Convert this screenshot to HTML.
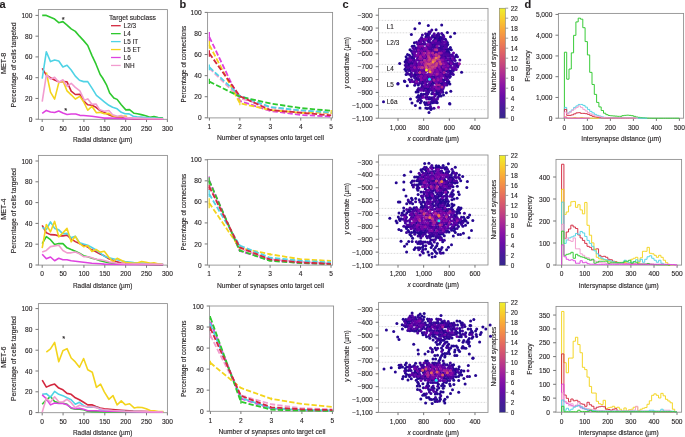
<!DOCTYPE html><html><head><meta charset="utf-8"><style>html,body{margin:0;padding:0;background:#fff;}body{width:685px;height:437px;overflow:hidden;position:relative;}</style></head><body><svg width="685" height="437" viewBox="0 0 685 437" style="position:absolute;left:0;top:0;will-change:transform;font-family:'Liberation Sans', sans-serif;fill:#231f20"><style>text{stroke:#231f20;stroke-width:0.12px;}</style>
<rect width="685" height="437" fill="#fff"/>
<text x="-0.40" y="7.75" font-size="11" text-anchor="start" font-weight="bold">a</text>
<text x="179.60" y="7.75" font-size="11" text-anchor="start" font-weight="bold">b</text>
<text x="342.60" y="7.75" font-size="11" text-anchor="start" font-weight="bold">c</text>
<text x="524.60" y="7.75" font-size="11" text-anchor="start" font-weight="bold">d</text>
<rect x="38.40" y="9.60" width="129.00" height="109.70" fill="none" stroke="#8c8c8c" stroke-width="0.85"/>
<line x1="35.50" y1="119.20" x2="38.40" y2="119.20" stroke="#777" stroke-width="1.0" />
<text x="32.40" y="121.75" font-size="6.6" text-anchor="end">0</text>
<line x1="35.50" y1="98.44" x2="38.40" y2="98.44" stroke="#777" stroke-width="1.0" />
<text x="32.40" y="100.99" font-size="6.6" text-anchor="end">20</text>
<line x1="35.50" y1="77.68" x2="38.40" y2="77.68" stroke="#777" stroke-width="1.0" />
<text x="32.40" y="80.23" font-size="6.6" text-anchor="end">40</text>
<line x1="35.50" y1="56.92" x2="38.40" y2="56.92" stroke="#777" stroke-width="1.0" />
<text x="32.40" y="59.47" font-size="6.6" text-anchor="end">60</text>
<line x1="35.50" y1="36.16" x2="38.40" y2="36.16" stroke="#777" stroke-width="1.0" />
<text x="32.40" y="38.71" font-size="6.6" text-anchor="end">80</text>
<line x1="35.50" y1="15.40" x2="38.40" y2="15.40" stroke="#777" stroke-width="1.0" />
<text x="32.40" y="17.95" font-size="6.6" text-anchor="end">100</text>
<line x1="42.20" y1="119.30" x2="42.20" y2="122.00" stroke="#777" stroke-width="1.0" />
<text x="42.20" y="130.60" font-size="6.6" text-anchor="middle">0</text>
<line x1="63.07" y1="119.30" x2="63.07" y2="122.00" stroke="#777" stroke-width="1.0" />
<text x="63.07" y="130.60" font-size="6.6" text-anchor="middle">50</text>
<line x1="83.93" y1="119.30" x2="83.93" y2="122.00" stroke="#777" stroke-width="1.0" />
<text x="83.93" y="130.60" font-size="6.6" text-anchor="middle">100</text>
<line x1="104.80" y1="119.30" x2="104.80" y2="122.00" stroke="#777" stroke-width="1.0" />
<text x="104.80" y="130.60" font-size="6.6" text-anchor="middle">150</text>
<line x1="125.66" y1="119.30" x2="125.66" y2="122.00" stroke="#777" stroke-width="1.0" />
<text x="125.66" y="130.60" font-size="6.6" text-anchor="middle">200</text>
<line x1="146.53" y1="119.30" x2="146.53" y2="122.00" stroke="#777" stroke-width="1.0" />
<text x="146.53" y="130.60" font-size="6.6" text-anchor="middle">250</text>
<line x1="167.39" y1="119.30" x2="167.39" y2="122.00" stroke="#777" stroke-width="1.0" />
<text x="167.39" y="130.60" font-size="6.6" text-anchor="middle">300</text>
<text x="102.60" y="141.70" font-size="6.4" text-anchor="middle" textLength="59.4" lengthAdjust="spacingAndGlyphs">Radial distance (µm)</text>
<text x="15.60" y="64.90" font-size="6.4" text-anchor="middle" transform="rotate(-90 15.60 64.90)" textLength="85" lengthAdjust="spacingAndGlyphs">Percentage of cells targeted</text>
<text x="5.60" y="63.40" font-size="6.4" text-anchor="middle" transform="rotate(-90 5.60 63.40)" textLength="21.3" lengthAdjust="spacingAndGlyphs">MET-8</text>
<polyline points="42.20,68.34 46.34,75.19 50.48,77.68 54.62,79.96 58.76,81.83 62.90,81.52 67.04,81.83 71.18,91.17 75.32,94.50 79.87,94.39 83.60,100.93 87.74,104.77 91.88,105.29 96.02,107.26 99.75,110.27 104.30,112.56 108.85,114.74 112.58,116.19 117.13,117.12 121.27,117.64 125.00,118.16 133.28,118.58 145.70,118.78 163.09,118.99" fill="none" stroke="#d3283f" stroke-width="1.6" stroke-linejoin="round"/>
<polyline points="42.20,15.40 46.34,15.40 50.48,17.16 54.62,19.03 58.76,22.67 62.90,21.63 67.04,25.05 71.18,28.89 75.32,31.39 79.46,36.16 83.60,40.62 87.74,45.50 91.88,55.36 96.02,64.19 100.16,74.57 102.64,77.99 106.78,85.47 109.68,92.94 113.82,97.92 117.13,99.37 121.27,104.77 125.83,109.86 129.55,109.65 134.11,113.28 137.42,113.80 141.15,114.63 145.70,115.77 149.84,117.23 153.98,116.61 158.12,117.64 163.09,118.16" fill="none" stroke="#2ec82e" stroke-width="1.6" stroke-linejoin="round"/>
<polyline points="42.20,78.72 46.34,51.73 50.48,61.59 54.62,60.03 58.76,61.07 62.90,66.99 67.04,65.22 71.18,70.00 75.32,76.12 79.46,80.28 83.60,81.62 87.74,81.62 92.29,88.58 96.43,95.43 100.16,98.44 104.30,101.76 108.85,105.29 112.58,107.26 117.13,108.82 121.27,112.35 125.00,113.70 129.14,113.91 133.28,116.19 137.01,116.71 141.15,117.12 145.70,117.54 149.84,117.85 153.98,118.06 158.12,118.27 163.09,118.47" fill="none" stroke="#4fd3e5" stroke-width="1.6" stroke-linejoin="round"/>
<polyline points="46.34,72.49 50.48,92.21 54.62,99.17 58.76,82.87 62.90,80.79 67.04,90.86 71.18,94.81 75.32,99.06 79.87,96.36 83.60,101.76 87.74,110.27 91.88,106.33 96.43,112.76 100.16,112.35 104.30,113.80 108.85,113.39 112.58,115.67 117.13,116.71 121.27,116.71 125.00,116.09 127.07,116.61" fill="none" stroke="#f3d41c" stroke-width="1.6" stroke-linejoin="round"/>
<polyline points="42.20,113.39 46.34,110.38 50.48,111.93 54.62,112.45 58.76,111.00 62.90,112.97 67.04,114.43 71.18,114.01 75.73,114.01 79.87,115.36 83.60,115.57 91.88,116.19 100.57,117.44 104.30,118.16 108.85,118.16 125.00,118.58 145.70,118.78 163.09,118.89" fill="none" stroke="#df42e0" stroke-width="1.6" stroke-linejoin="round"/>
<polyline points="42.20,101.55 46.34,75.09 50.48,78.93 54.62,77.37 58.76,82.35 62.90,79.76 67.04,86.30 71.18,83.29 75.32,87.33 79.87,90.86 84.43,100.31 87.74,98.86 91.88,104.25 96.02,104.05 99.75,109.86 104.30,111.31 108.85,110.58 112.58,114.74 117.13,116.19 121.27,115.46 125.00,117.12 129.14,117.95 137.42,118.16 149.84,118.58 163.09,118.78" fill="none" stroke="#f29ccf" stroke-width="1.6" stroke-linejoin="round"/>
<text x="63.30" y="22.10" font-size="7.5" text-anchor="middle">*</text>
<text x="65.80" y="113.20" font-size="7.5" text-anchor="middle">*</text>
<text x="109.00" y="20.30" font-size="6.4" text-anchor="start" textLength="46.9" lengthAdjust="spacingAndGlyphs">Target subclass</text>
<line x1="111.00" y1="25.70" x2="120.70" y2="25.70" stroke="#d3283f" stroke-width="1.3" />
<text x="123.60" y="28.00" font-size="6.4" text-anchor="start">L2/3</text>
<line x1="111.00" y1="33.65" x2="120.70" y2="33.65" stroke="#2ec82e" stroke-width="1.3" />
<text x="123.60" y="35.95" font-size="6.4" text-anchor="start">L4</text>
<line x1="111.00" y1="41.60" x2="120.70" y2="41.60" stroke="#4fd3e5" stroke-width="1.3" />
<text x="123.60" y="43.90" font-size="6.4" text-anchor="start">L5 IT</text>
<line x1="111.00" y1="49.55" x2="120.70" y2="49.55" stroke="#f3d41c" stroke-width="1.3" />
<text x="123.60" y="51.85" font-size="6.4" text-anchor="start">L5 ET</text>
<line x1="111.00" y1="57.50" x2="120.70" y2="57.50" stroke="#df42e0" stroke-width="1.3" />
<text x="123.60" y="59.80" font-size="6.4" text-anchor="start">L6</text>
<line x1="111.00" y1="65.45" x2="120.70" y2="65.45" stroke="#f29ccf" stroke-width="1.3" />
<text x="123.60" y="67.75" font-size="6.4" text-anchor="start">INH</text>
<rect x="207.60" y="12.40" width="125.00" height="105.50" fill="none" stroke="#8c8c8c" stroke-width="0.85"/>
<line x1="204.70" y1="117.80" x2="207.60" y2="117.80" stroke="#777" stroke-width="1.0" />
<text x="201.60" y="120.35" font-size="6.6" text-anchor="end">0</text>
<line x1="204.70" y1="96.72" x2="207.60" y2="96.72" stroke="#777" stroke-width="1.0" />
<text x="201.60" y="99.27" font-size="6.6" text-anchor="end">20</text>
<line x1="204.70" y1="75.64" x2="207.60" y2="75.64" stroke="#777" stroke-width="1.0" />
<text x="201.60" y="78.19" font-size="6.6" text-anchor="end">40</text>
<line x1="204.70" y1="54.56" x2="207.60" y2="54.56" stroke="#777" stroke-width="1.0" />
<text x="201.60" y="57.11" font-size="6.6" text-anchor="end">60</text>
<line x1="204.70" y1="33.48" x2="207.60" y2="33.48" stroke="#777" stroke-width="1.0" />
<text x="201.60" y="36.03" font-size="6.6" text-anchor="end">80</text>
<line x1="204.70" y1="12.40" x2="207.60" y2="12.40" stroke="#777" stroke-width="1.0" />
<text x="201.60" y="14.95" font-size="6.6" text-anchor="end">100</text>
<line x1="209.40" y1="117.90" x2="209.40" y2="120.60" stroke="#777" stroke-width="1.0" />
<text x="209.40" y="129.20" font-size="6.6" text-anchor="middle">1</text>
<line x1="239.85" y1="117.90" x2="239.85" y2="120.60" stroke="#777" stroke-width="1.0" />
<text x="239.85" y="129.20" font-size="6.6" text-anchor="middle">2</text>
<line x1="270.30" y1="117.90" x2="270.30" y2="120.60" stroke="#777" stroke-width="1.0" />
<text x="270.30" y="129.20" font-size="6.6" text-anchor="middle">3</text>
<line x1="300.75" y1="117.90" x2="300.75" y2="120.60" stroke="#777" stroke-width="1.0" />
<text x="300.75" y="129.20" font-size="6.6" text-anchor="middle">4</text>
<line x1="331.20" y1="117.90" x2="331.20" y2="120.60" stroke="#777" stroke-width="1.0" />
<text x="331.20" y="129.20" font-size="6.6" text-anchor="middle">5</text>
<text x="270.50" y="140.30" font-size="6.4" text-anchor="middle" textLength="107" lengthAdjust="spacingAndGlyphs">Number of synapses onto target cell</text>
<text x="186.00" y="64.10" font-size="6.4" text-anchor="middle" transform="rotate(-90 186.00 64.10)" textLength="76.6" lengthAdjust="spacingAndGlyphs">Percentage of connections</text>
<polyline points="209.40,68.26 239.85,98.09 270.30,107.47 300.75,110.63 331.20,113.58" fill="none" stroke="#f29ccf" stroke-width="1.8" stroke-linejoin="round" stroke-dasharray="5.3,2.2"/>
<polyline points="209.40,37.17 239.85,100.94 270.30,110.95 300.75,114.95 331.20,116.54" fill="none" stroke="#df42e0" stroke-width="1.8" stroke-linejoin="round" stroke-dasharray="5.3,2.2"/>
<line x1="209.40" y1="41.38" x2="209.40" y2="32.00" stroke="#df42e0" stroke-width="1.2" />
<polyline points="209.40,45.07 239.85,103.25 270.30,110.00 300.75,112.85 331.20,112.53" fill="none" stroke="#f3d41c" stroke-width="1.8" stroke-linejoin="round" stroke-dasharray="5.3,2.2"/>
<line x1="209.40" y1="48.76" x2="209.40" y2="40.86" stroke="#f3d41c" stroke-width="1.2" />
<line x1="239.85" y1="105.15" x2="239.85" y2="99.04" stroke="#f3d41c" stroke-width="1.2" />
<line x1="331.20" y1="114.11" x2="331.20" y2="109.89" stroke="#f3d41c" stroke-width="1.2" />
<polyline points="209.40,67.21 239.85,95.67 270.30,107.05 300.75,110.32 331.20,112.53" fill="none" stroke="#4fd3e5" stroke-width="1.8" stroke-linejoin="round" stroke-dasharray="5.3,2.2"/>
<line x1="209.40" y1="70.37" x2="209.40" y2="64.57" stroke="#4fd3e5" stroke-width="1.2" />
<polyline points="209.40,81.65 239.85,96.61 270.30,103.47 300.75,108.10 331.20,110.74" fill="none" stroke="#2ec82e" stroke-width="1.8" stroke-linejoin="round" stroke-dasharray="5.3,2.2"/>
<line x1="209.40" y1="84.07" x2="209.40" y2="78.80" stroke="#2ec82e" stroke-width="1.2" />
<polyline points="209.40,53.51 239.85,96.19 270.30,110.00 300.75,112.74 331.20,115.38" fill="none" stroke="#d3283f" stroke-width="1.8" stroke-linejoin="round" stroke-dasharray="5.3,2.2"/>
<line x1="209.40" y1="56.77" x2="209.40" y2="50.34" stroke="#d3283f" stroke-width="1.2" />
<rect x="378.60" y="8.40" width="109.40" height="109.80" fill="none" stroke="#8c8c8c" stroke-width="0.85"/>
<line x1="378.60" y1="20.40" x2="488.00" y2="20.40" stroke="#d2d2d2" stroke-width="0.8" stroke-dasharray="1.7,1.3"/>
<line x1="378.60" y1="32.80" x2="488.00" y2="32.80" stroke="#d2d2d2" stroke-width="0.8" stroke-dasharray="1.7,1.3"/>
<line x1="378.60" y1="64.40" x2="488.00" y2="64.40" stroke="#d2d2d2" stroke-width="0.8" stroke-dasharray="1.7,1.3"/>
<line x1="378.60" y1="72.20" x2="488.00" y2="72.20" stroke="#d2d2d2" stroke-width="0.8" stroke-dasharray="1.7,1.3"/>
<line x1="378.60" y1="96.50" x2="488.00" y2="96.50" stroke="#d2d2d2" stroke-width="0.8" stroke-dasharray="1.7,1.3"/>
<line x1="378.60" y1="109.60" x2="488.00" y2="109.60" stroke="#d2d2d2" stroke-width="0.8" stroke-dasharray="1.7,1.3"/>
<line x1="375.70" y1="15.20" x2="378.60" y2="15.20" stroke="#777" stroke-width="1.0" />
<text x="372.60" y="17.75" font-size="6.6" text-anchor="end">−300</text>
<line x1="375.70" y1="28.07" x2="378.60" y2="28.07" stroke="#777" stroke-width="1.0" />
<text x="372.60" y="30.62" font-size="6.6" text-anchor="end">−400</text>
<line x1="375.70" y1="40.95" x2="378.60" y2="40.95" stroke="#777" stroke-width="1.0" />
<text x="372.60" y="43.50" font-size="6.6" text-anchor="end">−500</text>
<line x1="375.70" y1="53.83" x2="378.60" y2="53.83" stroke="#777" stroke-width="1.0" />
<text x="372.60" y="56.38" font-size="6.6" text-anchor="end">−600</text>
<line x1="375.70" y1="66.70" x2="378.60" y2="66.70" stroke="#777" stroke-width="1.0" />
<text x="372.60" y="69.25" font-size="6.6" text-anchor="end">−700</text>
<line x1="375.70" y1="79.58" x2="378.60" y2="79.58" stroke="#777" stroke-width="1.0" />
<text x="372.60" y="82.12" font-size="6.6" text-anchor="end">−800</text>
<line x1="375.70" y1="92.45" x2="378.60" y2="92.45" stroke="#777" stroke-width="1.0" />
<text x="372.60" y="95.00" font-size="6.6" text-anchor="end">−900</text>
<line x1="375.70" y1="105.33" x2="378.60" y2="105.33" stroke="#777" stroke-width="1.0" />
<text x="372.60" y="107.88" font-size="6.6" text-anchor="end">−1,000</text>
<line x1="375.70" y1="118.20" x2="378.60" y2="118.20" stroke="#777" stroke-width="1.0" />
<text x="372.60" y="120.75" font-size="6.6" text-anchor="end">−1,100</text>
<line x1="398.00" y1="118.20" x2="398.00" y2="120.90" stroke="#777" stroke-width="1.0" />
<text x="398.00" y="129.50" font-size="6.6" text-anchor="middle">1,000</text>
<line x1="423.66" y1="118.20" x2="423.66" y2="120.90" stroke="#777" stroke-width="1.0" />
<text x="423.66" y="129.50" font-size="6.6" text-anchor="middle">800</text>
<line x1="449.32" y1="118.20" x2="449.32" y2="120.90" stroke="#777" stroke-width="1.0" />
<text x="449.32" y="129.50" font-size="6.6" text-anchor="middle">600</text>
<line x1="474.98" y1="118.20" x2="474.98" y2="120.90" stroke="#777" stroke-width="1.0" />
<text x="474.98" y="129.50" font-size="6.6" text-anchor="middle">400</text>
<text x="433.20" y="140.60" font-size="6.4" text-anchor="middle" textLength="51.5" lengthAdjust="spacingAndGlyphs"><tspan font-style="italic">x</tspan> coordinate (µm)</text>
<text x="349.20" y="62.80" font-size="6.4" text-anchor="middle" transform="rotate(-90 349.20 62.80)" textLength="51.5" lengthAdjust="spacingAndGlyphs"><tspan font-style="italic">y</tspan> coordinate (µm)</text>
<text x="386.80" y="28.50" font-size="6.4" text-anchor="start">L1</text>
<text x="386.80" y="45.30" font-size="6.4" text-anchor="start">L2/3</text>
<text x="386.80" y="70.50" font-size="6.4" text-anchor="start">L4</text>
<text x="386.80" y="87.30" font-size="6.4" text-anchor="start">L5</text>
<text x="386.80" y="104.00" font-size="6.4" text-anchor="start">L6a</text>
<circle cx="383.5" cy="101.8" r="1.5" fill="#250691"/>
<circle cx="397.9" cy="84.0" r="1.5" fill="#250691"/>
<circle cx="398.0" cy="83.6" r="1.5" fill="#250691"/>
<circle cx="399.7" cy="63.5" r="1.5" fill="#250691"/>
<circle cx="404.4" cy="81.0" r="1.5" fill="#250691"/>
<circle cx="404.9" cy="81.6" r="1.5" fill="#250691"/>
<circle cx="405.0" cy="69.2" r="1.5" fill="#250691"/>
<circle cx="405.1" cy="61.7" r="1.5" fill="#250691"/>
<circle cx="406.0" cy="71.1" r="1.5" fill="#250691"/>
<circle cx="406.1" cy="74.4" r="1.5" fill="#250691"/>
<circle cx="406.1" cy="56.8" r="1.5" fill="#250691"/>
<circle cx="406.2" cy="59.9" r="1.5" fill="#250691"/>
<circle cx="407.0" cy="58.7" r="1.5" fill="#250691"/>
<circle cx="407.1" cy="62.3" r="1.5" fill="#250691"/>
<circle cx="407.3" cy="85.7" r="1.5" fill="#250691"/>
<circle cx="407.5" cy="54.6" r="1.5" fill="#250691"/>
<circle cx="407.5" cy="68.9" r="1.5" fill="#250691"/>
<circle cx="408.5" cy="64.0" r="1.5" fill="#250691"/>
<circle cx="408.9" cy="65.8" r="1.5" fill="#250691"/>
<circle cx="409.3" cy="55.2" r="1.5" fill="#250691"/>
<circle cx="409.3" cy="69.3" r="1.5" fill="#250691"/>
<circle cx="410.0" cy="74.4" r="1.5" fill="#250691"/>
<circle cx="410.0" cy="49.7" r="1.5" fill="#250691"/>
<circle cx="410.4" cy="70.6" r="1.5" fill="#250691"/>
<circle cx="410.5" cy="64.0" r="1.5" fill="#250691"/>
<circle cx="410.5" cy="99.0" r="1.5" fill="#250691"/>
<circle cx="411.4" cy="34.4" r="1.5" fill="#250691"/>
<circle cx="411.6" cy="51.2" r="1.5" fill="#250691"/>
<circle cx="411.6" cy="58.2" r="1.5" fill="#250691"/>
<circle cx="412.0" cy="57.0" r="1.5" fill="#250691"/>
<circle cx="412.0" cy="103.0" r="1.5" fill="#250691"/>
<circle cx="412.3" cy="46.2" r="1.5" fill="#250691"/>
<circle cx="412.5" cy="63.4" r="1.5" fill="#250691"/>
<circle cx="412.6" cy="53.1" r="1.5" fill="#250691"/>
<circle cx="413.2" cy="54.6" r="1.5" fill="#250691"/>
<circle cx="413.5" cy="58.2" r="1.5" fill="#250691"/>
<circle cx="414.1" cy="46.0" r="1.5" fill="#250691"/>
<circle cx="414.4" cy="42.7" r="1.5" fill="#250691"/>
<circle cx="414.6" cy="74.4" r="1.5" fill="#250691"/>
<circle cx="414.7" cy="85.2" r="1.5" fill="#250691"/>
<circle cx="414.9" cy="28.7" r="1.5" fill="#250691"/>
<circle cx="415.1" cy="76.1" r="1.5" fill="#250691"/>
<circle cx="415.4" cy="105.5" r="1.5" fill="#250691"/>
<circle cx="415.7" cy="47.7" r="1.5" fill="#250691"/>
<circle cx="416.1" cy="91.9" r="1.5" fill="#250691"/>
<circle cx="416.6" cy="63.7" r="1.5" fill="#250691"/>
<circle cx="416.6" cy="78.1" r="1.5" fill="#250691"/>
<circle cx="416.7" cy="74.6" r="1.5" fill="#250691"/>
<circle cx="417.1" cy="97.3" r="1.5" fill="#250691"/>
<circle cx="417.3" cy="79.9" r="1.5" fill="#250691"/>
<circle cx="417.6" cy="90.1" r="1.5" fill="#250691"/>
<circle cx="417.7" cy="101.1" r="1.5" fill="#250691"/>
<circle cx="418.1" cy="91.9" r="1.5" fill="#250691"/>
<circle cx="418.2" cy="74.4" r="1.5" fill="#250691"/>
<circle cx="418.3" cy="85.1" r="1.5" fill="#250691"/>
<circle cx="418.4" cy="95.5" r="1.5" fill="#250691"/>
<circle cx="418.6" cy="70.7" r="1.5" fill="#250691"/>
<circle cx="419.2" cy="40.7" r="1.5" fill="#250691"/>
<circle cx="419.4" cy="79.7" r="1.5" fill="#250691"/>
<circle cx="419.4" cy="97.6" r="1.5" fill="#250691"/>
<circle cx="419.5" cy="23.3" r="1.5" fill="#250691"/>
<circle cx="419.6" cy="44.1" r="1.5" fill="#250691"/>
<circle cx="420.0" cy="108.0" r="1.5" fill="#250691"/>
<circle cx="420.2" cy="99.5" r="1.5" fill="#250691"/>
<circle cx="420.4" cy="102.7" r="1.5" fill="#250691"/>
<circle cx="420.6" cy="95.7" r="1.5" fill="#250691"/>
<circle cx="420.8" cy="74.3" r="1.5" fill="#250691"/>
<circle cx="421.4" cy="94.1" r="1.5" fill="#250691"/>
<circle cx="421.4" cy="101.1" r="1.5" fill="#250691"/>
<circle cx="421.5" cy="47.5" r="1.5" fill="#250691"/>
<circle cx="421.8" cy="86.9" r="1.5" fill="#250691"/>
<circle cx="421.9" cy="83.5" r="1.5" fill="#250691"/>
<circle cx="422.5" cy="81.2" r="1.5" fill="#250691"/>
<circle cx="423.5" cy="40.8" r="1.5" fill="#250691"/>
<circle cx="423.7" cy="94.3" r="1.5" fill="#250691"/>
<circle cx="423.8" cy="51.6" r="1.5" fill="#250691"/>
<circle cx="424.3" cy="88.4" r="1.5" fill="#250691"/>
<circle cx="424.5" cy="102.5" r="1.5" fill="#250691"/>
<circle cx="425.4" cy="104.6" r="1.5" fill="#250691"/>
<circle cx="425.7" cy="94.1" r="1.5" fill="#250691"/>
<circle cx="425.7" cy="97.5" r="1.5" fill="#250691"/>
<circle cx="425.8" cy="108.1" r="1.5" fill="#250691"/>
<circle cx="425.9" cy="36.9" r="1.5" fill="#250691"/>
<circle cx="426.4" cy="84.8" r="1.5" fill="#250691"/>
<circle cx="426.4" cy="88.3" r="1.5" fill="#250691"/>
<circle cx="426.7" cy="35.3" r="1.5" fill="#250691"/>
<circle cx="426.8" cy="102.8" r="1.5" fill="#250691"/>
<circle cx="427.3" cy="108.4" r="1.5" fill="#250691"/>
<circle cx="427.5" cy="97.3" r="1.5" fill="#250691"/>
<circle cx="427.8" cy="40.7" r="1.5" fill="#250691"/>
<circle cx="427.9" cy="90.1" r="1.5" fill="#250691"/>
<circle cx="428.0" cy="33.9" r="1.5" fill="#250691"/>
<circle cx="428.3" cy="25.6" r="1.5" fill="#250691"/>
<circle cx="428.4" cy="35.5" r="1.5" fill="#250691"/>
<circle cx="428.8" cy="39.3" r="1.5" fill="#250691"/>
<circle cx="428.8" cy="88.7" r="1.5" fill="#250691"/>
<circle cx="428.9" cy="49.8" r="1.5" fill="#250691"/>
<circle cx="428.9" cy="99.1" r="1.5" fill="#250691"/>
<circle cx="429.0" cy="112.4" r="1.5" fill="#250691"/>
<circle cx="429.4" cy="108.1" r="1.5" fill="#250691"/>
<circle cx="429.9" cy="104.3" r="1.5" fill="#250691"/>
<circle cx="430.6" cy="98.9" r="1.5" fill="#250691"/>
<circle cx="430.8" cy="102.5" r="1.5" fill="#250691"/>
<circle cx="430.9" cy="85.3" r="1.5" fill="#250691"/>
<circle cx="430.9" cy="109.6" r="1.5" fill="#250691"/>
<circle cx="430.9" cy="42.7" r="1.5" fill="#250691"/>
<circle cx="431.4" cy="83.4" r="1.5" fill="#250691"/>
<circle cx="431.5" cy="47.6" r="1.5" fill="#250691"/>
<circle cx="431.5" cy="108.5" r="1.5" fill="#250691"/>
<circle cx="431.6" cy="76.2" r="1.5" fill="#250691"/>
<circle cx="431.8" cy="93.8" r="1.5" fill="#250691"/>
<circle cx="431.8" cy="90.2" r="1.5" fill="#250691"/>
<circle cx="431.9" cy="44.1" r="1.5" fill="#250691"/>
<circle cx="432.0" cy="97.7" r="1.5" fill="#250691"/>
<circle cx="432.5" cy="81.7" r="1.5" fill="#250691"/>
<circle cx="432.6" cy="35.7" r="1.5" fill="#250691"/>
<circle cx="432.7" cy="102.8" r="1.5" fill="#250691"/>
<circle cx="434.0" cy="83.1" r="1.5" fill="#250691"/>
<circle cx="434.0" cy="36.8" r="1.5" fill="#250691"/>
<circle cx="434.1" cy="100.9" r="1.5" fill="#250691"/>
<circle cx="434.2" cy="76.4" r="1.5" fill="#250691"/>
<circle cx="434.8" cy="77.6" r="1.5" fill="#250691"/>
<circle cx="434.9" cy="38.9" r="1.5" fill="#250691"/>
<circle cx="435.1" cy="46.0" r="1.5" fill="#250691"/>
<circle cx="435.6" cy="79.9" r="1.5" fill="#250691"/>
<circle cx="436.0" cy="94.2" r="1.5" fill="#250691"/>
<circle cx="436.0" cy="90.3" r="1.5" fill="#250691"/>
<circle cx="436.1" cy="29.7" r="1.5" fill="#250691"/>
<circle cx="436.1" cy="37.2" r="1.5" fill="#250691"/>
<circle cx="436.2" cy="101.2" r="1.5" fill="#250691"/>
<circle cx="436.7" cy="91.9" r="1.5" fill="#250691"/>
<circle cx="437.2" cy="102.8" r="1.5" fill="#250691"/>
<circle cx="437.3" cy="35.1" r="1.5" fill="#250691"/>
<circle cx="437.9" cy="40.8" r="1.5" fill="#250691"/>
<circle cx="437.9" cy="93.8" r="1.5" fill="#250691"/>
<circle cx="438.0" cy="86.7" r="1.5" fill="#250691"/>
<circle cx="438.8" cy="92.3" r="1.5" fill="#250691"/>
<circle cx="438.8" cy="95.9" r="1.5" fill="#250691"/>
<circle cx="438.8" cy="39.0" r="1.5" fill="#250691"/>
<circle cx="439.6" cy="83.6" r="1.5" fill="#250691"/>
<circle cx="439.7" cy="72.3" r="1.5" fill="#250691"/>
<circle cx="439.7" cy="37.0" r="1.5" fill="#250691"/>
<circle cx="439.9" cy="40.8" r="1.5" fill="#250691"/>
<circle cx="440.2" cy="47.9" r="1.5" fill="#250691"/>
<circle cx="441.0" cy="95.9" r="1.5" fill="#250691"/>
<circle cx="441.3" cy="39.0" r="1.5" fill="#250691"/>
<circle cx="441.3" cy="42.5" r="1.5" fill="#250691"/>
<circle cx="441.7" cy="25.0" r="1.5" fill="#250691"/>
<circle cx="441.9" cy="83.1" r="1.5" fill="#250691"/>
<circle cx="441.9" cy="37.4" r="1.5" fill="#250691"/>
<circle cx="442.0" cy="79.6" r="1.5" fill="#250691"/>
<circle cx="442.8" cy="92.3" r="1.5" fill="#250691"/>
<circle cx="443.1" cy="35.3" r="1.5" fill="#250691"/>
<circle cx="443.4" cy="45.9" r="1.5" fill="#250691"/>
<circle cx="443.5" cy="95.0" r="1.5" fill="#250691"/>
<circle cx="444.0" cy="79.9" r="1.5" fill="#250691"/>
<circle cx="444.8" cy="49.3" r="1.5" fill="#250691"/>
<circle cx="445.0" cy="56.6" r="1.5" fill="#250691"/>
<circle cx="445.4" cy="39.2" r="1.5" fill="#250691"/>
<circle cx="445.8" cy="76.1" r="1.5" fill="#250691"/>
<circle cx="446.3" cy="51.5" r="1.5" fill="#250691"/>
<circle cx="446.4" cy="92.7" r="1.5" fill="#250691"/>
<circle cx="446.9" cy="71.0" r="1.5" fill="#250691"/>
<circle cx="447.3" cy="49.6" r="1.5" fill="#250691"/>
<circle cx="447.4" cy="32.4" r="1.5" fill="#250691"/>
<circle cx="447.4" cy="81.7" r="1.5" fill="#250691"/>
<circle cx="447.4" cy="42.4" r="1.5" fill="#250691"/>
<circle cx="447.8" cy="83.3" r="1.5" fill="#250691"/>
<circle cx="447.8" cy="44.4" r="1.5" fill="#250691"/>
<circle cx="448.4" cy="51.4" r="1.5" fill="#250691"/>
<circle cx="448.9" cy="81.7" r="1.5" fill="#250691"/>
<circle cx="448.9" cy="63.8" r="1.5" fill="#250691"/>
<circle cx="449.0" cy="49.3" r="1.5" fill="#250691"/>
<circle cx="449.1" cy="52.9" r="1.5" fill="#250691"/>
<circle cx="449.2" cy="70.8" r="1.5" fill="#250691"/>
<circle cx="449.6" cy="103.6" r="1.5" fill="#250691"/>
<circle cx="449.9" cy="84.0" r="1.5" fill="#250691"/>
<circle cx="449.9" cy="104.1" r="1.5" fill="#250691"/>
<circle cx="450.3" cy="58.5" r="1.5" fill="#250691"/>
<circle cx="450.3" cy="76.4" r="1.5" fill="#250691"/>
<circle cx="450.4" cy="73.0" r="1.5" fill="#250691"/>
<circle cx="450.4" cy="47.6" r="1.5" fill="#250691"/>
<circle cx="450.5" cy="36.7" r="1.5" fill="#250691"/>
<circle cx="450.8" cy="91.3" r="1.5" fill="#250691"/>
<circle cx="451.0" cy="74.1" r="1.5" fill="#250691"/>
<circle cx="451.3" cy="70.8" r="1.5" fill="#250691"/>
<circle cx="451.3" cy="49.8" r="1.5" fill="#250691"/>
<circle cx="453.4" cy="70.6" r="1.5" fill="#250691"/>
<circle cx="454.1" cy="58.2" r="1.5" fill="#250691"/>
<circle cx="454.6" cy="33.2" r="1.5" fill="#250691"/>
<circle cx="455.7" cy="56.6" r="1.5" fill="#250691"/>
<circle cx="456.4" cy="55.1" r="1.5" fill="#250691"/>
<circle cx="456.4" cy="65.4" r="1.5" fill="#250691"/>
<circle cx="461.6" cy="72.3" r="1.5" fill="#250691"/>
<circle cx="405.4" cy="65.2" r="1.5" fill="#3c049b"/>
<circle cx="406.1" cy="63.6" r="1.5" fill="#3c049b"/>
<circle cx="406.1" cy="67.0" r="1.5" fill="#3c049b"/>
<circle cx="406.9" cy="65.8" r="1.5" fill="#3c049b"/>
<circle cx="407.2" cy="72.9" r="1.5" fill="#3c049b"/>
<circle cx="408.1" cy="74.1" r="1.5" fill="#3c049b"/>
<circle cx="408.2" cy="60.4" r="1.5" fill="#3c049b"/>
<circle cx="408.6" cy="70.5" r="1.5" fill="#3c049b"/>
<circle cx="409.1" cy="79.4" r="1.5" fill="#3c049b"/>
<circle cx="410.2" cy="56.5" r="1.5" fill="#3c049b"/>
<circle cx="410.3" cy="81.7" r="1.5" fill="#3c049b"/>
<circle cx="410.6" cy="67.3" r="1.5" fill="#3c049b"/>
<circle cx="411.2" cy="62.2" r="1.5" fill="#3c049b"/>
<circle cx="411.2" cy="76.5" r="1.5" fill="#3c049b"/>
<circle cx="411.4" cy="72.9" r="1.5" fill="#3c049b"/>
<circle cx="411.6" cy="79.8" r="1.5" fill="#3c049b"/>
<circle cx="413.5" cy="75.9" r="1.5" fill="#3c049b"/>
<circle cx="414.0" cy="81.7" r="1.5" fill="#3c049b"/>
<circle cx="414.3" cy="60.3" r="1.5" fill="#3c049b"/>
<circle cx="414.6" cy="77.7" r="1.5" fill="#3c049b"/>
<circle cx="415.6" cy="72.8" r="1.5" fill="#3c049b"/>
<circle cx="415.7" cy="80.0" r="1.5" fill="#3c049b"/>
<circle cx="416.5" cy="42.2" r="1.5" fill="#3c049b"/>
<circle cx="416.6" cy="49.6" r="1.5" fill="#3c049b"/>
<circle cx="417.4" cy="51.2" r="1.5" fill="#3c049b"/>
<circle cx="417.6" cy="43.9" r="1.5" fill="#3c049b"/>
<circle cx="418.3" cy="56.8" r="1.5" fill="#3c049b"/>
<circle cx="418.4" cy="78.2" r="1.5" fill="#3c049b"/>
<circle cx="418.5" cy="88.6" r="1.5" fill="#3c049b"/>
<circle cx="418.7" cy="99.6" r="1.5" fill="#3c049b"/>
<circle cx="419.7" cy="83.2" r="1.5" fill="#3c049b"/>
<circle cx="419.7" cy="90.0" r="1.5" fill="#3c049b"/>
<circle cx="420.5" cy="53.3" r="1.5" fill="#3c049b"/>
<circle cx="421.6" cy="37.4" r="1.5" fill="#3c049b"/>
<circle cx="421.7" cy="44.0" r="1.5" fill="#3c049b"/>
<circle cx="421.8" cy="97.5" r="1.5" fill="#3c049b"/>
<circle cx="422.2" cy="74.5" r="1.5" fill="#3c049b"/>
<circle cx="422.3" cy="85.4" r="1.5" fill="#3c049b"/>
<circle cx="422.4" cy="35.1" r="1.5" fill="#3c049b"/>
<circle cx="422.4" cy="60.2" r="1.5" fill="#3c049b"/>
<circle cx="422.5" cy="78.2" r="1.5" fill="#3c049b"/>
<circle cx="422.5" cy="95.5" r="1.5" fill="#3c049b"/>
<circle cx="422.8" cy="49.6" r="1.5" fill="#3c049b"/>
<circle cx="422.8" cy="70.6" r="1.5" fill="#3c049b"/>
<circle cx="423.3" cy="83.0" r="1.5" fill="#3c049b"/>
<circle cx="423.4" cy="87.1" r="1.5" fill="#3c049b"/>
<circle cx="423.6" cy="44.2" r="1.5" fill="#3c049b"/>
<circle cx="423.6" cy="90.4" r="1.5" fill="#3c049b"/>
<circle cx="424.6" cy="71.2" r="1.5" fill="#3c049b"/>
<circle cx="425.4" cy="44.0" r="1.5" fill="#3c049b"/>
<circle cx="425.6" cy="33.7" r="1.5" fill="#3c049b"/>
<circle cx="425.8" cy="58.2" r="1.5" fill="#3c049b"/>
<circle cx="425.8" cy="51.0" r="1.5" fill="#3c049b"/>
<circle cx="426.5" cy="56.6" r="1.5" fill="#3c049b"/>
<circle cx="426.5" cy="81.8" r="1.5" fill="#3c049b"/>
<circle cx="426.9" cy="92.2" r="1.5" fill="#3c049b"/>
<circle cx="427.5" cy="37.5" r="1.5" fill="#3c049b"/>
<circle cx="427.6" cy="104.7" r="1.5" fill="#3c049b"/>
<circle cx="427.9" cy="76.2" r="1.5" fill="#3c049b"/>
<circle cx="427.9" cy="93.7" r="1.5" fill="#3c049b"/>
<circle cx="428.4" cy="77.9" r="1.5" fill="#3c049b"/>
<circle cx="428.6" cy="92.1" r="1.5" fill="#3c049b"/>
<circle cx="428.9" cy="42.2" r="1.5" fill="#3c049b"/>
<circle cx="429.0" cy="32.1" r="1.5" fill="#3c049b"/>
<circle cx="429.4" cy="86.5" r="1.5" fill="#3c049b"/>
<circle cx="429.5" cy="40.6" r="1.5" fill="#3c049b"/>
<circle cx="429.5" cy="90.2" r="1.5" fill="#3c049b"/>
<circle cx="429.5" cy="33.4" r="1.5" fill="#3c049b"/>
<circle cx="429.6" cy="97.4" r="1.5" fill="#3c049b"/>
<circle cx="430.4" cy="31.8" r="1.5" fill="#3c049b"/>
<circle cx="430.5" cy="106.5" r="1.5" fill="#3c049b"/>
<circle cx="430.9" cy="49.7" r="1.5" fill="#3c049b"/>
<circle cx="431.8" cy="51.5" r="1.5" fill="#3c049b"/>
<circle cx="431.8" cy="30.1" r="1.5" fill="#3c049b"/>
<circle cx="432.0" cy="37.2" r="1.5" fill="#3c049b"/>
<circle cx="432.1" cy="101.1" r="1.5" fill="#3c049b"/>
<circle cx="432.1" cy="79.5" r="1.5" fill="#3c049b"/>
<circle cx="432.5" cy="85.1" r="1.5" fill="#3c049b"/>
<circle cx="432.6" cy="45.9" r="1.5" fill="#3c049b"/>
<circle cx="432.7" cy="99.6" r="1.5" fill="#3c049b"/>
<circle cx="432.8" cy="92.4" r="1.5" fill="#3c049b"/>
<circle cx="433.5" cy="40.8" r="1.5" fill="#3c049b"/>
<circle cx="433.9" cy="47.5" r="1.5" fill="#3c049b"/>
<circle cx="434.0" cy="108.2" r="1.5" fill="#3c049b"/>
<circle cx="434.0" cy="44.0" r="1.5" fill="#3c049b"/>
<circle cx="435.0" cy="102.6" r="1.5" fill="#3c049b"/>
<circle cx="435.0" cy="88.8" r="1.5" fill="#3c049b"/>
<circle cx="435.7" cy="44.4" r="1.5" fill="#3c049b"/>
<circle cx="435.8" cy="51.5" r="1.5" fill="#3c049b"/>
<circle cx="436.0" cy="47.7" r="1.5" fill="#3c049b"/>
<circle cx="437.0" cy="39.2" r="1.5" fill="#3c049b"/>
<circle cx="437.6" cy="37.0" r="1.5" fill="#3c049b"/>
<circle cx="437.7" cy="76.0" r="1.5" fill="#3c049b"/>
<circle cx="437.8" cy="83.6" r="1.5" fill="#3c049b"/>
<circle cx="437.9" cy="97.4" r="1.5" fill="#3c049b"/>
<circle cx="438.1" cy="48.0" r="1.5" fill="#3c049b"/>
<circle cx="438.3" cy="33.5" r="1.5" fill="#3c049b"/>
<circle cx="438.8" cy="35.0" r="1.5" fill="#3c049b"/>
<circle cx="439.7" cy="43.9" r="1.5" fill="#3c049b"/>
<circle cx="440.0" cy="93.9" r="1.5" fill="#3c049b"/>
<circle cx="440.0" cy="90.4" r="1.5" fill="#3c049b"/>
<circle cx="440.2" cy="86.7" r="1.5" fill="#3c049b"/>
<circle cx="440.7" cy="67.2" r="1.5" fill="#3c049b"/>
<circle cx="440.7" cy="49.7" r="1.5" fill="#3c049b"/>
<circle cx="440.8" cy="46.0" r="1.5" fill="#3c049b"/>
<circle cx="441.1" cy="88.8" r="1.5" fill="#3c049b"/>
<circle cx="441.3" cy="85.1" r="1.5" fill="#3c049b"/>
<circle cx="441.7" cy="33.5" r="1.5" fill="#3c049b"/>
<circle cx="441.9" cy="48.0" r="1.5" fill="#3c049b"/>
<circle cx="442.0" cy="54.8" r="1.5" fill="#3c049b"/>
<circle cx="442.4" cy="90.0" r="1.5" fill="#3c049b"/>
<circle cx="442.8" cy="70.5" r="1.5" fill="#3c049b"/>
<circle cx="443.0" cy="49.6" r="1.5" fill="#3c049b"/>
<circle cx="443.0" cy="84.8" r="1.5" fill="#3c049b"/>
<circle cx="443.2" cy="38.7" r="1.5" fill="#3c049b"/>
<circle cx="443.2" cy="81.5" r="1.5" fill="#3c049b"/>
<circle cx="444.8" cy="53.1" r="1.5" fill="#3c049b"/>
<circle cx="445.3" cy="74.2" r="1.5" fill="#3c049b"/>
<circle cx="445.8" cy="58.2" r="1.5" fill="#3c049b"/>
<circle cx="446.1" cy="40.8" r="1.5" fill="#3c049b"/>
<circle cx="446.1" cy="44.2" r="1.5" fill="#3c049b"/>
<circle cx="446.4" cy="83.1" r="1.5" fill="#3c049b"/>
<circle cx="446.4" cy="79.8" r="1.5" fill="#3c049b"/>
<circle cx="446.8" cy="45.8" r="1.5" fill="#3c049b"/>
<circle cx="446.9" cy="78.1" r="1.5" fill="#3c049b"/>
<circle cx="446.9" cy="85.0" r="1.5" fill="#3c049b"/>
<circle cx="447.3" cy="53.1" r="1.5" fill="#3c049b"/>
<circle cx="447.5" cy="60.3" r="1.5" fill="#3c049b"/>
<circle cx="448.0" cy="76.1" r="1.5" fill="#3c049b"/>
<circle cx="449.1" cy="56.3" r="1.5" fill="#3c049b"/>
<circle cx="449.3" cy="74.6" r="1.5" fill="#3c049b"/>
<circle cx="449.5" cy="77.6" r="1.5" fill="#3c049b"/>
<circle cx="450.0" cy="55.0" r="1.5" fill="#3c049b"/>
<circle cx="450.5" cy="65.4" r="1.5" fill="#3c049b"/>
<circle cx="451.3" cy="60.2" r="1.5" fill="#3c049b"/>
<circle cx="452.2" cy="54.8" r="1.5" fill="#3c049b"/>
<circle cx="452.3" cy="72.9" r="1.5" fill="#3c049b"/>
<circle cx="452.3" cy="62.2" r="1.5" fill="#3c049b"/>
<circle cx="453.1" cy="63.9" r="1.5" fill="#3c049b"/>
<circle cx="453.3" cy="74.5" r="1.5" fill="#3c049b"/>
<circle cx="455.2" cy="60.5" r="1.5" fill="#3c049b"/>
<circle cx="455.3" cy="63.8" r="1.5" fill="#3c049b"/>
<circle cx="457.3" cy="63.6" r="1.5" fill="#3c049b"/>
<circle cx="457.5" cy="56.7" r="1.5" fill="#3c049b"/>
<circle cx="457.6" cy="67.0" r="1.5" fill="#3c049b"/>
<circle cx="458.1" cy="65.5" r="1.5" fill="#3c049b"/>
<circle cx="459.8" cy="60.1" r="1.5" fill="#3c049b"/>
<circle cx="408.0" cy="67.6" r="1.5" fill="#5003a1"/>
<circle cx="409.0" cy="58.4" r="1.5" fill="#5003a1"/>
<circle cx="409.2" cy="61.7" r="1.5" fill="#5003a1"/>
<circle cx="412.2" cy="67.1" r="1.5" fill="#5003a1"/>
<circle cx="412.2" cy="74.7" r="1.5" fill="#5003a1"/>
<circle cx="412.6" cy="59.9" r="1.5" fill="#5003a1"/>
<circle cx="413.0" cy="51.7" r="1.5" fill="#5003a1"/>
<circle cx="413.0" cy="48.1" r="1.5" fill="#5003a1"/>
<circle cx="413.6" cy="61.7" r="1.5" fill="#5003a1"/>
<circle cx="413.7" cy="68.8" r="1.5" fill="#5003a1"/>
<circle cx="414.1" cy="49.5" r="1.5" fill="#5003a1"/>
<circle cx="414.3" cy="70.9" r="1.5" fill="#5003a1"/>
<circle cx="414.4" cy="56.5" r="1.5" fill="#5003a1"/>
<circle cx="415.2" cy="51.7" r="1.5" fill="#5003a1"/>
<circle cx="415.5" cy="65.5" r="1.5" fill="#5003a1"/>
<circle cx="415.5" cy="83.4" r="1.5" fill="#5003a1"/>
<circle cx="416.2" cy="71.0" r="1.5" fill="#5003a1"/>
<circle cx="416.7" cy="67.0" r="1.5" fill="#5003a1"/>
<circle cx="417.2" cy="65.5" r="1.5" fill="#5003a1"/>
<circle cx="417.4" cy="83.1" r="1.5" fill="#5003a1"/>
<circle cx="417.5" cy="58.5" r="1.5" fill="#5003a1"/>
<circle cx="417.7" cy="47.9" r="1.5" fill="#5003a1"/>
<circle cx="417.8" cy="76.4" r="1.5" fill="#5003a1"/>
<circle cx="418.6" cy="60.2" r="1.5" fill="#5003a1"/>
<circle cx="419.2" cy="51.2" r="1.5" fill="#5003a1"/>
<circle cx="419.5" cy="69.4" r="1.5" fill="#5003a1"/>
<circle cx="420.2" cy="88.6" r="1.5" fill="#5003a1"/>
<circle cx="420.3" cy="81.6" r="1.5" fill="#5003a1"/>
<circle cx="420.4" cy="60.2" r="1.5" fill="#5003a1"/>
<circle cx="420.4" cy="49.5" r="1.5" fill="#5003a1"/>
<circle cx="420.6" cy="38.9" r="1.5" fill="#5003a1"/>
<circle cx="422.5" cy="56.5" r="1.5" fill="#5003a1"/>
<circle cx="422.6" cy="88.6" r="1.5" fill="#5003a1"/>
<circle cx="422.6" cy="39.1" r="1.5" fill="#5003a1"/>
<circle cx="423.6" cy="76.2" r="1.5" fill="#5003a1"/>
<circle cx="423.6" cy="47.7" r="1.5" fill="#5003a1"/>
<circle cx="424.3" cy="42.7" r="1.5" fill="#5003a1"/>
<circle cx="424.9" cy="81.3" r="1.5" fill="#5003a1"/>
<circle cx="425.4" cy="86.8" r="1.5" fill="#5003a1"/>
<circle cx="425.4" cy="79.5" r="1.5" fill="#5003a1"/>
<circle cx="426.0" cy="90.5" r="1.5" fill="#5003a1"/>
<circle cx="426.7" cy="95.4" r="1.5" fill="#5003a1"/>
<circle cx="427.0" cy="46.1" r="1.5" fill="#5003a1"/>
<circle cx="427.7" cy="47.8" r="1.5" fill="#5003a1"/>
<circle cx="428.0" cy="80.1" r="1.5" fill="#5003a1"/>
<circle cx="428.7" cy="81.2" r="1.5" fill="#5003a1"/>
<circle cx="428.8" cy="84.8" r="1.5" fill="#5003a1"/>
<circle cx="429.4" cy="37.5" r="1.5" fill="#5003a1"/>
<circle cx="429.6" cy="83.5" r="1.5" fill="#5003a1"/>
<circle cx="430.1" cy="48.1" r="1.5" fill="#5003a1"/>
<circle cx="430.7" cy="88.7" r="1.5" fill="#5003a1"/>
<circle cx="430.8" cy="46.2" r="1.5" fill="#5003a1"/>
<circle cx="431.0" cy="71.0" r="1.5" fill="#5003a1"/>
<circle cx="431.8" cy="86.7" r="1.5" fill="#5003a1"/>
<circle cx="432.7" cy="77.8" r="1.5" fill="#5003a1"/>
<circle cx="432.7" cy="56.6" r="1.5" fill="#5003a1"/>
<circle cx="433.0" cy="49.5" r="1.5" fill="#5003a1"/>
<circle cx="433.8" cy="97.6" r="1.5" fill="#5003a1"/>
<circle cx="433.8" cy="51.7" r="1.5" fill="#5003a1"/>
<circle cx="434.2" cy="33.8" r="1.5" fill="#5003a1"/>
<circle cx="434.7" cy="99.3" r="1.5" fill="#5003a1"/>
<circle cx="434.8" cy="35.6" r="1.5" fill="#5003a1"/>
<circle cx="434.9" cy="52.9" r="1.5" fill="#5003a1"/>
<circle cx="435.0" cy="95.8" r="1.5" fill="#5003a1"/>
<circle cx="435.1" cy="42.5" r="1.5" fill="#5003a1"/>
<circle cx="436.7" cy="42.7" r="1.5" fill="#5003a1"/>
<circle cx="437.0" cy="52.8" r="1.5" fill="#5003a1"/>
<circle cx="437.2" cy="99.2" r="1.5" fill="#5003a1"/>
<circle cx="438.1" cy="68.9" r="1.5" fill="#5003a1"/>
<circle cx="438.1" cy="44.2" r="1.5" fill="#5003a1"/>
<circle cx="438.2" cy="90.3" r="1.5" fill="#5003a1"/>
<circle cx="438.3" cy="51.5" r="1.5" fill="#5003a1"/>
<circle cx="438.9" cy="49.4" r="1.5" fill="#5003a1"/>
<circle cx="439.0" cy="42.5" r="1.5" fill="#5003a1"/>
<circle cx="439.1" cy="81.8" r="1.5" fill="#5003a1"/>
<circle cx="439.2" cy="70.9" r="1.5" fill="#5003a1"/>
<circle cx="440.0" cy="51.2" r="1.5" fill="#5003a1"/>
<circle cx="440.0" cy="55.1" r="1.5" fill="#5003a1"/>
<circle cx="440.2" cy="65.5" r="1.5" fill="#5003a1"/>
<circle cx="440.3" cy="58.3" r="1.5" fill="#5003a1"/>
<circle cx="440.9" cy="56.7" r="1.5" fill="#5003a1"/>
<circle cx="441.4" cy="92.1" r="1.5" fill="#5003a1"/>
<circle cx="441.8" cy="44.0" r="1.5" fill="#5003a1"/>
<circle cx="441.8" cy="51.5" r="1.5" fill="#5003a1"/>
<circle cx="441.9" cy="65.2" r="1.5" fill="#5003a1"/>
<circle cx="441.9" cy="69.1" r="1.5" fill="#5003a1"/>
<circle cx="442.1" cy="58.2" r="1.5" fill="#5003a1"/>
<circle cx="442.2" cy="41.0" r="1.5" fill="#5003a1"/>
<circle cx="442.8" cy="74.5" r="1.5" fill="#5003a1"/>
<circle cx="442.8" cy="56.8" r="1.5" fill="#5003a1"/>
<circle cx="443.1" cy="88.5" r="1.5" fill="#5003a1"/>
<circle cx="443.1" cy="53.3" r="1.5" fill="#5003a1"/>
<circle cx="443.2" cy="42.1" r="1.5" fill="#5003a1"/>
<circle cx="443.7" cy="76.1" r="1.5" fill="#5003a1"/>
<circle cx="443.8" cy="44.6" r="1.5" fill="#5003a1"/>
<circle cx="443.8" cy="36.8" r="1.5" fill="#5003a1"/>
<circle cx="443.9" cy="86.5" r="1.5" fill="#5003a1"/>
<circle cx="444.1" cy="68.9" r="1.5" fill="#5003a1"/>
<circle cx="444.1" cy="83.0" r="1.5" fill="#5003a1"/>
<circle cx="444.1" cy="48.0" r="1.5" fill="#5003a1"/>
<circle cx="444.4" cy="54.9" r="1.5" fill="#5003a1"/>
<circle cx="444.8" cy="70.7" r="1.5" fill="#5003a1"/>
<circle cx="445.2" cy="46.0" r="1.5" fill="#5003a1"/>
<circle cx="446.0" cy="54.6" r="1.5" fill="#5003a1"/>
<circle cx="446.4" cy="47.5" r="1.5" fill="#5003a1"/>
<circle cx="447.0" cy="74.4" r="1.5" fill="#5003a1"/>
<circle cx="447.3" cy="56.3" r="1.5" fill="#5003a1"/>
<circle cx="447.4" cy="63.4" r="1.5" fill="#5003a1"/>
<circle cx="447.9" cy="79.9" r="1.5" fill="#5003a1"/>
<circle cx="448.2" cy="72.3" r="1.5" fill="#5003a1"/>
<circle cx="448.2" cy="54.6" r="1.5" fill="#5003a1"/>
<circle cx="449.4" cy="60.1" r="1.5" fill="#5003a1"/>
<circle cx="449.4" cy="67.3" r="1.5" fill="#5003a1"/>
<circle cx="451.1" cy="56.3" r="1.5" fill="#5003a1"/>
<circle cx="451.5" cy="67.6" r="1.5" fill="#5003a1"/>
<circle cx="452.5" cy="69.3" r="1.5" fill="#5003a1"/>
<circle cx="453.4" cy="56.4" r="1.5" fill="#5003a1"/>
<circle cx="453.6" cy="60.1" r="1.5" fill="#5003a1"/>
<circle cx="454.3" cy="69.1" r="1.5" fill="#5003a1"/>
<circle cx="454.6" cy="65.5" r="1.5" fill="#5003a1"/>
<circle cx="455.2" cy="67.5" r="1.5" fill="#5003a1"/>
<circle cx="411.5" cy="69.1" r="1.5" fill="#6301a6"/>
<circle cx="412.4" cy="70.6" r="1.5" fill="#6301a6"/>
<circle cx="412.4" cy="81.6" r="1.5" fill="#6301a6"/>
<circle cx="413.0" cy="65.7" r="1.5" fill="#6301a6"/>
<circle cx="414.2" cy="53.0" r="1.5" fill="#6301a6"/>
<circle cx="414.7" cy="63.9" r="1.5" fill="#6301a6"/>
<circle cx="415.0" cy="54.5" r="1.5" fill="#6301a6"/>
<circle cx="415.4" cy="69.1" r="1.5" fill="#6301a6"/>
<circle cx="415.7" cy="62.3" r="1.5" fill="#6301a6"/>
<circle cx="416.5" cy="56.3" r="1.5" fill="#6301a6"/>
<circle cx="416.7" cy="60.1" r="1.5" fill="#6301a6"/>
<circle cx="417.1" cy="73.0" r="1.5" fill="#6301a6"/>
<circle cx="417.3" cy="69.3" r="1.5" fill="#6301a6"/>
<circle cx="418.7" cy="42.8" r="1.5" fill="#6301a6"/>
<circle cx="419.2" cy="55.2" r="1.5" fill="#6301a6"/>
<circle cx="419.5" cy="65.4" r="1.5" fill="#6301a6"/>
<circle cx="419.5" cy="76.1" r="1.5" fill="#6301a6"/>
<circle cx="419.6" cy="47.7" r="1.5" fill="#6301a6"/>
<circle cx="420.2" cy="63.5" r="1.5" fill="#6301a6"/>
<circle cx="420.7" cy="71.0" r="1.5" fill="#6301a6"/>
<circle cx="420.8" cy="42.3" r="1.5" fill="#6301a6"/>
<circle cx="421.3" cy="90.3" r="1.5" fill="#6301a6"/>
<circle cx="421.3" cy="40.6" r="1.5" fill="#6301a6"/>
<circle cx="421.6" cy="72.5" r="1.5" fill="#6301a6"/>
<circle cx="421.7" cy="65.7" r="1.5" fill="#6301a6"/>
<circle cx="423.2" cy="79.4" r="1.5" fill="#6301a6"/>
<circle cx="423.6" cy="58.2" r="1.5" fill="#6301a6"/>
<circle cx="424.7" cy="74.4" r="1.5" fill="#6301a6"/>
<circle cx="424.8" cy="85.4" r="1.5" fill="#6301a6"/>
<circle cx="425.3" cy="72.3" r="1.5" fill="#6301a6"/>
<circle cx="425.3" cy="40.3" r="1.5" fill="#6301a6"/>
<circle cx="425.4" cy="83.0" r="1.5" fill="#6301a6"/>
<circle cx="425.7" cy="55.1" r="1.5" fill="#6301a6"/>
<circle cx="426.5" cy="78.1" r="1.5" fill="#6301a6"/>
<circle cx="426.7" cy="99.0" r="1.5" fill="#6301a6"/>
<circle cx="427.0" cy="74.7" r="1.5" fill="#6301a6"/>
<circle cx="427.7" cy="86.8" r="1.5" fill="#6301a6"/>
<circle cx="429.1" cy="46.1" r="1.5" fill="#6301a6"/>
<circle cx="429.6" cy="76.3" r="1.5" fill="#6301a6"/>
<circle cx="429.9" cy="72.4" r="1.5" fill="#6301a6"/>
<circle cx="430.0" cy="51.2" r="1.5" fill="#6301a6"/>
<circle cx="430.1" cy="44.5" r="1.5" fill="#6301a6"/>
<circle cx="430.7" cy="39.1" r="1.5" fill="#6301a6"/>
<circle cx="430.8" cy="81.8" r="1.5" fill="#6301a6"/>
<circle cx="430.9" cy="77.8" r="1.5" fill="#6301a6"/>
<circle cx="431.8" cy="54.7" r="1.5" fill="#6301a6"/>
<circle cx="432.6" cy="42.5" r="1.5" fill="#6301a6"/>
<circle cx="432.8" cy="88.8" r="1.5" fill="#6301a6"/>
<circle cx="434.0" cy="93.9" r="1.5" fill="#6301a6"/>
<circle cx="434.2" cy="90.4" r="1.5" fill="#6301a6"/>
<circle cx="434.9" cy="71.2" r="1.5" fill="#6301a6"/>
<circle cx="435.7" cy="62.3" r="1.5" fill="#6301a6"/>
<circle cx="436.1" cy="76.4" r="1.5" fill="#6301a6"/>
<circle cx="436.2" cy="83.6" r="1.5" fill="#6301a6"/>
<circle cx="436.6" cy="78.2" r="1.5" fill="#6301a6"/>
<circle cx="436.9" cy="67.0" r="1.5" fill="#6301a6"/>
<circle cx="439.2" cy="78.2" r="1.5" fill="#6301a6"/>
<circle cx="439.2" cy="74.6" r="1.5" fill="#6301a6"/>
<circle cx="439.8" cy="76.3" r="1.5" fill="#6301a6"/>
<circle cx="441.8" cy="72.8" r="1.5" fill="#6301a6"/>
<circle cx="442.3" cy="61.7" r="1.5" fill="#6301a6"/>
<circle cx="443.9" cy="58.1" r="1.5" fill="#6301a6"/>
<circle cx="444.0" cy="61.8" r="1.5" fill="#6301a6"/>
<circle cx="444.3" cy="51.0" r="1.5" fill="#6301a6"/>
<circle cx="444.8" cy="60.3" r="1.5" fill="#6301a6"/>
<circle cx="445.0" cy="67.6" r="1.5" fill="#6301a6"/>
<circle cx="445.1" cy="84.7" r="1.5" fill="#6301a6"/>
<circle cx="445.1" cy="42.2" r="1.5" fill="#6301a6"/>
<circle cx="445.1" cy="77.9" r="1.5" fill="#6301a6"/>
<circle cx="446.1" cy="62.3" r="1.5" fill="#6301a6"/>
<circle cx="446.4" cy="65.3" r="1.5" fill="#6301a6"/>
<circle cx="447.1" cy="67.3" r="1.5" fill="#6301a6"/>
<circle cx="447.8" cy="68.9" r="1.5" fill="#6301a6"/>
<circle cx="448.1" cy="58.7" r="1.5" fill="#6301a6"/>
<circle cx="450.1" cy="62.1" r="1.5" fill="#6301a6"/>
<circle cx="453.5" cy="67.6" r="1.5" fill="#6301a6"/>
<circle cx="453.5" cy="52.9" r="1.5" fill="#6301a6"/>
<circle cx="456.2" cy="69.4" r="1.5" fill="#6301a6"/>
<circle cx="410.6" cy="59.9" r="1.5" fill="#7404a7"/>
<circle cx="411.0" cy="65.7" r="1.5" fill="#7404a7"/>
<circle cx="418.5" cy="46.0" r="1.5" fill="#7404a7"/>
<circle cx="418.6" cy="63.7" r="1.5" fill="#7404a7"/>
<circle cx="419.6" cy="62.3" r="1.5" fill="#7404a7"/>
<circle cx="421.2" cy="55.0" r="1.5" fill="#7404a7"/>
<circle cx="421.5" cy="51.1" r="1.5" fill="#7404a7"/>
<circle cx="421.7" cy="69.2" r="1.5" fill="#7404a7"/>
<circle cx="422.9" cy="63.8" r="1.5" fill="#7404a7"/>
<circle cx="423.4" cy="97.2" r="1.5" fill="#7404a7"/>
<circle cx="423.5" cy="69.2" r="1.5" fill="#7404a7"/>
<circle cx="423.5" cy="65.9" r="1.5" fill="#7404a7"/>
<circle cx="423.7" cy="61.7" r="1.5" fill="#7404a7"/>
<circle cx="424.3" cy="49.6" r="1.5" fill="#7404a7"/>
<circle cx="424.4" cy="77.8" r="1.5" fill="#7404a7"/>
<circle cx="424.7" cy="39.2" r="1.5" fill="#7404a7"/>
<circle cx="425.4" cy="68.8" r="1.5" fill="#7404a7"/>
<circle cx="425.7" cy="75.9" r="1.5" fill="#7404a7"/>
<circle cx="426.6" cy="39.0" r="1.5" fill="#7404a7"/>
<circle cx="426.7" cy="49.8" r="1.5" fill="#7404a7"/>
<circle cx="428.7" cy="74.2" r="1.5" fill="#7404a7"/>
<circle cx="429.7" cy="79.9" r="1.5" fill="#7404a7"/>
<circle cx="430.7" cy="56.5" r="1.5" fill="#7404a7"/>
<circle cx="432.5" cy="74.2" r="1.5" fill="#7404a7"/>
<circle cx="433.5" cy="72.6" r="1.5" fill="#7404a7"/>
<circle cx="434.0" cy="86.7" r="1.5" fill="#7404a7"/>
<circle cx="434.9" cy="81.2" r="1.5" fill="#7404a7"/>
<circle cx="435.2" cy="74.5" r="1.5" fill="#7404a7"/>
<circle cx="435.5" cy="58.5" r="1.5" fill="#7404a7"/>
<circle cx="435.6" cy="72.3" r="1.5" fill="#7404a7"/>
<circle cx="435.7" cy="40.7" r="1.5" fill="#7404a7"/>
<circle cx="436.2" cy="69.2" r="1.5" fill="#7404a7"/>
<circle cx="437.0" cy="81.3" r="1.5" fill="#7404a7"/>
<circle cx="437.6" cy="62.3" r="1.5" fill="#7404a7"/>
<circle cx="438.8" cy="63.8" r="1.5" fill="#7404a7"/>
<circle cx="440.1" cy="79.8" r="1.5" fill="#7404a7"/>
<circle cx="440.7" cy="74.6" r="1.5" fill="#7404a7"/>
<circle cx="440.8" cy="70.5" r="1.5" fill="#7404a7"/>
<circle cx="441.1" cy="81.2" r="1.5" fill="#7404a7"/>
<circle cx="442.0" cy="76.3" r="1.5" fill="#7404a7"/>
<circle cx="444.0" cy="65.8" r="1.5" fill="#7404a7"/>
<circle cx="445.4" cy="63.5" r="1.5" fill="#7404a7"/>
<circle cx="451.3" cy="63.5" r="1.5" fill="#7404a7"/>
<circle cx="452.5" cy="58.6" r="1.5" fill="#7404a7"/>
<circle cx="416.7" cy="81.4" r="1.5" fill="#8509a5"/>
<circle cx="417.3" cy="55.2" r="1.5" fill="#8509a5"/>
<circle cx="418.3" cy="53.0" r="1.5" fill="#8509a5"/>
<circle cx="418.4" cy="49.9" r="1.5" fill="#8509a5"/>
<circle cx="420.4" cy="46.3" r="1.5" fill="#8509a5"/>
<circle cx="420.9" cy="77.7" r="1.5" fill="#8509a5"/>
<circle cx="421.3" cy="75.9" r="1.5" fill="#8509a5"/>
<circle cx="421.3" cy="79.7" r="1.5" fill="#8509a5"/>
<circle cx="422.4" cy="46.0" r="1.5" fill="#8509a5"/>
<circle cx="422.6" cy="52.8" r="1.5" fill="#8509a5"/>
<circle cx="423.5" cy="72.8" r="1.5" fill="#8509a5"/>
<circle cx="424.7" cy="56.6" r="1.5" fill="#8509a5"/>
<circle cx="425.9" cy="48.0" r="1.5" fill="#8509a5"/>
<circle cx="427.0" cy="52.8" r="1.5" fill="#8509a5"/>
<circle cx="427.0" cy="60.0" r="1.5" fill="#8509a5"/>
<circle cx="427.8" cy="44.5" r="1.5" fill="#8509a5"/>
<circle cx="428.0" cy="65.3" r="1.5" fill="#8509a5"/>
<circle cx="428.8" cy="102.5" r="1.5" fill="#8509a5"/>
<circle cx="429.5" cy="55.1" r="1.5" fill="#8509a5"/>
<circle cx="429.9" cy="61.8" r="1.5" fill="#8509a5"/>
<circle cx="430.4" cy="52.9" r="1.5" fill="#8509a5"/>
<circle cx="430.9" cy="74.6" r="1.5" fill="#8509a5"/>
<circle cx="431.8" cy="58.7" r="1.5" fill="#8509a5"/>
<circle cx="434.0" cy="68.8" r="1.5" fill="#8509a5"/>
<circle cx="434.6" cy="56.5" r="1.5" fill="#8509a5"/>
<circle cx="436.0" cy="86.7" r="1.5" fill="#8509a5"/>
<circle cx="436.6" cy="88.3" r="1.5" fill="#8509a5"/>
<circle cx="436.7" cy="60.4" r="1.5" fill="#8509a5"/>
<circle cx="437.0" cy="46.2" r="1.5" fill="#8509a5"/>
<circle cx="437.1" cy="70.6" r="1.5" fill="#8509a5"/>
<circle cx="437.7" cy="65.3" r="1.5" fill="#8509a5"/>
<circle cx="438.0" cy="72.3" r="1.5" fill="#8509a5"/>
<circle cx="439.0" cy="88.6" r="1.5" fill="#8509a5"/>
<circle cx="439.9" cy="69.0" r="1.5" fill="#8509a5"/>
<circle cx="441.2" cy="78.2" r="1.5" fill="#8509a5"/>
<circle cx="442.9" cy="60.1" r="1.5" fill="#8509a5"/>
<circle cx="443.4" cy="67.0" r="1.5" fill="#8509a5"/>
<circle cx="447.9" cy="65.7" r="1.5" fill="#8509a5"/>
<circle cx="414.6" cy="67.5" r="1.5" fill="#9512a0"/>
<circle cx="418.6" cy="67.0" r="1.5" fill="#9512a0"/>
<circle cx="419.6" cy="58.6" r="1.5" fill="#9512a0"/>
<circle cx="421.4" cy="58.6" r="1.5" fill="#9512a0"/>
<circle cx="423.3" cy="54.7" r="1.5" fill="#9512a0"/>
<circle cx="424.7" cy="67.4" r="1.5" fill="#9512a0"/>
<circle cx="426.7" cy="70.8" r="1.5" fill="#9512a0"/>
<circle cx="427.5" cy="69.2" r="1.5" fill="#9512a0"/>
<circle cx="427.7" cy="58.6" r="1.5" fill="#9512a0"/>
<circle cx="427.9" cy="61.8" r="1.5" fill="#9512a0"/>
<circle cx="428.0" cy="51.0" r="1.5" fill="#9512a0"/>
<circle cx="428.4" cy="67.0" r="1.5" fill="#9512a0"/>
<circle cx="429.0" cy="71.0" r="1.5" fill="#9512a0"/>
<circle cx="432.0" cy="61.7" r="1.5" fill="#9512a0"/>
<circle cx="433.6" cy="54.9" r="1.5" fill="#9512a0"/>
<circle cx="436.6" cy="56.3" r="1.5" fill="#9512a0"/>
<circle cx="437.7" cy="54.9" r="1.5" fill="#9512a0"/>
<circle cx="438.0" cy="79.4" r="1.5" fill="#9512a0"/>
<circle cx="438.5" cy="107.3" r="1.5" fill="#9512a0"/>
<circle cx="439.1" cy="67.0" r="1.5" fill="#9512a0"/>
<circle cx="441.3" cy="53.0" r="1.5" fill="#9512a0"/>
<circle cx="441.4" cy="60.0" r="1.5" fill="#9512a0"/>
<circle cx="443.1" cy="63.6" r="1.5" fill="#9512a0"/>
<circle cx="446.1" cy="69.1" r="1.5" fill="#9512a0"/>
<circle cx="459.4" cy="63.8" r="1.5" fill="#9512a0"/>
<circle cx="420.4" cy="56.4" r="1.5" fill="#a51f97"/>
<circle cx="420.7" cy="67.0" r="1.5" fill="#a51f97"/>
<circle cx="421.5" cy="62.1" r="1.5" fill="#a51f97"/>
<circle cx="424.3" cy="52.9" r="1.5" fill="#a51f97"/>
<circle cx="424.6" cy="63.7" r="1.5" fill="#a51f97"/>
<circle cx="425.6" cy="61.6" r="1.5" fill="#a51f97"/>
<circle cx="427.8" cy="54.6" r="1.5" fill="#a51f97"/>
<circle cx="430.8" cy="60.2" r="1.5" fill="#a51f97"/>
<circle cx="431.7" cy="65.2" r="1.5" fill="#a51f97"/>
<circle cx="431.7" cy="72.8" r="1.5" fill="#a51f97"/>
<circle cx="432.5" cy="64.1" r="1.5" fill="#a51f97"/>
<circle cx="432.8" cy="70.5" r="1.5" fill="#a51f97"/>
<circle cx="434.0" cy="58.2" r="1.5" fill="#a51f97"/>
<circle cx="434.0" cy="80.0" r="1.5" fill="#a51f97"/>
<circle cx="434.1" cy="62.1" r="1.5" fill="#a51f97"/>
<circle cx="435.0" cy="63.8" r="1.5" fill="#a51f97"/>
<circle cx="435.1" cy="49.7" r="1.5" fill="#a51f97"/>
<circle cx="436.8" cy="84.7" r="1.5" fill="#a51f97"/>
<circle cx="437.0" cy="74.3" r="1.5" fill="#a51f97"/>
<circle cx="438.8" cy="60.5" r="1.5" fill="#a51f97"/>
<circle cx="439.3" cy="84.9" r="1.5" fill="#a51f97"/>
<circle cx="439.3" cy="53.3" r="1.5" fill="#a51f97"/>
<circle cx="444.2" cy="72.6" r="1.5" fill="#a51f97"/>
<circle cx="424.5" cy="60.4" r="1.5" fill="#b32d8e"/>
<circle cx="428.9" cy="53.0" r="1.5" fill="#b32d8e"/>
<circle cx="430.7" cy="67.4" r="1.5" fill="#b32d8e"/>
<circle cx="431.9" cy="68.9" r="1.5" fill="#b32d8e"/>
<circle cx="432.6" cy="53.1" r="1.5" fill="#b32d8e"/>
<circle cx="433.6" cy="65.2" r="1.5" fill="#b32d8e"/>
<circle cx="434.8" cy="67.6" r="1.5" fill="#b32d8e"/>
<circle cx="441.9" cy="86.9" r="1.5" fill="#b32d8e"/>
<circle cx="419.8" cy="72.4" r="1.5" fill="#c03a83"/>
<circle cx="422.3" cy="67.5" r="1.5" fill="#c03a83"/>
<circle cx="425.5" cy="65.6" r="1.5" fill="#c03a83"/>
<circle cx="426.5" cy="63.5" r="1.5" fill="#c03a83"/>
<circle cx="428.6" cy="56.6" r="1.5" fill="#c03a83"/>
<circle cx="428.9" cy="60.3" r="1.5" fill="#c03a83"/>
<circle cx="429.9" cy="65.8" r="1.5" fill="#c03a83"/>
<circle cx="436.1" cy="54.6" r="1.5" fill="#c03a83"/>
<circle cx="436.6" cy="49.7" r="1.5" fill="#c03a83"/>
<circle cx="438.1" cy="58.5" r="1.5" fill="#c03a83"/>
<circle cx="429.5" cy="69.2" r="1.5" fill="#cc4778"/>
<circle cx="429.8" cy="58.7" r="1.5" fill="#cc4778"/>
<circle cx="430.7" cy="63.6" r="1.5" fill="#cc4778"/>
<circle cx="432.5" cy="67.3" r="1.5" fill="#cc4778"/>
<circle cx="436.1" cy="65.5" r="1.5" fill="#cc4778"/>
<circle cx="436.9" cy="63.6" r="1.5" fill="#cc4778"/>
<circle cx="439.9" cy="61.9" r="1.5" fill="#cc4778"/>
<circle cx="440.7" cy="64.1" r="1.5" fill="#cc4778"/>
<circle cx="426.3" cy="67.6" r="1.5" fill="#d6546e"/>
<circle cx="428.5" cy="63.9" r="1.5" fill="#d6546e"/>
<circle cx="433.2" cy="60.2" r="1.5" fill="#d6546e"/>
<circle cx="439.0" cy="56.4" r="1.5" fill="#d6546e"/>
<circle cx="434.9" cy="60.5" r="1.5" fill="#df6164"/>
<circle cx="436.0" cy="58.0" r="1.5" fill="#ef7e4f"/>
<circle cx="433.0" cy="62.0" r="1.5" fill="#f58d45"/>
<circle cx="430.0" cy="71.7" r="1.5" fill="#f99d3c"/>
<circle cx="426.5" cy="69.9" r="1.5" fill="#f5e523"/>
<circle cx="429.5" cy="79.3" r="1.5" fill="#1ee6f5"/>
<defs><linearGradient id="cbg0" x1="0" y1="1" x2="0" y2="0"><stop offset="0.0" stop-color="#35288c"/><stop offset="0.1" stop-color="#4a1a9c"/><stop offset="0.2" stop-color="#6a0ca8"/><stop offset="0.3" stop-color="#8c14a6"/><stop offset="0.4" stop-color="#ae2c94"/><stop offset="0.5" stop-color="#c9497a"/><stop offset="0.6" stop-color="#e06364"/><stop offset="0.7" stop-color="#f0834e"/><stop offset="0.8" stop-color="#f9a53a"/><stop offset="0.9" stop-color="#f9cc2c"/><stop offset="1.0" stop-color="#eef02c"/></linearGradient></defs>
<rect x="499.4" y="8.20" width="6.0" height="110.00" fill="url(#cbg0)" stroke="#6a6a6a" stroke-width="0.5"/>
<line x1="505.40" y1="118.20" x2="508.20" y2="118.20" stroke="#8c8c8c" stroke-width="0.8" />
<text x="510.80" y="120.50" font-size="6.4" text-anchor="start">0</text>
<line x1="505.40" y1="108.20" x2="508.20" y2="108.20" stroke="#8c8c8c" stroke-width="0.8" />
<text x="510.80" y="110.50" font-size="6.4" text-anchor="start">2</text>
<line x1="505.40" y1="98.20" x2="508.20" y2="98.20" stroke="#8c8c8c" stroke-width="0.8" />
<text x="510.80" y="100.50" font-size="6.4" text-anchor="start">4</text>
<line x1="505.40" y1="88.20" x2="508.20" y2="88.20" stroke="#8c8c8c" stroke-width="0.8" />
<text x="510.80" y="90.50" font-size="6.4" text-anchor="start">6</text>
<line x1="505.40" y1="78.20" x2="508.20" y2="78.20" stroke="#8c8c8c" stroke-width="0.8" />
<text x="510.80" y="80.50" font-size="6.4" text-anchor="start">8</text>
<line x1="505.40" y1="68.20" x2="508.20" y2="68.20" stroke="#8c8c8c" stroke-width="0.8" />
<text x="510.80" y="70.50" font-size="6.4" text-anchor="start">10</text>
<line x1="505.40" y1="58.20" x2="508.20" y2="58.20" stroke="#8c8c8c" stroke-width="0.8" />
<text x="510.80" y="60.50" font-size="6.4" text-anchor="start">12</text>
<line x1="505.40" y1="48.20" x2="508.20" y2="48.20" stroke="#8c8c8c" stroke-width="0.8" />
<text x="510.80" y="50.50" font-size="6.4" text-anchor="start">14</text>
<line x1="505.40" y1="38.20" x2="508.20" y2="38.20" stroke="#8c8c8c" stroke-width="0.8" />
<text x="510.80" y="40.50" font-size="6.4" text-anchor="start">16</text>
<line x1="505.40" y1="28.20" x2="508.20" y2="28.20" stroke="#8c8c8c" stroke-width="0.8" />
<text x="510.80" y="30.50" font-size="6.4" text-anchor="start">18</text>
<line x1="505.40" y1="18.20" x2="508.20" y2="18.20" stroke="#8c8c8c" stroke-width="0.8" />
<text x="510.80" y="20.50" font-size="6.4" text-anchor="start">20</text>
<line x1="505.40" y1="8.20" x2="508.20" y2="8.20" stroke="#8c8c8c" stroke-width="0.8" />
<text x="510.80" y="10.50" font-size="6.4" text-anchor="start">22</text>
<text x="496.30" y="62.40" font-size="6.4" text-anchor="middle" transform="rotate(-90 496.30 62.40)" textLength="59.8" lengthAdjust="spacingAndGlyphs">Number of synapses</text>
<rect x="558.40" y="13.40" width="125.20" height="104.80" fill="none" stroke="#8c8c8c" stroke-width="0.85"/>
<line x1="555.50" y1="118.20" x2="558.40" y2="118.20" stroke="#777" stroke-width="1.0" />
<text x="552.40" y="120.75" font-size="6.6" text-anchor="end">0</text>
<line x1="555.50" y1="97.45" x2="558.40" y2="97.45" stroke="#777" stroke-width="1.0" />
<text x="552.40" y="100.00" font-size="6.6" text-anchor="end">1,000</text>
<line x1="555.50" y1="76.70" x2="558.40" y2="76.70" stroke="#777" stroke-width="1.0" />
<text x="552.40" y="79.25" font-size="6.6" text-anchor="end">2,000</text>
<line x1="555.50" y1="55.95" x2="558.40" y2="55.95" stroke="#777" stroke-width="1.0" />
<text x="552.40" y="58.50" font-size="6.6" text-anchor="end">3,000</text>
<line x1="555.50" y1="35.20" x2="558.40" y2="35.20" stroke="#777" stroke-width="1.0" />
<text x="552.40" y="37.75" font-size="6.6" text-anchor="end">4,000</text>
<line x1="555.50" y1="14.45" x2="558.40" y2="14.45" stroke="#777" stroke-width="1.0" />
<text x="552.40" y="17.00" font-size="6.6" text-anchor="end">5,000</text>
<line x1="564.40" y1="118.20" x2="564.40" y2="120.90" stroke="#777" stroke-width="1.0" />
<text x="564.40" y="129.50" font-size="6.6" text-anchor="middle">0</text>
<line x1="587.40" y1="118.20" x2="587.40" y2="120.90" stroke="#777" stroke-width="1.0" />
<text x="587.40" y="129.50" font-size="6.6" text-anchor="middle">100</text>
<line x1="610.40" y1="118.20" x2="610.40" y2="120.90" stroke="#777" stroke-width="1.0" />
<text x="610.40" y="129.50" font-size="6.6" text-anchor="middle">200</text>
<line x1="633.40" y1="118.20" x2="633.40" y2="120.90" stroke="#777" stroke-width="1.0" />
<text x="633.40" y="129.50" font-size="6.6" text-anchor="middle">300</text>
<line x1="656.40" y1="118.20" x2="656.40" y2="120.90" stroke="#777" stroke-width="1.0" />
<text x="656.40" y="129.50" font-size="6.6" text-anchor="middle">400</text>
<line x1="679.40" y1="118.20" x2="679.40" y2="120.90" stroke="#777" stroke-width="1.0" />
<text x="679.40" y="129.50" font-size="6.6" text-anchor="middle">500</text>
<text x="621.30" y="140.60" font-size="6.4" text-anchor="middle" textLength="80.0" lengthAdjust="spacingAndGlyphs">Intersynapse distance (µm)</text>
<text x="530.40" y="66.10" font-size="6.4" text-anchor="middle" transform="rotate(-90 530.40 66.10)" textLength="31.3" lengthAdjust="spacingAndGlyphs">Frequency</text>
<path d="M564.40,118.20 L564.40,52.22 L566.70,52.22 L566.70,79.19 L569.00,79.19 L569.00,69.02 L571.30,69.02 L571.30,52.84 L573.60,52.84 L573.60,35.35 L575.90,35.35 L575.90,21.92 L578.20,21.92 L578.20,18.16 L580.50,18.16 L580.50,19.16 L582.80,19.16 L582.80,27.69 L585.10,27.69 L585.10,41.59 L587.40,41.59 L587.40,54.95 L589.70,54.95 L589.70,72.36 L592.00,72.36 L592.00,84.48 L594.30,84.48 L594.30,94.40 L596.60,94.40 L596.60,102.43 L598.90,102.43 L598.90,106.95 L601.20,106.95 L601.20,110.52 L603.50,110.52 L603.50,113.22 L605.80,113.22 L605.80,114.67 L608.10,114.67 L608.10,115.48 L610.40,115.48 L610.40,115.75 L612.70,115.75 L612.70,115.96 L615.00,115.96 L615.00,116.12 L617.30,116.12 L617.30,116.35 L619.60,116.35 L619.60,116.35 L621.90,116.35 L621.90,115.67 L624.20,115.67 L624.20,115.36 L626.50,115.36 L626.50,115.17 L628.80,115.17 L628.80,115.36 L631.10,115.36 L631.10,115.67 L633.40,115.67 L633.40,116.35 L635.70,116.35 L635.70,117.04 L638.00,117.04 L638.00,117.35 L640.30,117.35 L640.30,117.64 L642.60,117.64 L642.60,117.85 L644.90,117.85 L644.90,118.03 L647.20,118.03 L647.20,118.12 L649.50,118.12 L649.50,118.16 L651.80,118.16 L651.80,118.20 L654.10,118.20 L654.10,118.20 L656.40,118.20 L656.40,118.20 L658.70,118.20 L658.70,118.20 L661.00,118.20 L661.00,118.20 L663.30,118.20 L663.30,118.20 L665.60,118.20 L665.60,118.20 L667.90,118.20 L667.90,118.20 L670.20,118.20 L670.20,118.20 L672.50,118.20 L672.50,118.20 L674.80,118.20 L674.80,118.20 L677.10,118.20 L677.10,118.20 L679.40,118.20 L679.40,118.20" fill="none" stroke="#2ec82e" stroke-width="0.95" stroke-linejoin="miter"/>
<path d="M564.40,118.20 L564.40,107.41 L566.70,107.41 L566.70,113.37 L569.00,113.37 L569.00,111.89 L571.30,111.89 L571.30,109.90 L573.60,109.90 L573.60,107.41 L575.90,107.41 L575.90,105.92 L578.20,105.92 L578.20,104.44 L580.50,104.44 L580.50,104.44 L582.80,104.44 L582.80,105.42 L585.10,105.42 L585.10,107.12 L587.40,107.12 L587.40,109.40 L589.70,109.40 L589.70,111.39 L592.00,111.39 L592.00,112.87 L594.30,112.87 L594.30,114.36 L596.60,114.36 L596.60,115.36 L598.90,115.36 L598.90,116.06 L601.20,116.06 L601.20,116.85 L603.50,116.85 L603.50,117.35 L605.80,117.35 L605.80,117.58 L608.10,117.58 L608.10,117.78 L610.40,117.78 L610.40,117.89 L612.70,117.89 L612.70,117.99 L615.00,117.99 L615.00,118.03 L617.30,118.03 L617.30,118.08 L619.60,118.08 L619.60,118.10 L621.90,118.10 L621.90,118.12 L624.20,118.12 L624.20,118.14 L626.50,118.14 L626.50,118.14 L628.80,118.14 L628.80,118.16 L631.10,118.16 L631.10,118.16 L633.40,118.16 L633.40,118.16 L635.70,118.16 L635.70,118.18 L638.00,118.18 L638.00,118.18 L640.30,118.18 L640.30,118.18 L642.60,118.18 L642.60,118.18 L644.90,118.18 L644.90,118.20 L647.20,118.20 L647.20,118.20" fill="none" stroke="#4fd3e5" stroke-width="0.95" stroke-linejoin="miter"/>
<path d="M564.40,118.20 L564.40,109.40 L566.70,109.40 L566.70,115.36 L569.00,115.36 L569.00,115.36 L571.30,115.36 L571.30,114.86 L573.60,114.86 L573.60,113.86 L575.90,113.86 L575.90,112.87 L578.20,112.87 L578.20,112.68 L580.50,112.68 L580.50,113.37 L582.80,113.37 L582.80,113.37 L585.10,113.37 L585.10,113.68 L587.40,113.68 L587.40,114.36 L589.70,114.36 L589.70,115.36 L592.00,115.36 L592.00,116.35 L594.30,116.35 L594.30,117.04 L596.60,117.04 L596.60,117.47 L598.90,117.47 L598.90,117.64 L601.20,117.64 L601.20,117.78 L603.50,117.78 L603.50,117.89 L605.80,117.89 L605.80,117.99 L608.10,117.99 L608.10,118.03 L610.40,118.03 L610.40,118.08 L612.70,118.08 L612.70,118.10 L615.00,118.10 L615.00,118.12 L617.30,118.12 L617.30,118.14 L619.60,118.14 L619.60,118.14 L621.90,118.14 L621.90,118.16 L624.20,118.16 L624.20,118.16 L626.50,118.16 L626.50,118.18 L628.80,118.18 L628.80,118.18 L631.10,118.18 L631.10,118.18 L633.40,118.18 L633.40,118.20 L635.70,118.20 L635.70,118.20" fill="none" stroke="#d3283f" stroke-width="0.95" stroke-linejoin="miter"/>
<path d="M564.40,118.20 L564.40,111.98 L566.70,111.98 L566.70,113.86 L569.00,113.86 L569.00,112.37 L571.30,112.37 L571.30,110.40 L573.60,110.40 L573.60,108.90 L575.90,108.90 L575.90,107.41 L578.20,107.41 L578.20,105.92 L580.50,105.92 L580.50,107.41 L582.80,107.41 L582.80,109.40 L585.10,109.40 L585.10,110.90 L587.40,110.90 L587.40,112.68 L589.70,112.68 L589.70,113.86 L592.00,113.86 L592.00,114.86 L594.30,114.86 L594.30,115.86 L596.60,115.86 L596.60,116.35 L598.90,116.35 L598.90,116.85 L601.20,116.85 L601.20,117.27 L603.50,117.27 L603.50,117.58 L605.80,117.58 L605.80,117.78 L608.10,117.78 L608.10,117.89 L610.40,117.89 L610.40,117.99 L612.70,117.99 L612.70,118.03 L615.00,118.03 L615.00,118.08 L617.30,118.08 L617.30,118.10 L619.60,118.10 L619.60,118.12 L621.90,118.12 L621.90,118.14 L624.20,118.14 L624.20,118.16 L626.50,118.16 L626.50,118.16 L628.80,118.16 L628.80,118.18 L631.10,118.18 L631.10,118.18 L633.40,118.18 L633.40,118.18 L635.70,118.18 L635.70,118.20 L638.00,118.20 L638.00,118.20" fill="none" stroke="#f29ccf" stroke-width="0.95" stroke-linejoin="miter"/>
<path d="M564.40,118.20 L564.40,116.95 L566.70,116.95 L566.70,118.12 L569.00,118.12 L569.00,118.12 L571.30,118.12 L571.30,118.08 L573.60,118.08 L573.60,117.47 L575.90,117.47 L575.90,117.99 L578.20,117.99 L578.20,118.03 L580.50,118.03 L580.50,117.47 L582.80,117.47 L582.80,117.99 L585.10,117.99 L585.10,118.08 L587.40,118.08 L587.40,118.12 L589.70,118.12 L589.70,118.14 L592.00,118.14 L592.00,118.16 L594.30,118.16 L594.30,118.18 L596.60,118.18 L596.60,118.20 L598.90,118.20 L598.90,118.20" fill="none" stroke="#f3d41c" stroke-width="0.95" stroke-linejoin="miter"/>
<path d="M564.40,118.20 L564.40,117.16 L566.70,117.16 L566.70,118.10 L569.00,118.10 L569.00,118.12 L571.30,118.12 L571.30,118.14 L573.60,118.14 L573.60,118.14 L575.90,118.14 L575.90,118.16 L578.20,118.16 L578.20,118.16 L580.50,118.16 L580.50,118.18 L582.80,118.18 L582.80,118.18 L585.10,118.18 L585.10,118.18 L587.40,118.18 L587.40,118.20 L589.70,118.20 L589.70,118.20" fill="none" stroke="#df42e0" stroke-width="0.95" stroke-linejoin="miter"/>
<rect x="38.40" y="155.40" width="129.00" height="109.70" fill="none" stroke="#8c8c8c" stroke-width="0.85"/>
<line x1="35.50" y1="265.00" x2="38.40" y2="265.00" stroke="#777" stroke-width="1.0" />
<text x="32.40" y="267.55" font-size="6.6" text-anchor="end">0</text>
<line x1="35.50" y1="244.20" x2="38.40" y2="244.20" stroke="#777" stroke-width="1.0" />
<text x="32.40" y="246.75" font-size="6.6" text-anchor="end">20</text>
<line x1="35.50" y1="223.40" x2="38.40" y2="223.40" stroke="#777" stroke-width="1.0" />
<text x="32.40" y="225.95" font-size="6.6" text-anchor="end">40</text>
<line x1="35.50" y1="202.60" x2="38.40" y2="202.60" stroke="#777" stroke-width="1.0" />
<text x="32.40" y="205.15" font-size="6.6" text-anchor="end">60</text>
<line x1="35.50" y1="181.80" x2="38.40" y2="181.80" stroke="#777" stroke-width="1.0" />
<text x="32.40" y="184.35" font-size="6.6" text-anchor="end">80</text>
<line x1="35.50" y1="161.00" x2="38.40" y2="161.00" stroke="#777" stroke-width="1.0" />
<text x="32.40" y="163.55" font-size="6.6" text-anchor="end">100</text>
<line x1="42.20" y1="265.10" x2="42.20" y2="267.80" stroke="#777" stroke-width="1.0" />
<text x="42.20" y="276.40" font-size="6.6" text-anchor="middle">0</text>
<line x1="63.07" y1="265.10" x2="63.07" y2="267.80" stroke="#777" stroke-width="1.0" />
<text x="63.07" y="276.40" font-size="6.6" text-anchor="middle">50</text>
<line x1="83.93" y1="265.10" x2="83.93" y2="267.80" stroke="#777" stroke-width="1.0" />
<text x="83.93" y="276.40" font-size="6.6" text-anchor="middle">100</text>
<line x1="104.80" y1="265.10" x2="104.80" y2="267.80" stroke="#777" stroke-width="1.0" />
<text x="104.80" y="276.40" font-size="6.6" text-anchor="middle">150</text>
<line x1="125.66" y1="265.10" x2="125.66" y2="267.80" stroke="#777" stroke-width="1.0" />
<text x="125.66" y="276.40" font-size="6.6" text-anchor="middle">200</text>
<line x1="146.53" y1="265.10" x2="146.53" y2="267.80" stroke="#777" stroke-width="1.0" />
<text x="146.53" y="276.40" font-size="6.6" text-anchor="middle">250</text>
<line x1="167.39" y1="265.10" x2="167.39" y2="267.80" stroke="#777" stroke-width="1.0" />
<text x="167.39" y="276.40" font-size="6.6" text-anchor="middle">300</text>
<text x="102.60" y="287.50" font-size="6.4" text-anchor="middle" textLength="59.4" lengthAdjust="spacingAndGlyphs">Radial distance (µm)</text>
<text x="15.60" y="210.70" font-size="6.4" text-anchor="middle" transform="rotate(-90 15.60 210.70)" textLength="85" lengthAdjust="spacingAndGlyphs">Percentage of cells targeted</text>
<text x="5.60" y="209.20" font-size="6.4" text-anchor="middle" transform="rotate(-90 5.60 209.20)" textLength="21.3" lengthAdjust="spacingAndGlyphs">MET-4</text>
<polyline points="42.20,225.38 46.34,232.86 50.48,234.63 54.62,234.84 58.76,235.88 62.90,235.88 67.04,235.15 71.18,238.90 75.32,241.60 79.46,243.58 83.60,245.34 87.74,247.11 91.88,249.82 96.02,251.79 100.16,254.08 104.30,255.85 108.85,258.76 112.99,260.22 117.13,261.88 121.27,262.92 125.00,263.44 133.28,263.96 145.70,264.27 163.09,264.58" fill="none" stroke="#d3283f" stroke-width="1.6" stroke-linejoin="round"/>
<polyline points="42.20,243.58 46.34,236.61 50.48,239.73 54.62,244.41 58.76,243.58 62.90,243.58 67.04,247.84 71.18,249.61 75.32,251.27 79.46,253.25 83.60,255.74 87.74,256.68 91.88,258.24 96.02,259.28 100.16,260.84 104.30,261.78 108.85,262.71 116.72,263.44 125.00,263.96 145.70,264.38 163.09,264.58" fill="none" stroke="#2ec82e" stroke-width="1.6" stroke-linejoin="round"/>
<polyline points="42.20,227.35 46.34,229.64 50.48,221.94 54.62,228.39 58.76,229.85 62.90,233.80 67.04,233.38 71.18,237.86 75.32,236.30 79.46,242.74 83.60,244.10 87.74,245.24 91.88,247.53 96.02,250.02 100.16,252.94 104.30,256.26 108.85,257.82 112.99,258.76 117.13,259.80 121.27,260.74 125.00,261.57 129.55,261.98 133.69,262.50 139.49,262.92 146.11,263.23 153.98,263.75 163.09,264.27" fill="none" stroke="#4fd3e5" stroke-width="1.6" stroke-linejoin="round"/>
<polyline points="42.20,248.05 46.34,224.44 50.48,231.82 54.62,221.42 58.76,236.82 62.90,232.86 67.04,228.39 71.18,241.81 75.32,236.30 79.46,243.26 83.60,246.70 87.74,245.66 91.88,251.48 96.02,249.50 100.16,252.10 104.30,251.27 108.44,256.68 112.99,261.88 117.13,258.24 121.27,260.22 125.00,262.30 129.55,262.71 133.69,263.23 137.83,262.71 141.56,261.57 146.11,262.30 150.25,263.23 153.98,262.71 158.53,263.96 162.26,264.17" fill="none" stroke="#f3d41c" stroke-width="1.6" stroke-linejoin="round"/>
<polyline points="42.20,254.29 46.34,258.76 50.48,256.99 54.62,260.74 58.76,258.24 62.90,259.80 67.04,259.80 71.18,260.74 75.32,261.26 79.46,261.78 83.60,262.30 91.88,263.23 100.16,263.75 104.30,264.17 125.00,264.48 163.09,264.69" fill="none" stroke="#df42e0" stroke-width="1.6" stroke-linejoin="round"/>
<polyline points="42.20,252.00 46.34,250.44 50.48,246.59 54.62,245.86 58.76,245.24 62.90,250.54 67.04,252.83 71.18,252.83 75.32,252.00 79.46,253.77 83.60,256.68 87.74,256.68 91.88,257.72 96.02,259.28 100.16,259.59 104.30,260.53 108.85,261.78 112.99,262.50 117.13,263.23 125.00,263.75 145.70,264.06 163.50,264.27" fill="none" stroke="#f29ccf" stroke-width="1.6" stroke-linejoin="round"/>
<rect x="207.60" y="159.40" width="125.00" height="105.70" fill="none" stroke="#8c8c8c" stroke-width="0.85"/>
<line x1="204.70" y1="265.00" x2="207.60" y2="265.00" stroke="#777" stroke-width="1.0" />
<text x="201.60" y="267.55" font-size="6.6" text-anchor="end">0</text>
<line x1="204.70" y1="243.96" x2="207.60" y2="243.96" stroke="#777" stroke-width="1.0" />
<text x="201.60" y="246.51" font-size="6.6" text-anchor="end">20</text>
<line x1="204.70" y1="222.92" x2="207.60" y2="222.92" stroke="#777" stroke-width="1.0" />
<text x="201.60" y="225.47" font-size="6.6" text-anchor="end">40</text>
<line x1="204.70" y1="201.88" x2="207.60" y2="201.88" stroke="#777" stroke-width="1.0" />
<text x="201.60" y="204.43" font-size="6.6" text-anchor="end">60</text>
<line x1="204.70" y1="180.84" x2="207.60" y2="180.84" stroke="#777" stroke-width="1.0" />
<text x="201.60" y="183.39" font-size="6.6" text-anchor="end">80</text>
<line x1="204.70" y1="159.80" x2="207.60" y2="159.80" stroke="#777" stroke-width="1.0" />
<text x="201.60" y="162.35" font-size="6.6" text-anchor="end">100</text>
<line x1="209.20" y1="265.10" x2="209.20" y2="267.80" stroke="#777" stroke-width="1.0" />
<text x="209.20" y="276.40" font-size="6.6" text-anchor="middle">1</text>
<line x1="239.65" y1="265.10" x2="239.65" y2="267.80" stroke="#777" stroke-width="1.0" />
<text x="239.65" y="276.40" font-size="6.6" text-anchor="middle">2</text>
<line x1="270.10" y1="265.10" x2="270.10" y2="267.80" stroke="#777" stroke-width="1.0" />
<text x="270.10" y="276.40" font-size="6.6" text-anchor="middle">3</text>
<line x1="300.55" y1="265.10" x2="300.55" y2="267.80" stroke="#777" stroke-width="1.0" />
<text x="300.55" y="276.40" font-size="6.6" text-anchor="middle">4</text>
<line x1="331.00" y1="265.10" x2="331.00" y2="267.80" stroke="#777" stroke-width="1.0" />
<text x="331.00" y="276.40" font-size="6.6" text-anchor="middle">5</text>
<text x="270.50" y="287.50" font-size="6.4" text-anchor="middle" textLength="107" lengthAdjust="spacingAndGlyphs">Number of synapses onto target cell</text>
<text x="186.00" y="212.10" font-size="6.4" text-anchor="middle" transform="rotate(-90 186.00 212.10)" textLength="76.6" lengthAdjust="spacingAndGlyphs">Percentage of connections</text>
<polyline points="209.20,185.05 239.65,248.69 270.10,259.21 300.55,261.84 331.00,263.42" fill="none" stroke="#f29ccf" stroke-width="1.8" stroke-linejoin="round" stroke-dasharray="5.3,2.2"/>
<polyline points="209.20,180.31 239.65,250.90 270.10,260.27 300.55,262.90 331.00,264.16" fill="none" stroke="#df42e0" stroke-width="1.8" stroke-linejoin="round" stroke-dasharray="5.3,2.2"/>
<line x1="209.20" y1="182.94" x2="209.20" y2="176.32" stroke="#df42e0" stroke-width="1.2" />
<polyline points="209.20,202.93 239.65,247.85 270.10,254.27 300.55,259.21 331.00,260.90" fill="none" stroke="#f3d41c" stroke-width="1.8" stroke-linejoin="round" stroke-dasharray="5.3,2.2"/>
<line x1="209.20" y1="208.19" x2="209.20" y2="198.30" stroke="#f3d41c" stroke-width="1.2" />
<line x1="270.10" y1="255.53" x2="270.10" y2="252.90" stroke="#f3d41c" stroke-width="1.2" />
<polyline points="209.20,193.99 239.65,245.43 270.10,257.74 300.55,260.79 331.00,262.37" fill="none" stroke="#4fd3e5" stroke-width="1.8" stroke-linejoin="round" stroke-dasharray="5.3,2.2"/>
<line x1="209.20" y1="197.25" x2="209.20" y2="189.26" stroke="#4fd3e5" stroke-width="1.2" />
<line x1="239.65" y1="247.12" x2="239.65" y2="243.96" stroke="#4fd3e5" stroke-width="1.2" />
<polyline points="209.20,180.84 239.65,250.38 270.10,260.79 300.55,263.00 331.00,264.05" fill="none" stroke="#2ec82e" stroke-width="1.8" stroke-linejoin="round" stroke-dasharray="5.3,2.2"/>
<line x1="209.20" y1="184.63" x2="209.20" y2="177.26" stroke="#2ec82e" stroke-width="1.2" />
<line x1="239.65" y1="251.85" x2="239.65" y2="249.22" stroke="#2ec82e" stroke-width="1.2" />
<polyline points="209.20,186.63 239.65,247.43 270.10,259.42 300.55,262.37 331.00,263.84" fill="none" stroke="#d3283f" stroke-width="1.8" stroke-linejoin="round" stroke-dasharray="5.3,2.2"/>
<line x1="209.20" y1="189.89" x2="209.20" y2="184.63" stroke="#d3283f" stroke-width="1.2" />
<rect x="378.60" y="155.00" width="109.40" height="110.00" fill="none" stroke="#8c8c8c" stroke-width="0.85"/>
<line x1="378.60" y1="165.00" x2="488.00" y2="165.00" stroke="#d2d2d2" stroke-width="0.8" stroke-dasharray="1.7,1.3"/>
<line x1="378.60" y1="175.40" x2="488.00" y2="175.40" stroke="#d2d2d2" stroke-width="0.8" stroke-dasharray="1.7,1.3"/>
<line x1="378.60" y1="208.40" x2="488.00" y2="208.40" stroke="#d2d2d2" stroke-width="0.8" stroke-dasharray="1.7,1.3"/>
<line x1="378.60" y1="215.30" x2="488.00" y2="215.30" stroke="#d2d2d2" stroke-width="0.8" stroke-dasharray="1.7,1.3"/>
<line x1="378.60" y1="238.20" x2="488.00" y2="238.20" stroke="#d2d2d2" stroke-width="0.8" stroke-dasharray="1.7,1.3"/>
<line x1="378.60" y1="253.40" x2="488.00" y2="253.40" stroke="#d2d2d2" stroke-width="0.8" stroke-dasharray="1.7,1.3"/>
<line x1="375.70" y1="162.00" x2="378.60" y2="162.00" stroke="#777" stroke-width="1.0" />
<text x="372.60" y="164.55" font-size="6.6" text-anchor="end">−300</text>
<line x1="375.70" y1="174.88" x2="378.60" y2="174.88" stroke="#777" stroke-width="1.0" />
<text x="372.60" y="177.43" font-size="6.6" text-anchor="end">−400</text>
<line x1="375.70" y1="187.75" x2="378.60" y2="187.75" stroke="#777" stroke-width="1.0" />
<text x="372.60" y="190.30" font-size="6.6" text-anchor="end">−500</text>
<line x1="375.70" y1="200.62" x2="378.60" y2="200.62" stroke="#777" stroke-width="1.0" />
<text x="372.60" y="203.18" font-size="6.6" text-anchor="end">−600</text>
<line x1="375.70" y1="213.50" x2="378.60" y2="213.50" stroke="#777" stroke-width="1.0" />
<text x="372.60" y="216.05" font-size="6.6" text-anchor="end">−700</text>
<line x1="375.70" y1="226.38" x2="378.60" y2="226.38" stroke="#777" stroke-width="1.0" />
<text x="372.60" y="228.93" font-size="6.6" text-anchor="end">−800</text>
<line x1="375.70" y1="239.25" x2="378.60" y2="239.25" stroke="#777" stroke-width="1.0" />
<text x="372.60" y="241.80" font-size="6.6" text-anchor="end">−900</text>
<line x1="375.70" y1="252.12" x2="378.60" y2="252.12" stroke="#777" stroke-width="1.0" />
<text x="372.60" y="254.68" font-size="6.6" text-anchor="end">−1,000</text>
<line x1="375.70" y1="265.00" x2="378.60" y2="265.00" stroke="#777" stroke-width="1.0" />
<text x="372.60" y="267.55" font-size="6.6" text-anchor="end">−1,100</text>
<line x1="398.00" y1="265.00" x2="398.00" y2="267.70" stroke="#777" stroke-width="1.0" />
<text x="398.00" y="276.30" font-size="6.6" text-anchor="middle">1,200</text>
<line x1="423.66" y1="265.00" x2="423.66" y2="267.70" stroke="#777" stroke-width="1.0" />
<text x="423.66" y="276.30" font-size="6.6" text-anchor="middle">1,000</text>
<line x1="449.32" y1="265.00" x2="449.32" y2="267.70" stroke="#777" stroke-width="1.0" />
<text x="449.32" y="276.30" font-size="6.6" text-anchor="middle">800</text>
<line x1="474.98" y1="265.00" x2="474.98" y2="267.70" stroke="#777" stroke-width="1.0" />
<text x="474.98" y="276.30" font-size="6.6" text-anchor="middle">600</text>
<text x="433.20" y="287.40" font-size="6.4" text-anchor="middle" textLength="51.5" lengthAdjust="spacingAndGlyphs"><tspan font-style="italic">x</tspan> coordinate (µm)</text>
<text x="349.20" y="208.80" font-size="6.4" text-anchor="middle" transform="rotate(-90 349.20 208.80)" textLength="51.5" lengthAdjust="spacingAndGlyphs"><tspan font-style="italic">y</tspan> coordinate (µm)</text>
<circle cx="389.8" cy="218.2" r="1.5" fill="#250691"/>
<circle cx="396.1" cy="220.9" r="1.5" fill="#250691"/>
<circle cx="396.2" cy="182.8" r="1.5" fill="#250691"/>
<circle cx="397.0" cy="222.8" r="1.5" fill="#250691"/>
<circle cx="398.3" cy="217.1" r="1.5" fill="#250691"/>
<circle cx="398.4" cy="201.9" r="1.5" fill="#250691"/>
<circle cx="398.9" cy="229.4" r="1.5" fill="#250691"/>
<circle cx="399.0" cy="213.0" r="1.5" fill="#250691"/>
<circle cx="399.4" cy="219.0" r="1.5" fill="#250691"/>
<circle cx="399.9" cy="202.0" r="1.5" fill="#250691"/>
<circle cx="400.0" cy="220.6" r="1.5" fill="#250691"/>
<circle cx="401.0" cy="241.3" r="1.5" fill="#250691"/>
<circle cx="401.1" cy="218.8" r="1.5" fill="#250691"/>
<circle cx="401.2" cy="230.6" r="1.5" fill="#250691"/>
<circle cx="402.3" cy="213.1" r="1.5" fill="#250691"/>
<circle cx="403.7" cy="207.9" r="1.5" fill="#250691"/>
<circle cx="403.8" cy="182.0" r="1.5" fill="#250691"/>
<circle cx="403.8" cy="189.8" r="1.5" fill="#250691"/>
<circle cx="403.8" cy="215.1" r="1.5" fill="#250691"/>
<circle cx="403.9" cy="211.1" r="1.5" fill="#250691"/>
<circle cx="404.3" cy="175.2" r="1.5" fill="#250691"/>
<circle cx="404.5" cy="246.3" r="1.5" fill="#250691"/>
<circle cx="405.8" cy="226.9" r="1.5" fill="#250691"/>
<circle cx="406.0" cy="196.1" r="1.5" fill="#250691"/>
<circle cx="406.5" cy="228.5" r="1.5" fill="#250691"/>
<circle cx="406.6" cy="251.9" r="1.5" fill="#250691"/>
<circle cx="406.7" cy="203.8" r="1.5" fill="#250691"/>
<circle cx="406.8" cy="213.1" r="1.5" fill="#250691"/>
<circle cx="406.8" cy="243.9" r="1.5" fill="#250691"/>
<circle cx="407.9" cy="226.8" r="1.5" fill="#250691"/>
<circle cx="408.1" cy="211.5" r="1.5" fill="#250691"/>
<circle cx="408.2" cy="230.5" r="1.5" fill="#250691"/>
<circle cx="408.6" cy="201.6" r="1.5" fill="#250691"/>
<circle cx="408.7" cy="241.6" r="1.5" fill="#250691"/>
<circle cx="409.0" cy="232.0" r="1.5" fill="#250691"/>
<circle cx="409.3" cy="209.6" r="1.5" fill="#250691"/>
<circle cx="409.8" cy="211.4" r="1.5" fill="#250691"/>
<circle cx="410.0" cy="234.6" r="1.5" fill="#250691"/>
<circle cx="410.0" cy="203.0" r="1.5" fill="#250691"/>
<circle cx="410.8" cy="171.7" r="1.5" fill="#250691"/>
<circle cx="411.0" cy="209.1" r="1.5" fill="#250691"/>
<circle cx="411.2" cy="182.5" r="1.5" fill="#250691"/>
<circle cx="411.3" cy="235.9" r="1.5" fill="#250691"/>
<circle cx="411.5" cy="198.2" r="1.5" fill="#250691"/>
<circle cx="411.5" cy="232.5" r="1.5" fill="#250691"/>
<circle cx="412.1" cy="241.6" r="1.5" fill="#250691"/>
<circle cx="412.3" cy="199.7" r="1.5" fill="#250691"/>
<circle cx="412.4" cy="185.0" r="1.5" fill="#250691"/>
<circle cx="412.4" cy="181.1" r="1.5" fill="#250691"/>
<circle cx="412.6" cy="203.7" r="1.5" fill="#250691"/>
<circle cx="412.6" cy="238.3" r="1.5" fill="#250691"/>
<circle cx="413.2" cy="209.6" r="1.5" fill="#250691"/>
<circle cx="413.6" cy="224.9" r="1.5" fill="#250691"/>
<circle cx="413.7" cy="232.2" r="1.5" fill="#250691"/>
<circle cx="414.1" cy="207.8" r="1.5" fill="#250691"/>
<circle cx="414.2" cy="249.6" r="1.5" fill="#250691"/>
<circle cx="414.3" cy="230.6" r="1.5" fill="#250691"/>
<circle cx="414.6" cy="215.4" r="1.5" fill="#250691"/>
<circle cx="414.6" cy="177.1" r="1.5" fill="#250691"/>
<circle cx="415.3" cy="232.3" r="1.5" fill="#250691"/>
<circle cx="415.4" cy="247.7" r="1.5" fill="#250691"/>
<circle cx="415.7" cy="198.4" r="1.5" fill="#250691"/>
<circle cx="416.4" cy="222.7" r="1.5" fill="#250691"/>
<circle cx="416.7" cy="184.9" r="1.5" fill="#250691"/>
<circle cx="416.8" cy="180.8" r="1.5" fill="#250691"/>
<circle cx="416.8" cy="177.0" r="1.5" fill="#250691"/>
<circle cx="417.1" cy="188.5" r="1.5" fill="#250691"/>
<circle cx="417.5" cy="232.5" r="1.5" fill="#250691"/>
<circle cx="417.7" cy="186.8" r="1.5" fill="#250691"/>
<circle cx="417.9" cy="190.3" r="1.5" fill="#250691"/>
<circle cx="417.9" cy="243.6" r="1.5" fill="#250691"/>
<circle cx="418.0" cy="247.8" r="1.5" fill="#250691"/>
<circle cx="418.1" cy="194.4" r="1.5" fill="#250691"/>
<circle cx="418.6" cy="184.6" r="1.5" fill="#250691"/>
<circle cx="418.6" cy="177.2" r="1.5" fill="#250691"/>
<circle cx="418.9" cy="181.2" r="1.5" fill="#250691"/>
<circle cx="419.0" cy="233.9" r="1.5" fill="#250691"/>
<circle cx="419.2" cy="199.8" r="1.5" fill="#250691"/>
<circle cx="419.2" cy="241.8" r="1.5" fill="#250691"/>
<circle cx="419.7" cy="247.8" r="1.5" fill="#250691"/>
<circle cx="419.7" cy="232.1" r="1.5" fill="#250691"/>
<circle cx="419.9" cy="213.0" r="1.5" fill="#250691"/>
<circle cx="420.0" cy="175.1" r="1.5" fill="#250691"/>
<circle cx="420.0" cy="248.4" r="1.5" fill="#250691"/>
<circle cx="420.1" cy="236.1" r="1.5" fill="#250691"/>
<circle cx="420.2" cy="182.8" r="1.5" fill="#250691"/>
<circle cx="420.8" cy="241.6" r="1.5" fill="#250691"/>
<circle cx="420.9" cy="234.1" r="1.5" fill="#250691"/>
<circle cx="421.0" cy="169.8" r="1.5" fill="#250691"/>
<circle cx="421.0" cy="180.6" r="1.5" fill="#250691"/>
<circle cx="421.0" cy="192.0" r="1.5" fill="#250691"/>
<circle cx="421.1" cy="184.3" r="1.5" fill="#250691"/>
<circle cx="421.3" cy="207.3" r="1.5" fill="#250691"/>
<circle cx="421.3" cy="230.6" r="1.5" fill="#250691"/>
<circle cx="421.3" cy="203.9" r="1.5" fill="#250691"/>
<circle cx="421.9" cy="171.6" r="1.5" fill="#250691"/>
<circle cx="422.0" cy="205.9" r="1.5" fill="#250691"/>
<circle cx="422.2" cy="232.4" r="1.5" fill="#250691"/>
<circle cx="422.3" cy="209.7" r="1.5" fill="#250691"/>
<circle cx="422.4" cy="197.6" r="1.5" fill="#250691"/>
<circle cx="422.4" cy="243.6" r="1.5" fill="#250691"/>
<circle cx="422.5" cy="201.9" r="1.5" fill="#250691"/>
<circle cx="422.5" cy="247.3" r="1.5" fill="#250691"/>
<circle cx="423.0" cy="249.4" r="1.5" fill="#250691"/>
<circle cx="423.1" cy="169.1" r="1.5" fill="#250691"/>
<circle cx="423.3" cy="252.9" r="1.5" fill="#250691"/>
<circle cx="423.3" cy="180.6" r="1.5" fill="#250691"/>
<circle cx="423.4" cy="176.8" r="1.5" fill="#250691"/>
<circle cx="423.4" cy="245.7" r="1.5" fill="#250691"/>
<circle cx="423.5" cy="207.7" r="1.5" fill="#250691"/>
<circle cx="424.1" cy="194.0" r="1.5" fill="#250691"/>
<circle cx="424.2" cy="232.4" r="1.5" fill="#250691"/>
<circle cx="424.2" cy="202.1" r="1.5" fill="#250691"/>
<circle cx="424.6" cy="205.9" r="1.5" fill="#250691"/>
<circle cx="424.7" cy="228.2" r="1.5" fill="#250691"/>
<circle cx="424.7" cy="163.6" r="1.5" fill="#250691"/>
<circle cx="425.1" cy="242.1" r="1.5" fill="#250691"/>
<circle cx="425.2" cy="188.8" r="1.5" fill="#250691"/>
<circle cx="425.3" cy="169.4" r="1.5" fill="#250691"/>
<circle cx="425.4" cy="230.6" r="1.5" fill="#250691"/>
<circle cx="425.6" cy="249.1" r="1.5" fill="#250691"/>
<circle cx="426.3" cy="167.6" r="1.5" fill="#250691"/>
<circle cx="426.4" cy="171.1" r="1.5" fill="#250691"/>
<circle cx="426.5" cy="236.2" r="1.5" fill="#250691"/>
<circle cx="426.8" cy="198.1" r="1.5" fill="#250691"/>
<circle cx="427.4" cy="173.2" r="1.5" fill="#250691"/>
<circle cx="428.0" cy="252.0" r="1.5" fill="#250691"/>
<circle cx="428.7" cy="197.7" r="1.5" fill="#250691"/>
<circle cx="428.7" cy="182.6" r="1.5" fill="#250691"/>
<circle cx="428.9" cy="186.9" r="1.5" fill="#250691"/>
<circle cx="428.9" cy="163.3" r="1.5" fill="#250691"/>
<circle cx="429.0" cy="255.0" r="1.5" fill="#250691"/>
<circle cx="429.1" cy="194.1" r="1.5" fill="#250691"/>
<circle cx="429.7" cy="195.8" r="1.5" fill="#250691"/>
<circle cx="429.8" cy="242.0" r="1.5" fill="#250691"/>
<circle cx="429.9" cy="172.9" r="1.5" fill="#250691"/>
<circle cx="430.0" cy="188.8" r="1.5" fill="#250691"/>
<circle cx="430.2" cy="222.9" r="1.5" fill="#250691"/>
<circle cx="430.7" cy="209.6" r="1.5" fill="#250691"/>
<circle cx="430.8" cy="197.8" r="1.5" fill="#250691"/>
<circle cx="430.8" cy="236.3" r="1.5" fill="#250691"/>
<circle cx="430.9" cy="240.0" r="1.5" fill="#250691"/>
<circle cx="431.0" cy="243.4" r="1.5" fill="#250691"/>
<circle cx="431.2" cy="247.5" r="1.5" fill="#250691"/>
<circle cx="432.0" cy="180.9" r="1.5" fill="#250691"/>
<circle cx="432.0" cy="253.6" r="1.5" fill="#250691"/>
<circle cx="432.2" cy="257.1" r="1.5" fill="#250691"/>
<circle cx="432.3" cy="245.6" r="1.5" fill="#250691"/>
<circle cx="432.4" cy="203.7" r="1.5" fill="#250691"/>
<circle cx="432.9" cy="167.8" r="1.5" fill="#250691"/>
<circle cx="433.0" cy="171.6" r="1.5" fill="#250691"/>
<circle cx="433.2" cy="236.0" r="1.5" fill="#250691"/>
<circle cx="433.3" cy="190.4" r="1.5" fill="#250691"/>
<circle cx="433.5" cy="205.7" r="1.5" fill="#250691"/>
<circle cx="434.0" cy="180.7" r="1.5" fill="#250691"/>
<circle cx="434.0" cy="249.6" r="1.5" fill="#250691"/>
<circle cx="434.1" cy="230.2" r="1.5" fill="#250691"/>
<circle cx="434.4" cy="184.5" r="1.5" fill="#250691"/>
<circle cx="434.6" cy="195.9" r="1.5" fill="#250691"/>
<circle cx="434.7" cy="173.4" r="1.5" fill="#250691"/>
<circle cx="435.1" cy="256.5" r="1.5" fill="#250691"/>
<circle cx="435.2" cy="251.5" r="1.5" fill="#250691"/>
<circle cx="435.4" cy="201.6" r="1.5" fill="#250691"/>
<circle cx="435.5" cy="247.6" r="1.5" fill="#250691"/>
<circle cx="435.5" cy="197.8" r="1.5" fill="#250691"/>
<circle cx="435.7" cy="167.8" r="1.5" fill="#250691"/>
<circle cx="436.3" cy="165.7" r="1.5" fill="#250691"/>
<circle cx="436.5" cy="237.6" r="1.5" fill="#250691"/>
<circle cx="436.7" cy="253.2" r="1.5" fill="#250691"/>
<circle cx="436.8" cy="245.7" r="1.5" fill="#250691"/>
<circle cx="437.4" cy="243.4" r="1.5" fill="#250691"/>
<circle cx="437.4" cy="232.1" r="1.5" fill="#250691"/>
<circle cx="437.4" cy="182.8" r="1.5" fill="#250691"/>
<circle cx="437.4" cy="216.7" r="1.5" fill="#250691"/>
<circle cx="437.5" cy="194.3" r="1.5" fill="#250691"/>
<circle cx="437.6" cy="197.8" r="1.5" fill="#250691"/>
<circle cx="437.7" cy="205.4" r="1.5" fill="#250691"/>
<circle cx="437.9" cy="167.4" r="1.5" fill="#250691"/>
<circle cx="438.6" cy="226.4" r="1.5" fill="#250691"/>
<circle cx="438.6" cy="203.7" r="1.5" fill="#250691"/>
<circle cx="438.7" cy="166.0" r="1.5" fill="#250691"/>
<circle cx="438.7" cy="207.4" r="1.5" fill="#250691"/>
<circle cx="438.7" cy="237.8" r="1.5" fill="#250691"/>
<circle cx="438.8" cy="196.3" r="1.5" fill="#250691"/>
<circle cx="438.8" cy="234.3" r="1.5" fill="#250691"/>
<circle cx="438.9" cy="249.2" r="1.5" fill="#250691"/>
<circle cx="439.0" cy="223.0" r="1.5" fill="#250691"/>
<circle cx="439.1" cy="199.9" r="1.5" fill="#250691"/>
<circle cx="440.0" cy="252.0" r="1.5" fill="#250691"/>
<circle cx="440.0" cy="201.9" r="1.5" fill="#250691"/>
<circle cx="440.0" cy="167.5" r="1.5" fill="#250691"/>
<circle cx="440.1" cy="186.8" r="1.5" fill="#250691"/>
<circle cx="440.7" cy="203.7" r="1.5" fill="#250691"/>
<circle cx="440.7" cy="199.6" r="1.5" fill="#250691"/>
<circle cx="440.7" cy="188.6" r="1.5" fill="#250691"/>
<circle cx="440.9" cy="180.8" r="1.5" fill="#250691"/>
<circle cx="440.9" cy="230.3" r="1.5" fill="#250691"/>
<circle cx="440.9" cy="196.0" r="1.5" fill="#250691"/>
<circle cx="441.0" cy="234.1" r="1.5" fill="#250691"/>
<circle cx="441.0" cy="249.5" r="1.5" fill="#250691"/>
<circle cx="441.2" cy="192.3" r="1.5" fill="#250691"/>
<circle cx="441.6" cy="194.3" r="1.5" fill="#250691"/>
<circle cx="441.7" cy="202.1" r="1.5" fill="#250691"/>
<circle cx="442.0" cy="247.4" r="1.5" fill="#250691"/>
<circle cx="442.2" cy="239.7" r="1.5" fill="#250691"/>
<circle cx="442.7" cy="241.7" r="1.5" fill="#250691"/>
<circle cx="442.8" cy="173.0" r="1.5" fill="#250691"/>
<circle cx="442.8" cy="233.9" r="1.5" fill="#250691"/>
<circle cx="442.9" cy="199.7" r="1.5" fill="#250691"/>
<circle cx="443.1" cy="165.5" r="1.5" fill="#250691"/>
<circle cx="443.2" cy="207.8" r="1.5" fill="#250691"/>
<circle cx="443.2" cy="253.0" r="1.5" fill="#250691"/>
<circle cx="443.9" cy="228.4" r="1.5" fill="#250691"/>
<circle cx="444.0" cy="190.2" r="1.5" fill="#250691"/>
<circle cx="444.3" cy="202.1" r="1.5" fill="#250691"/>
<circle cx="444.3" cy="235.7" r="1.5" fill="#250691"/>
<circle cx="444.4" cy="179.2" r="1.5" fill="#250691"/>
<circle cx="444.4" cy="167.7" r="1.5" fill="#250691"/>
<circle cx="445.0" cy="180.9" r="1.5" fill="#250691"/>
<circle cx="445.1" cy="203.4" r="1.5" fill="#250691"/>
<circle cx="445.2" cy="211.6" r="1.5" fill="#250691"/>
<circle cx="445.3" cy="184.4" r="1.5" fill="#250691"/>
<circle cx="445.4" cy="169.3" r="1.5" fill="#250691"/>
<circle cx="445.5" cy="199.6" r="1.5" fill="#250691"/>
<circle cx="446.1" cy="201.5" r="1.5" fill="#250691"/>
<circle cx="446.3" cy="167.4" r="1.5" fill="#250691"/>
<circle cx="446.5" cy="232.0" r="1.5" fill="#250691"/>
<circle cx="446.5" cy="194.1" r="1.5" fill="#250691"/>
<circle cx="446.6" cy="224.3" r="1.5" fill="#250691"/>
<circle cx="446.6" cy="249.8" r="1.5" fill="#250691"/>
<circle cx="446.7" cy="209.4" r="1.5" fill="#250691"/>
<circle cx="446.8" cy="205.8" r="1.5" fill="#250691"/>
<circle cx="447.4" cy="230.7" r="1.5" fill="#250691"/>
<circle cx="447.4" cy="173.2" r="1.5" fill="#250691"/>
<circle cx="447.6" cy="192.2" r="1.5" fill="#250691"/>
<circle cx="447.8" cy="204.0" r="1.5" fill="#250691"/>
<circle cx="448.3" cy="201.6" r="1.5" fill="#250691"/>
<circle cx="448.4" cy="247.3" r="1.5" fill="#250691"/>
<circle cx="448.4" cy="163.8" r="1.5" fill="#250691"/>
<circle cx="448.4" cy="182.7" r="1.5" fill="#250691"/>
<circle cx="448.5" cy="186.4" r="1.5" fill="#250691"/>
<circle cx="448.7" cy="171.5" r="1.5" fill="#250691"/>
<circle cx="449.0" cy="205.4" r="1.5" fill="#250691"/>
<circle cx="449.0" cy="232.1" r="1.5" fill="#250691"/>
<circle cx="449.6" cy="177.2" r="1.5" fill="#250691"/>
<circle cx="450.9" cy="194.5" r="1.5" fill="#250691"/>
<circle cx="451.0" cy="186.2" r="1.5" fill="#250691"/>
<circle cx="451.1" cy="182.4" r="1.5" fill="#250691"/>
<circle cx="451.1" cy="175.3" r="1.5" fill="#250691"/>
<circle cx="451.5" cy="244.8" r="1.5" fill="#250691"/>
<circle cx="451.6" cy="207.4" r="1.5" fill="#250691"/>
<circle cx="451.7" cy="230.2" r="1.5" fill="#250691"/>
<circle cx="451.9" cy="192.6" r="1.5" fill="#250691"/>
<circle cx="451.9" cy="177.4" r="1.5" fill="#250691"/>
<circle cx="451.9" cy="204.1" r="1.5" fill="#250691"/>
<circle cx="451.9" cy="199.7" r="1.5" fill="#250691"/>
<circle cx="452.1" cy="180.5" r="1.5" fill="#250691"/>
<circle cx="452.2" cy="196.4" r="1.5" fill="#250691"/>
<circle cx="452.3" cy="173.2" r="1.5" fill="#250691"/>
<circle cx="452.6" cy="209.7" r="1.5" fill="#250691"/>
<circle cx="452.7" cy="205.8" r="1.5" fill="#250691"/>
<circle cx="452.9" cy="182.6" r="1.5" fill="#250691"/>
<circle cx="453.0" cy="171.5" r="1.5" fill="#250691"/>
<circle cx="453.0" cy="186.8" r="1.5" fill="#250691"/>
<circle cx="453.1" cy="228.2" r="1.5" fill="#250691"/>
<circle cx="453.3" cy="235.9" r="1.5" fill="#250691"/>
<circle cx="453.3" cy="179.3" r="1.5" fill="#250691"/>
<circle cx="453.4" cy="194.5" r="1.5" fill="#250691"/>
<circle cx="453.9" cy="227.0" r="1.5" fill="#250691"/>
<circle cx="454.0" cy="199.1" r="1.5" fill="#250691"/>
<circle cx="454.0" cy="205.0" r="1.5" fill="#250691"/>
<circle cx="454.3" cy="230.7" r="1.5" fill="#250691"/>
<circle cx="454.4" cy="214.9" r="1.5" fill="#250691"/>
<circle cx="454.9" cy="228.7" r="1.5" fill="#250691"/>
<circle cx="455.0" cy="183.0" r="1.5" fill="#250691"/>
<circle cx="455.3" cy="167.2" r="1.5" fill="#250691"/>
<circle cx="455.3" cy="232.4" r="1.5" fill="#250691"/>
<circle cx="455.4" cy="216.8" r="1.5" fill="#250691"/>
<circle cx="455.4" cy="220.6" r="1.5" fill="#250691"/>
<circle cx="456.5" cy="211.7" r="1.5" fill="#250691"/>
<circle cx="457.1" cy="182.6" r="1.5" fill="#250691"/>
<circle cx="457.1" cy="198.2" r="1.5" fill="#250691"/>
<circle cx="457.3" cy="186.2" r="1.5" fill="#250691"/>
<circle cx="457.3" cy="213.2" r="1.5" fill="#250691"/>
<circle cx="457.6" cy="209.6" r="1.5" fill="#250691"/>
<circle cx="458.2" cy="234.4" r="1.5" fill="#250691"/>
<circle cx="458.2" cy="222.4" r="1.5" fill="#250691"/>
<circle cx="458.3" cy="191.9" r="1.5" fill="#250691"/>
<circle cx="458.5" cy="211.3" r="1.5" fill="#250691"/>
<circle cx="458.5" cy="226.4" r="1.5" fill="#250691"/>
<circle cx="458.7" cy="207.4" r="1.5" fill="#250691"/>
<circle cx="459.2" cy="194.5" r="1.5" fill="#250691"/>
<circle cx="459.3" cy="174.9" r="1.5" fill="#250691"/>
<circle cx="459.5" cy="178.6" r="1.5" fill="#250691"/>
<circle cx="459.6" cy="209.7" r="1.5" fill="#250691"/>
<circle cx="459.7" cy="213.0" r="1.5" fill="#250691"/>
<circle cx="460.5" cy="234.5" r="1.5" fill="#250691"/>
<circle cx="460.6" cy="222.9" r="1.5" fill="#250691"/>
<circle cx="460.6" cy="208.4" r="1.5" fill="#250691"/>
<circle cx="460.7" cy="180.7" r="1.5" fill="#250691"/>
<circle cx="461.0" cy="208.1" r="1.5" fill="#250691"/>
<circle cx="461.5" cy="217.3" r="1.5" fill="#250691"/>
<circle cx="462.1" cy="221.0" r="1.5" fill="#250691"/>
<circle cx="462.7" cy="176.4" r="1.5" fill="#250691"/>
<circle cx="462.9" cy="226.3" r="1.5" fill="#250691"/>
<circle cx="463.4" cy="233.2" r="1.5" fill="#250691"/>
<circle cx="463.7" cy="217.3" r="1.5" fill="#250691"/>
<circle cx="464.3" cy="220.7" r="1.5" fill="#250691"/>
<circle cx="464.7" cy="219.2" r="1.5" fill="#250691"/>
<circle cx="465.5" cy="225.2" r="1.5" fill="#250691"/>
<circle cx="466.0" cy="221.0" r="1.5" fill="#250691"/>
<circle cx="466.8" cy="187.4" r="1.5" fill="#250691"/>
<circle cx="467.4" cy="181.6" r="1.5" fill="#250691"/>
<circle cx="467.6" cy="217.5" r="1.5" fill="#250691"/>
<circle cx="467.7" cy="222.7" r="1.5" fill="#250691"/>
<circle cx="468.3" cy="217.3" r="1.5" fill="#250691"/>
<circle cx="469.0" cy="237.8" r="1.5" fill="#250691"/>
<circle cx="469.6" cy="215.1" r="1.5" fill="#250691"/>
<circle cx="471.5" cy="230.5" r="1.5" fill="#250691"/>
<circle cx="472.8" cy="220.6" r="1.5" fill="#250691"/>
<circle cx="401.6" cy="215.3" r="1.5" fill="#3c049b"/>
<circle cx="403.1" cy="219.2" r="1.5" fill="#3c049b"/>
<circle cx="403.8" cy="226.2" r="1.5" fill="#3c049b"/>
<circle cx="405.4" cy="223.1" r="1.5" fill="#3c049b"/>
<circle cx="405.5" cy="214.8" r="1.5" fill="#3c049b"/>
<circle cx="405.7" cy="218.8" r="1.5" fill="#3c049b"/>
<circle cx="406.5" cy="232.4" r="1.5" fill="#3c049b"/>
<circle cx="406.5" cy="217.2" r="1.5" fill="#3c049b"/>
<circle cx="408.2" cy="200.1" r="1.5" fill="#3c049b"/>
<circle cx="409.4" cy="220.6" r="1.5" fill="#3c049b"/>
<circle cx="410.1" cy="222.5" r="1.5" fill="#3c049b"/>
<circle cx="410.3" cy="226.9" r="1.5" fill="#3c049b"/>
<circle cx="410.9" cy="202.0" r="1.5" fill="#3c049b"/>
<circle cx="411.5" cy="217.3" r="1.5" fill="#3c049b"/>
<circle cx="412.3" cy="226.4" r="1.5" fill="#3c049b"/>
<circle cx="413.2" cy="217.4" r="1.5" fill="#3c049b"/>
<circle cx="413.4" cy="186.9" r="1.5" fill="#3c049b"/>
<circle cx="413.4" cy="213.6" r="1.5" fill="#3c049b"/>
<circle cx="414.2" cy="181.1" r="1.5" fill="#3c049b"/>
<circle cx="414.4" cy="184.7" r="1.5" fill="#3c049b"/>
<circle cx="414.8" cy="234.3" r="1.5" fill="#3c049b"/>
<circle cx="415.4" cy="228.4" r="1.5" fill="#3c049b"/>
<circle cx="415.6" cy="201.8" r="1.5" fill="#3c049b"/>
<circle cx="415.9" cy="209.7" r="1.5" fill="#3c049b"/>
<circle cx="416.3" cy="241.7" r="1.5" fill="#3c049b"/>
<circle cx="416.4" cy="207.4" r="1.5" fill="#3c049b"/>
<circle cx="416.9" cy="211.1" r="1.5" fill="#3c049b"/>
<circle cx="417.4" cy="213.6" r="1.5" fill="#3c049b"/>
<circle cx="417.8" cy="220.6" r="1.5" fill="#3c049b"/>
<circle cx="418.1" cy="179.2" r="1.5" fill="#3c049b"/>
<circle cx="418.1" cy="235.9" r="1.5" fill="#3c049b"/>
<circle cx="418.7" cy="249.7" r="1.5" fill="#3c049b"/>
<circle cx="418.9" cy="226.9" r="1.5" fill="#3c049b"/>
<circle cx="419.0" cy="188.1" r="1.5" fill="#3c049b"/>
<circle cx="419.9" cy="202.0" r="1.5" fill="#3c049b"/>
<circle cx="420.1" cy="255.1" r="1.5" fill="#3c049b"/>
<circle cx="420.3" cy="243.7" r="1.5" fill="#3c049b"/>
<circle cx="420.8" cy="237.9" r="1.5" fill="#3c049b"/>
<circle cx="421.4" cy="196.0" r="1.5" fill="#3c049b"/>
<circle cx="421.5" cy="177.1" r="1.5" fill="#3c049b"/>
<circle cx="421.9" cy="182.6" r="1.5" fill="#3c049b"/>
<circle cx="422.1" cy="251.4" r="1.5" fill="#3c049b"/>
<circle cx="422.1" cy="220.6" r="1.5" fill="#3c049b"/>
<circle cx="422.5" cy="224.5" r="1.5" fill="#3c049b"/>
<circle cx="423.0" cy="172.9" r="1.5" fill="#3c049b"/>
<circle cx="423.1" cy="242.0" r="1.5" fill="#3c049b"/>
<circle cx="423.3" cy="234.4" r="1.5" fill="#3c049b"/>
<circle cx="423.5" cy="192.0" r="1.5" fill="#3c049b"/>
<circle cx="424.3" cy="175.4" r="1.5" fill="#3c049b"/>
<circle cx="424.6" cy="167.3" r="1.5" fill="#3c049b"/>
<circle cx="425.2" cy="233.9" r="1.5" fill="#3c049b"/>
<circle cx="425.3" cy="203.7" r="1.5" fill="#3c049b"/>
<circle cx="425.6" cy="207.3" r="1.5" fill="#3c049b"/>
<circle cx="425.8" cy="214.9" r="1.5" fill="#3c049b"/>
<circle cx="425.8" cy="245.7" r="1.5" fill="#3c049b"/>
<circle cx="425.8" cy="196.1" r="1.5" fill="#3c049b"/>
<circle cx="426.3" cy="232.1" r="1.5" fill="#3c049b"/>
<circle cx="426.4" cy="175.0" r="1.5" fill="#3c049b"/>
<circle cx="426.7" cy="209.6" r="1.5" fill="#3c049b"/>
<circle cx="427.3" cy="237.8" r="1.5" fill="#3c049b"/>
<circle cx="427.5" cy="242.2" r="1.5" fill="#3c049b"/>
<circle cx="427.8" cy="207.4" r="1.5" fill="#3c049b"/>
<circle cx="427.8" cy="192.6" r="1.5" fill="#3c049b"/>
<circle cx="428.0" cy="230.6" r="1.5" fill="#3c049b"/>
<circle cx="428.6" cy="220.6" r="1.5" fill="#3c049b"/>
<circle cx="428.8" cy="236.3" r="1.5" fill="#3c049b"/>
<circle cx="429.0" cy="202.1" r="1.5" fill="#3c049b"/>
<circle cx="429.0" cy="243.6" r="1.5" fill="#3c049b"/>
<circle cx="429.6" cy="184.5" r="1.5" fill="#3c049b"/>
<circle cx="429.7" cy="192.2" r="1.5" fill="#3c049b"/>
<circle cx="429.9" cy="226.2" r="1.5" fill="#3c049b"/>
<circle cx="430.0" cy="237.8" r="1.5" fill="#3c049b"/>
<circle cx="430.1" cy="234.4" r="1.5" fill="#3c049b"/>
<circle cx="430.3" cy="199.6" r="1.5" fill="#3c049b"/>
<circle cx="430.6" cy="213.5" r="1.5" fill="#3c049b"/>
<circle cx="430.9" cy="171.7" r="1.5" fill="#3c049b"/>
<circle cx="431.0" cy="190.1" r="1.5" fill="#3c049b"/>
<circle cx="431.4" cy="232.2" r="1.5" fill="#3c049b"/>
<circle cx="431.8" cy="226.9" r="1.5" fill="#3c049b"/>
<circle cx="431.8" cy="165.6" r="1.5" fill="#3c049b"/>
<circle cx="432.1" cy="234.1" r="1.5" fill="#3c049b"/>
<circle cx="432.1" cy="192.1" r="1.5" fill="#3c049b"/>
<circle cx="433.0" cy="232.2" r="1.5" fill="#3c049b"/>
<circle cx="433.0" cy="239.9" r="1.5" fill="#3c049b"/>
<circle cx="433.0" cy="193.9" r="1.5" fill="#3c049b"/>
<circle cx="433.1" cy="201.9" r="1.5" fill="#3c049b"/>
<circle cx="434.2" cy="234.4" r="1.5" fill="#3c049b"/>
<circle cx="434.3" cy="241.9" r="1.5" fill="#3c049b"/>
<circle cx="435.1" cy="217.1" r="1.5" fill="#3c049b"/>
<circle cx="435.2" cy="205.4" r="1.5" fill="#3c049b"/>
<circle cx="435.3" cy="239.6" r="1.5" fill="#3c049b"/>
<circle cx="435.3" cy="178.6" r="1.5" fill="#3c049b"/>
<circle cx="435.4" cy="209.1" r="1.5" fill="#3c049b"/>
<circle cx="435.5" cy="190.2" r="1.5" fill="#3c049b"/>
<circle cx="435.5" cy="228.3" r="1.5" fill="#3c049b"/>
<circle cx="435.5" cy="171.1" r="1.5" fill="#3c049b"/>
<circle cx="435.5" cy="186.5" r="1.5" fill="#3c049b"/>
<circle cx="435.7" cy="236.4" r="1.5" fill="#3c049b"/>
<circle cx="436.2" cy="203.5" r="1.5" fill="#3c049b"/>
<circle cx="436.2" cy="192.2" r="1.5" fill="#3c049b"/>
<circle cx="436.3" cy="226.8" r="1.5" fill="#3c049b"/>
<circle cx="436.4" cy="200.0" r="1.5" fill="#3c049b"/>
<circle cx="436.5" cy="196.5" r="1.5" fill="#3c049b"/>
<circle cx="436.5" cy="222.6" r="1.5" fill="#3c049b"/>
<circle cx="436.8" cy="211.6" r="1.5" fill="#3c049b"/>
<circle cx="437.4" cy="236.1" r="1.5" fill="#3c049b"/>
<circle cx="437.8" cy="224.3" r="1.5" fill="#3c049b"/>
<circle cx="438.6" cy="184.6" r="1.5" fill="#3c049b"/>
<circle cx="438.8" cy="211.2" r="1.5" fill="#3c049b"/>
<circle cx="439.0" cy="192.2" r="1.5" fill="#3c049b"/>
<circle cx="439.6" cy="236.3" r="1.5" fill="#3c049b"/>
<circle cx="440.0" cy="171.6" r="1.5" fill="#3c049b"/>
<circle cx="440.0" cy="194.3" r="1.5" fill="#3c049b"/>
<circle cx="440.6" cy="177.1" r="1.5" fill="#3c049b"/>
<circle cx="440.7" cy="207.2" r="1.5" fill="#3c049b"/>
<circle cx="440.8" cy="253.3" r="1.5" fill="#3c049b"/>
<circle cx="441.2" cy="237.8" r="1.5" fill="#3c049b"/>
<circle cx="441.6" cy="171.0" r="1.5" fill="#3c049b"/>
<circle cx="441.9" cy="167.8" r="1.5" fill="#3c049b"/>
<circle cx="442.2" cy="209.6" r="1.5" fill="#3c049b"/>
<circle cx="443.2" cy="196.4" r="1.5" fill="#3c049b"/>
<circle cx="443.2" cy="226.5" r="1.5" fill="#3c049b"/>
<circle cx="443.3" cy="192.5" r="1.5" fill="#3c049b"/>
<circle cx="443.3" cy="203.3" r="1.5" fill="#3c049b"/>
<circle cx="443.4" cy="181.2" r="1.5" fill="#3c049b"/>
<circle cx="443.9" cy="209.2" r="1.5" fill="#3c049b"/>
<circle cx="444.1" cy="225.0" r="1.5" fill="#3c049b"/>
<circle cx="444.1" cy="205.6" r="1.5" fill="#3c049b"/>
<circle cx="444.3" cy="240.2" r="1.5" fill="#3c049b"/>
<circle cx="445.1" cy="230.6" r="1.5" fill="#3c049b"/>
<circle cx="445.2" cy="196.0" r="1.5" fill="#3c049b"/>
<circle cx="445.3" cy="188.8" r="1.5" fill="#3c049b"/>
<circle cx="445.6" cy="173.2" r="1.5" fill="#3c049b"/>
<circle cx="446.1" cy="190.3" r="1.5" fill="#3c049b"/>
<circle cx="446.5" cy="197.9" r="1.5" fill="#3c049b"/>
<circle cx="446.7" cy="171.7" r="1.5" fill="#3c049b"/>
<circle cx="447.1" cy="199.5" r="1.5" fill="#3c049b"/>
<circle cx="447.3" cy="184.5" r="1.5" fill="#3c049b"/>
<circle cx="447.3" cy="196.3" r="1.5" fill="#3c049b"/>
<circle cx="447.4" cy="169.3" r="1.5" fill="#3c049b"/>
<circle cx="447.6" cy="211.0" r="1.5" fill="#3c049b"/>
<circle cx="448.3" cy="228.3" r="1.5" fill="#3c049b"/>
<circle cx="448.4" cy="217.0" r="1.5" fill="#3c049b"/>
<circle cx="448.6" cy="178.8" r="1.5" fill="#3c049b"/>
<circle cx="448.9" cy="209.2" r="1.5" fill="#3c049b"/>
<circle cx="450.7" cy="228.6" r="1.5" fill="#3c049b"/>
<circle cx="450.7" cy="209.6" r="1.5" fill="#3c049b"/>
<circle cx="451.0" cy="224.3" r="1.5" fill="#3c049b"/>
<circle cx="451.5" cy="215.0" r="1.5" fill="#3c049b"/>
<circle cx="451.9" cy="211.3" r="1.5" fill="#3c049b"/>
<circle cx="452.0" cy="169.2" r="1.5" fill="#3c049b"/>
<circle cx="453.0" cy="190.5" r="1.5" fill="#3c049b"/>
<circle cx="454.2" cy="218.9" r="1.5" fill="#3c049b"/>
<circle cx="454.5" cy="177.1" r="1.5" fill="#3c049b"/>
<circle cx="455.1" cy="225.0" r="1.5" fill="#3c049b"/>
<circle cx="455.5" cy="175.0" r="1.5" fill="#3c049b"/>
<circle cx="456.2" cy="215.0" r="1.5" fill="#3c049b"/>
<circle cx="456.2" cy="177.4" r="1.5" fill="#3c049b"/>
<circle cx="456.5" cy="173.3" r="1.5" fill="#3c049b"/>
<circle cx="457.1" cy="217.4" r="1.5" fill="#3c049b"/>
<circle cx="457.1" cy="228.4" r="1.5" fill="#3c049b"/>
<circle cx="457.4" cy="225.1" r="1.5" fill="#3c049b"/>
<circle cx="459.6" cy="221.0" r="1.5" fill="#3c049b"/>
<circle cx="461.6" cy="224.6" r="1.5" fill="#3c049b"/>
<circle cx="463.0" cy="222.4" r="1.5" fill="#3c049b"/>
<circle cx="464.4" cy="213.3" r="1.5" fill="#3c049b"/>
<circle cx="404.9" cy="221.0" r="1.5" fill="#5003a1"/>
<circle cx="406.7" cy="209.6" r="1.5" fill="#5003a1"/>
<circle cx="407.0" cy="224.9" r="1.5" fill="#5003a1"/>
<circle cx="407.1" cy="220.9" r="1.5" fill="#5003a1"/>
<circle cx="409.0" cy="224.9" r="1.5" fill="#5003a1"/>
<circle cx="410.0" cy="207.9" r="1.5" fill="#5003a1"/>
<circle cx="410.1" cy="214.8" r="1.5" fill="#5003a1"/>
<circle cx="411.3" cy="224.7" r="1.5" fill="#5003a1"/>
<circle cx="412.4" cy="211.6" r="1.5" fill="#5003a1"/>
<circle cx="413.5" cy="228.2" r="1.5" fill="#5003a1"/>
<circle cx="414.4" cy="211.0" r="1.5" fill="#5003a1"/>
<circle cx="414.7" cy="226.2" r="1.5" fill="#5003a1"/>
<circle cx="415.5" cy="225.0" r="1.5" fill="#5003a1"/>
<circle cx="416.7" cy="230.2" r="1.5" fill="#5003a1"/>
<circle cx="418.6" cy="222.7" r="1.5" fill="#5003a1"/>
<circle cx="419.1" cy="173.3" r="1.5" fill="#5003a1"/>
<circle cx="420.1" cy="228.7" r="1.5" fill="#5003a1"/>
<circle cx="420.3" cy="209.6" r="1.5" fill="#5003a1"/>
<circle cx="422.5" cy="236.1" r="1.5" fill="#5003a1"/>
<circle cx="423.0" cy="199.6" r="1.5" fill="#5003a1"/>
<circle cx="423.0" cy="230.2" r="1.5" fill="#5003a1"/>
<circle cx="423.1" cy="196.1" r="1.5" fill="#5003a1"/>
<circle cx="423.7" cy="184.3" r="1.5" fill="#5003a1"/>
<circle cx="424.1" cy="186.4" r="1.5" fill="#5003a1"/>
<circle cx="424.3" cy="225.0" r="1.5" fill="#5003a1"/>
<circle cx="424.7" cy="178.8" r="1.5" fill="#5003a1"/>
<circle cx="425.3" cy="173.2" r="1.5" fill="#5003a1"/>
<circle cx="425.5" cy="184.9" r="1.5" fill="#5003a1"/>
<circle cx="425.6" cy="211.1" r="1.5" fill="#5003a1"/>
<circle cx="425.7" cy="192.2" r="1.5" fill="#5003a1"/>
<circle cx="426.2" cy="228.4" r="1.5" fill="#5003a1"/>
<circle cx="426.4" cy="224.6" r="1.5" fill="#5003a1"/>
<circle cx="426.5" cy="205.9" r="1.5" fill="#5003a1"/>
<circle cx="426.8" cy="190.3" r="1.5" fill="#5003a1"/>
<circle cx="426.8" cy="202.0" r="1.5" fill="#5003a1"/>
<circle cx="426.9" cy="178.6" r="1.5" fill="#5003a1"/>
<circle cx="427.4" cy="181.2" r="1.5" fill="#5003a1"/>
<circle cx="427.6" cy="199.7" r="1.5" fill="#5003a1"/>
<circle cx="427.7" cy="195.8" r="1.5" fill="#5003a1"/>
<circle cx="428.4" cy="174.9" r="1.5" fill="#5003a1"/>
<circle cx="428.7" cy="224.9" r="1.5" fill="#5003a1"/>
<circle cx="428.8" cy="232.4" r="1.5" fill="#5003a1"/>
<circle cx="428.8" cy="179.3" r="1.5" fill="#5003a1"/>
<circle cx="428.9" cy="213.5" r="1.5" fill="#5003a1"/>
<circle cx="429.6" cy="177.1" r="1.5" fill="#5003a1"/>
<circle cx="429.7" cy="203.4" r="1.5" fill="#5003a1"/>
<circle cx="429.8" cy="219.1" r="1.5" fill="#5003a1"/>
<circle cx="430.2" cy="180.7" r="1.5" fill="#5003a1"/>
<circle cx="430.6" cy="167.5" r="1.5" fill="#5003a1"/>
<circle cx="430.7" cy="228.3" r="1.5" fill="#5003a1"/>
<circle cx="430.9" cy="224.4" r="1.5" fill="#5003a1"/>
<circle cx="431.0" cy="194.3" r="1.5" fill="#5003a1"/>
<circle cx="431.0" cy="205.6" r="1.5" fill="#5003a1"/>
<circle cx="431.4" cy="175.4" r="1.5" fill="#5003a1"/>
<circle cx="432.0" cy="222.6" r="1.5" fill="#5003a1"/>
<circle cx="432.4" cy="207.5" r="1.5" fill="#5003a1"/>
<circle cx="432.4" cy="184.9" r="1.5" fill="#5003a1"/>
<circle cx="432.8" cy="175.5" r="1.5" fill="#5003a1"/>
<circle cx="432.9" cy="209.4" r="1.5" fill="#5003a1"/>
<circle cx="433.3" cy="197.9" r="1.5" fill="#5003a1"/>
<circle cx="434.0" cy="199.9" r="1.5" fill="#5003a1"/>
<circle cx="434.1" cy="176.8" r="1.5" fill="#5003a1"/>
<circle cx="434.4" cy="188.5" r="1.5" fill="#5003a1"/>
<circle cx="435.2" cy="232.5" r="1.5" fill="#5003a1"/>
<circle cx="435.4" cy="221.1" r="1.5" fill="#5003a1"/>
<circle cx="436.6" cy="233.9" r="1.5" fill="#5003a1"/>
<circle cx="436.7" cy="207.8" r="1.5" fill="#5003a1"/>
<circle cx="437.7" cy="228.7" r="1.5" fill="#5003a1"/>
<circle cx="437.8" cy="201.8" r="1.5" fill="#5003a1"/>
<circle cx="438.7" cy="219.3" r="1.5" fill="#5003a1"/>
<circle cx="438.9" cy="188.4" r="1.5" fill="#5003a1"/>
<circle cx="439.0" cy="230.3" r="1.5" fill="#5003a1"/>
<circle cx="439.5" cy="224.9" r="1.5" fill="#5003a1"/>
<circle cx="439.9" cy="232.4" r="1.5" fill="#5003a1"/>
<circle cx="440.1" cy="205.5" r="1.5" fill="#5003a1"/>
<circle cx="440.2" cy="179.0" r="1.5" fill="#5003a1"/>
<circle cx="440.9" cy="173.3" r="1.5" fill="#5003a1"/>
<circle cx="441.2" cy="222.6" r="1.5" fill="#5003a1"/>
<circle cx="441.7" cy="186.6" r="1.5" fill="#5003a1"/>
<circle cx="441.8" cy="190.1" r="1.5" fill="#5003a1"/>
<circle cx="441.9" cy="232.6" r="1.5" fill="#5003a1"/>
<circle cx="442.8" cy="214.9" r="1.5" fill="#5003a1"/>
<circle cx="443.0" cy="211.7" r="1.5" fill="#5003a1"/>
<circle cx="443.3" cy="185.0" r="1.5" fill="#5003a1"/>
<circle cx="443.3" cy="188.2" r="1.5" fill="#5003a1"/>
<circle cx="444.4" cy="232.1" r="1.5" fill="#5003a1"/>
<circle cx="445.1" cy="219.3" r="1.5" fill="#5003a1"/>
<circle cx="445.6" cy="222.6" r="1.5" fill="#5003a1"/>
<circle cx="445.7" cy="176.7" r="1.5" fill="#5003a1"/>
<circle cx="446.2" cy="182.9" r="1.5" fill="#5003a1"/>
<circle cx="447.2" cy="181.2" r="1.5" fill="#5003a1"/>
<circle cx="447.5" cy="176.9" r="1.5" fill="#5003a1"/>
<circle cx="447.6" cy="222.5" r="1.5" fill="#5003a1"/>
<circle cx="447.8" cy="188.3" r="1.5" fill="#5003a1"/>
<circle cx="448.3" cy="221.2" r="1.5" fill="#5003a1"/>
<circle cx="448.7" cy="175.3" r="1.5" fill="#5003a1"/>
<circle cx="449.7" cy="188.3" r="1.5" fill="#5003a1"/>
<circle cx="449.7" cy="185.0" r="1.5" fill="#5003a1"/>
<circle cx="449.9" cy="181.0" r="1.5" fill="#5003a1"/>
<circle cx="450.1" cy="196.3" r="1.5" fill="#5003a1"/>
<circle cx="450.6" cy="179.3" r="1.5" fill="#5003a1"/>
<circle cx="451.1" cy="221.0" r="1.5" fill="#5003a1"/>
<circle cx="451.8" cy="184.9" r="1.5" fill="#5003a1"/>
<circle cx="452.1" cy="226.9" r="1.5" fill="#5003a1"/>
<circle cx="452.8" cy="217.0" r="1.5" fill="#5003a1"/>
<circle cx="454.1" cy="211.6" r="1.5" fill="#5003a1"/>
<circle cx="454.1" cy="222.7" r="1.5" fill="#5003a1"/>
<circle cx="454.4" cy="180.7" r="1.5" fill="#5003a1"/>
<circle cx="454.4" cy="172.9" r="1.5" fill="#5003a1"/>
<circle cx="456.4" cy="180.8" r="1.5" fill="#5003a1"/>
<circle cx="458.4" cy="177.3" r="1.5" fill="#5003a1"/>
<circle cx="410.4" cy="219.2" r="1.5" fill="#6301a6"/>
<circle cx="411.1" cy="213.4" r="1.5" fill="#6301a6"/>
<circle cx="411.1" cy="228.8" r="1.5" fill="#6301a6"/>
<circle cx="412.0" cy="218.7" r="1.5" fill="#6301a6"/>
<circle cx="412.2" cy="215.1" r="1.5" fill="#6301a6"/>
<circle cx="414.3" cy="222.5" r="1.5" fill="#6301a6"/>
<circle cx="416.6" cy="218.7" r="1.5" fill="#6301a6"/>
<circle cx="417.4" cy="209.2" r="1.5" fill="#6301a6"/>
<circle cx="417.5" cy="228.5" r="1.5" fill="#6301a6"/>
<circle cx="419.0" cy="230.1" r="1.5" fill="#6301a6"/>
<circle cx="419.8" cy="224.5" r="1.5" fill="#6301a6"/>
<circle cx="420.1" cy="178.6" r="1.5" fill="#6301a6"/>
<circle cx="421.5" cy="218.8" r="1.5" fill="#6301a6"/>
<circle cx="421.5" cy="222.6" r="1.5" fill="#6301a6"/>
<circle cx="421.9" cy="213.1" r="1.5" fill="#6301a6"/>
<circle cx="422.0" cy="217.4" r="1.5" fill="#6301a6"/>
<circle cx="423.2" cy="215.1" r="1.5" fill="#6301a6"/>
<circle cx="425.3" cy="177.1" r="1.5" fill="#6301a6"/>
<circle cx="425.7" cy="218.7" r="1.5" fill="#6301a6"/>
<circle cx="426.6" cy="220.6" r="1.5" fill="#6301a6"/>
<circle cx="426.9" cy="194.1" r="1.5" fill="#6301a6"/>
<circle cx="427.5" cy="219.0" r="1.5" fill="#6301a6"/>
<circle cx="427.5" cy="226.4" r="1.5" fill="#6301a6"/>
<circle cx="427.7" cy="215.3" r="1.5" fill="#6301a6"/>
<circle cx="427.8" cy="203.7" r="1.5" fill="#6301a6"/>
<circle cx="428.0" cy="211.4" r="1.5" fill="#6301a6"/>
<circle cx="428.0" cy="177.0" r="1.5" fill="#6301a6"/>
<circle cx="428.0" cy="169.3" r="1.5" fill="#6301a6"/>
<circle cx="428.6" cy="171.2" r="1.5" fill="#6301a6"/>
<circle cx="429.1" cy="228.3" r="1.5" fill="#6301a6"/>
<circle cx="430.6" cy="201.8" r="1.5" fill="#6301a6"/>
<circle cx="431.3" cy="178.7" r="1.5" fill="#6301a6"/>
<circle cx="431.4" cy="183.1" r="1.5" fill="#6301a6"/>
<circle cx="431.8" cy="214.9" r="1.5" fill="#6301a6"/>
<circle cx="431.9" cy="169.1" r="1.5" fill="#6301a6"/>
<circle cx="432.1" cy="177.3" r="1.5" fill="#6301a6"/>
<circle cx="433.1" cy="228.7" r="1.5" fill="#6301a6"/>
<circle cx="433.2" cy="182.9" r="1.5" fill="#6301a6"/>
<circle cx="434.1" cy="226.9" r="1.5" fill="#6301a6"/>
<circle cx="435.6" cy="224.4" r="1.5" fill="#6301a6"/>
<circle cx="436.5" cy="169.6" r="1.5" fill="#6301a6"/>
<circle cx="436.6" cy="173.4" r="1.5" fill="#6301a6"/>
<circle cx="436.7" cy="184.4" r="1.5" fill="#6301a6"/>
<circle cx="437.5" cy="178.9" r="1.5" fill="#6301a6"/>
<circle cx="437.8" cy="175.0" r="1.5" fill="#6301a6"/>
<circle cx="439.7" cy="175.4" r="1.5" fill="#6301a6"/>
<circle cx="439.8" cy="213.5" r="1.5" fill="#6301a6"/>
<circle cx="439.9" cy="209.2" r="1.5" fill="#6301a6"/>
<circle cx="440.2" cy="190.6" r="1.5" fill="#6301a6"/>
<circle cx="440.2" cy="239.8" r="1.5" fill="#6301a6"/>
<circle cx="440.6" cy="226.3" r="1.5" fill="#6301a6"/>
<circle cx="441.7" cy="221.1" r="1.5" fill="#6301a6"/>
<circle cx="442.2" cy="183.0" r="1.5" fill="#6301a6"/>
<circle cx="442.2" cy="205.5" r="1.5" fill="#6301a6"/>
<circle cx="442.3" cy="198.0" r="1.5" fill="#6301a6"/>
<circle cx="443.3" cy="219.3" r="1.5" fill="#6301a6"/>
<circle cx="443.4" cy="222.8" r="1.5" fill="#6301a6"/>
<circle cx="444.2" cy="217.4" r="1.5" fill="#6301a6"/>
<circle cx="444.9" cy="227.0" r="1.5" fill="#6301a6"/>
<circle cx="445.5" cy="215.5" r="1.5" fill="#6301a6"/>
<circle cx="446.0" cy="228.6" r="1.5" fill="#6301a6"/>
<circle cx="446.4" cy="213.0" r="1.5" fill="#6301a6"/>
<circle cx="446.6" cy="186.6" r="1.5" fill="#6301a6"/>
<circle cx="446.7" cy="174.8" r="1.5" fill="#6301a6"/>
<circle cx="449.8" cy="219.1" r="1.5" fill="#6301a6"/>
<circle cx="450.5" cy="212.9" r="1.5" fill="#6301a6"/>
<circle cx="450.7" cy="216.9" r="1.5" fill="#6301a6"/>
<circle cx="452.9" cy="220.8" r="1.5" fill="#6301a6"/>
<circle cx="453.1" cy="213.3" r="1.5" fill="#6301a6"/>
<circle cx="453.3" cy="224.7" r="1.5" fill="#6301a6"/>
<circle cx="456.1" cy="222.7" r="1.5" fill="#6301a6"/>
<circle cx="456.4" cy="218.7" r="1.5" fill="#6301a6"/>
<circle cx="458.2" cy="219.2" r="1.5" fill="#6301a6"/>
<circle cx="460.5" cy="219.2" r="1.5" fill="#6301a6"/>
<circle cx="404.7" cy="217.0" r="1.5" fill="#7404a7"/>
<circle cx="414.7" cy="218.9" r="1.5" fill="#7404a7"/>
<circle cx="415.5" cy="217.0" r="1.5" fill="#7404a7"/>
<circle cx="415.9" cy="220.5" r="1.5" fill="#7404a7"/>
<circle cx="416.8" cy="226.8" r="1.5" fill="#7404a7"/>
<circle cx="417.0" cy="215.5" r="1.5" fill="#7404a7"/>
<circle cx="418.8" cy="211.3" r="1.5" fill="#7404a7"/>
<circle cx="419.0" cy="215.5" r="1.5" fill="#7404a7"/>
<circle cx="421.2" cy="215.5" r="1.5" fill="#7404a7"/>
<circle cx="421.3" cy="226.6" r="1.5" fill="#7404a7"/>
<circle cx="422.0" cy="179.1" r="1.5" fill="#7404a7"/>
<circle cx="422.2" cy="228.6" r="1.5" fill="#7404a7"/>
<circle cx="422.3" cy="175.1" r="1.5" fill="#7404a7"/>
<circle cx="423.1" cy="222.7" r="1.5" fill="#7404a7"/>
<circle cx="423.2" cy="226.6" r="1.5" fill="#7404a7"/>
<circle cx="423.3" cy="211.1" r="1.5" fill="#7404a7"/>
<circle cx="424.7" cy="209.3" r="1.5" fill="#7404a7"/>
<circle cx="425.3" cy="180.9" r="1.5" fill="#7404a7"/>
<circle cx="425.5" cy="222.9" r="1.5" fill="#7404a7"/>
<circle cx="426.2" cy="182.4" r="1.5" fill="#7404a7"/>
<circle cx="426.3" cy="186.8" r="1.5" fill="#7404a7"/>
<circle cx="427.8" cy="184.9" r="1.5" fill="#7404a7"/>
<circle cx="428.6" cy="190.1" r="1.5" fill="#7404a7"/>
<circle cx="429.6" cy="207.2" r="1.5" fill="#7404a7"/>
<circle cx="431.1" cy="220.5" r="1.5" fill="#7404a7"/>
<circle cx="432.0" cy="172.9" r="1.5" fill="#7404a7"/>
<circle cx="432.1" cy="195.7" r="1.5" fill="#7404a7"/>
<circle cx="433.0" cy="186.9" r="1.5" fill="#7404a7"/>
<circle cx="434.6" cy="211.4" r="1.5" fill="#7404a7"/>
<circle cx="434.6" cy="218.9" r="1.5" fill="#7404a7"/>
<circle cx="434.7" cy="215.4" r="1.5" fill="#7404a7"/>
<circle cx="435.5" cy="182.4" r="1.5" fill="#7404a7"/>
<circle cx="435.6" cy="174.9" r="1.5" fill="#7404a7"/>
<circle cx="436.4" cy="177.3" r="1.5" fill="#7404a7"/>
<circle cx="436.5" cy="218.6" r="1.5" fill="#7404a7"/>
<circle cx="437.4" cy="213.2" r="1.5" fill="#7404a7"/>
<circle cx="437.9" cy="209.6" r="1.5" fill="#7404a7"/>
<circle cx="437.9" cy="171.7" r="1.5" fill="#7404a7"/>
<circle cx="438.7" cy="169.4" r="1.5" fill="#7404a7"/>
<circle cx="438.8" cy="173.6" r="1.5" fill="#7404a7"/>
<circle cx="438.9" cy="180.7" r="1.5" fill="#7404a7"/>
<circle cx="440.2" cy="228.5" r="1.5" fill="#7404a7"/>
<circle cx="441.2" cy="211.3" r="1.5" fill="#7404a7"/>
<circle cx="442.2" cy="213.6" r="1.5" fill="#7404a7"/>
<circle cx="442.3" cy="178.7" r="1.5" fill="#7404a7"/>
<circle cx="442.4" cy="228.5" r="1.5" fill="#7404a7"/>
<circle cx="443.3" cy="177.4" r="1.5" fill="#7404a7"/>
<circle cx="444.0" cy="182.7" r="1.5" fill="#7404a7"/>
<circle cx="444.3" cy="174.9" r="1.5" fill="#7404a7"/>
<circle cx="444.4" cy="186.3" r="1.5" fill="#7404a7"/>
<circle cx="445.0" cy="207.9" r="1.5" fill="#7404a7"/>
<circle cx="447.2" cy="215.2" r="1.5" fill="#7404a7"/>
<circle cx="447.6" cy="219.1" r="1.5" fill="#7404a7"/>
<circle cx="447.6" cy="226.5" r="1.5" fill="#7404a7"/>
<circle cx="448.5" cy="224.9" r="1.5" fill="#7404a7"/>
<circle cx="412.2" cy="223.1" r="1.5" fill="#8509a5"/>
<circle cx="413.6" cy="220.5" r="1.5" fill="#8509a5"/>
<circle cx="416.0" cy="213.4" r="1.5" fill="#8509a5"/>
<circle cx="418.0" cy="224.9" r="1.5" fill="#8509a5"/>
<circle cx="420.0" cy="217.0" r="1.5" fill="#8509a5"/>
<circle cx="422.5" cy="186.8" r="1.5" fill="#8509a5"/>
<circle cx="424.1" cy="220.6" r="1.5" fill="#8509a5"/>
<circle cx="424.4" cy="217.4" r="1.5" fill="#8509a5"/>
<circle cx="428.1" cy="223.0" r="1.5" fill="#8509a5"/>
<circle cx="429.8" cy="230.5" r="1.5" fill="#8509a5"/>
<circle cx="431.2" cy="217.4" r="1.5" fill="#8509a5"/>
<circle cx="431.8" cy="188.3" r="1.5" fill="#8509a5"/>
<circle cx="432.1" cy="230.8" r="1.5" fill="#8509a5"/>
<circle cx="432.8" cy="178.7" r="1.5" fill="#8509a5"/>
<circle cx="433.3" cy="217.3" r="1.5" fill="#8509a5"/>
<circle cx="433.5" cy="212.9" r="1.5" fill="#8509a5"/>
<circle cx="436.3" cy="215.1" r="1.5" fill="#8509a5"/>
<circle cx="436.9" cy="230.7" r="1.5" fill="#8509a5"/>
<circle cx="437.4" cy="190.5" r="1.5" fill="#8509a5"/>
<circle cx="438.6" cy="176.7" r="1.5" fill="#8509a5"/>
<circle cx="439.7" cy="217.4" r="1.5" fill="#8509a5"/>
<circle cx="440.6" cy="184.7" r="1.5" fill="#8509a5"/>
<circle cx="441.1" cy="215.1" r="1.5" fill="#8509a5"/>
<circle cx="441.8" cy="217.0" r="1.5" fill="#8509a5"/>
<circle cx="441.8" cy="174.9" r="1.5" fill="#8509a5"/>
<circle cx="443.2" cy="230.2" r="1.5" fill="#8509a5"/>
<circle cx="444.1" cy="212.9" r="1.5" fill="#8509a5"/>
<circle cx="444.2" cy="220.6" r="1.5" fill="#8509a5"/>
<circle cx="445.5" cy="192.3" r="1.5" fill="#8509a5"/>
<circle cx="446.3" cy="220.7" r="1.5" fill="#8509a5"/>
<circle cx="417.8" cy="216.9" r="1.5" fill="#9512a0"/>
<circle cx="418.6" cy="219.2" r="1.5" fill="#9512a0"/>
<circle cx="424.1" cy="182.4" r="1.5" fill="#9512a0"/>
<circle cx="425.1" cy="226.9" r="1.5" fill="#9512a0"/>
<circle cx="427.0" cy="213.5" r="1.5" fill="#9512a0"/>
<circle cx="428.5" cy="217.3" r="1.5" fill="#9512a0"/>
<circle cx="430.1" cy="211.1" r="1.5" fill="#9512a0"/>
<circle cx="433.1" cy="224.6" r="1.5" fill="#9512a0"/>
<circle cx="439.8" cy="221.2" r="1.5" fill="#9512a0"/>
<circle cx="440.7" cy="218.9" r="1.5" fill="#9512a0"/>
<circle cx="441.7" cy="224.7" r="1.5" fill="#9512a0"/>
<circle cx="448.6" cy="213.3" r="1.5" fill="#9512a0"/>
<circle cx="449.6" cy="222.6" r="1.5" fill="#9512a0"/>
<circle cx="457.1" cy="220.8" r="1.5" fill="#9512a0"/>
<circle cx="421.2" cy="211.0" r="1.5" fill="#a51f97"/>
<circle cx="424.2" cy="212.9" r="1.5" fill="#a51f97"/>
<circle cx="429.9" cy="214.9" r="1.5" fill="#a51f97"/>
<circle cx="431.0" cy="186.6" r="1.5" fill="#a51f97"/>
<circle cx="433.0" cy="221.2" r="1.5" fill="#a51f97"/>
<circle cx="434.6" cy="222.4" r="1.5" fill="#a51f97"/>
<circle cx="436.6" cy="188.1" r="1.5" fill="#a51f97"/>
<circle cx="437.5" cy="220.7" r="1.5" fill="#a51f97"/>
<circle cx="439.6" cy="182.7" r="1.5" fill="#a51f97"/>
<circle cx="450.0" cy="211.6" r="1.5" fill="#a51f97"/>
<circle cx="419.7" cy="220.5" r="1.5" fill="#b32d8e"/>
<circle cx="426.2" cy="217.4" r="1.5" fill="#b32d8e"/>
<circle cx="435.7" cy="213.6" r="1.5" fill="#b32d8e"/>
<circle cx="437.2" cy="186.6" r="1.5" fill="#b32d8e"/>
<circle cx="446.4" cy="216.7" r="1.5" fill="#b32d8e"/>
<circle cx="432.3" cy="218.8" r="1.5" fill="#c03a83"/>
<circle cx="436.3" cy="181.0" r="1.5" fill="#c03a83"/>
<circle cx="440.0" cy="225.0" r="1.5" fill="#c03a83"/>
<circle cx="424.0" cy="214.0" r="1.5" fill="#cc4778"/>
<circle cx="438.5" cy="215.1" r="1.5" fill="#d6546e"/>
<circle cx="429.8" cy="217.5" r="1.5" fill="#e7705a"/>
<circle cx="438.9" cy="216.1" r="1.5" fill="#ef7e4f"/>
<circle cx="441.7" cy="181.6" r="1.5" fill="#ef7e4f"/>
<circle cx="438.9" cy="220.7" r="1.5" fill="#1ee6f5"/>
<defs><linearGradient id="cbg1" x1="0" y1="1" x2="0" y2="0"><stop offset="0.0" stop-color="#35288c"/><stop offset="0.1" stop-color="#4a1a9c"/><stop offset="0.2" stop-color="#6a0ca8"/><stop offset="0.3" stop-color="#8c14a6"/><stop offset="0.4" stop-color="#ae2c94"/><stop offset="0.5" stop-color="#c9497a"/><stop offset="0.6" stop-color="#e06364"/><stop offset="0.7" stop-color="#f0834e"/><stop offset="0.8" stop-color="#f9a53a"/><stop offset="0.9" stop-color="#f9cc2c"/><stop offset="1.0" stop-color="#eef02c"/></linearGradient></defs>
<rect x="499.4" y="155.40" width="6.0" height="110.00" fill="url(#cbg1)" stroke="#6a6a6a" stroke-width="0.5"/>
<line x1="505.40" y1="265.40" x2="508.20" y2="265.40" stroke="#8c8c8c" stroke-width="0.8" />
<text x="510.80" y="267.70" font-size="6.4" text-anchor="start">0</text>
<line x1="505.40" y1="255.40" x2="508.20" y2="255.40" stroke="#8c8c8c" stroke-width="0.8" />
<text x="510.80" y="257.70" font-size="6.4" text-anchor="start">2</text>
<line x1="505.40" y1="245.40" x2="508.20" y2="245.40" stroke="#8c8c8c" stroke-width="0.8" />
<text x="510.80" y="247.70" font-size="6.4" text-anchor="start">4</text>
<line x1="505.40" y1="235.40" x2="508.20" y2="235.40" stroke="#8c8c8c" stroke-width="0.8" />
<text x="510.80" y="237.70" font-size="6.4" text-anchor="start">6</text>
<line x1="505.40" y1="225.40" x2="508.20" y2="225.40" stroke="#8c8c8c" stroke-width="0.8" />
<text x="510.80" y="227.70" font-size="6.4" text-anchor="start">8</text>
<line x1="505.40" y1="215.40" x2="508.20" y2="215.40" stroke="#8c8c8c" stroke-width="0.8" />
<text x="510.80" y="217.70" font-size="6.4" text-anchor="start">10</text>
<line x1="505.40" y1="205.40" x2="508.20" y2="205.40" stroke="#8c8c8c" stroke-width="0.8" />
<text x="510.80" y="207.70" font-size="6.4" text-anchor="start">12</text>
<line x1="505.40" y1="195.40" x2="508.20" y2="195.40" stroke="#8c8c8c" stroke-width="0.8" />
<text x="510.80" y="197.70" font-size="6.4" text-anchor="start">14</text>
<line x1="505.40" y1="185.40" x2="508.20" y2="185.40" stroke="#8c8c8c" stroke-width="0.8" />
<text x="510.80" y="187.70" font-size="6.4" text-anchor="start">16</text>
<line x1="505.40" y1="175.40" x2="508.20" y2="175.40" stroke="#8c8c8c" stroke-width="0.8" />
<text x="510.80" y="177.70" font-size="6.4" text-anchor="start">18</text>
<line x1="505.40" y1="165.40" x2="508.20" y2="165.40" stroke="#8c8c8c" stroke-width="0.8" />
<text x="510.80" y="167.70" font-size="6.4" text-anchor="start">20</text>
<line x1="505.40" y1="155.40" x2="508.20" y2="155.40" stroke="#8c8c8c" stroke-width="0.8" />
<text x="510.80" y="157.70" font-size="6.4" text-anchor="start">22</text>
<text x="496.30" y="209.60" font-size="6.4" text-anchor="middle" transform="rotate(-90 496.30 209.60)" textLength="59.8" lengthAdjust="spacingAndGlyphs">Number of synapses</text>
<rect x="556.00" y="159.40" width="125.60" height="105.70" fill="none" stroke="#8c8c8c" stroke-width="0.85"/>
<line x1="553.10" y1="265.00" x2="556.00" y2="265.00" stroke="#777" stroke-width="1.0" />
<text x="550.00" y="267.55" font-size="6.6" text-anchor="end">0</text>
<line x1="553.10" y1="243.00" x2="556.00" y2="243.00" stroke="#777" stroke-width="1.0" />
<text x="550.00" y="245.55" font-size="6.6" text-anchor="end">100</text>
<line x1="553.10" y1="221.00" x2="556.00" y2="221.00" stroke="#777" stroke-width="1.0" />
<text x="550.00" y="223.55" font-size="6.6" text-anchor="end">200</text>
<line x1="553.10" y1="199.00" x2="556.00" y2="199.00" stroke="#777" stroke-width="1.0" />
<text x="550.00" y="201.55" font-size="6.6" text-anchor="end">300</text>
<line x1="553.10" y1="177.00" x2="556.00" y2="177.00" stroke="#777" stroke-width="1.0" />
<text x="550.00" y="179.55" font-size="6.6" text-anchor="end">400</text>
<line x1="561.60" y1="265.10" x2="561.60" y2="267.80" stroke="#777" stroke-width="1.0" />
<text x="561.60" y="276.40" font-size="6.6" text-anchor="middle">0</text>
<line x1="584.70" y1="265.10" x2="584.70" y2="267.80" stroke="#777" stroke-width="1.0" />
<text x="584.70" y="276.40" font-size="6.6" text-anchor="middle">100</text>
<line x1="607.80" y1="265.10" x2="607.80" y2="267.80" stroke="#777" stroke-width="1.0" />
<text x="607.80" y="276.40" font-size="6.6" text-anchor="middle">200</text>
<line x1="630.90" y1="265.10" x2="630.90" y2="267.80" stroke="#777" stroke-width="1.0" />
<text x="630.90" y="276.40" font-size="6.6" text-anchor="middle">300</text>
<line x1="654.00" y1="265.10" x2="654.00" y2="267.80" stroke="#777" stroke-width="1.0" />
<text x="654.00" y="276.40" font-size="6.6" text-anchor="middle">400</text>
<line x1="677.10" y1="265.10" x2="677.10" y2="267.80" stroke="#777" stroke-width="1.0" />
<text x="677.10" y="276.40" font-size="6.6" text-anchor="middle">500</text>
<text x="618.75" y="287.50" font-size="6.4" text-anchor="middle" textLength="80.0" lengthAdjust="spacingAndGlyphs">Intersynapse distance (µm)</text>
<text x="532.40" y="211.40" font-size="6.4" text-anchor="middle" transform="rotate(-90 532.40 211.40)" textLength="31.3" lengthAdjust="spacingAndGlyphs">Frequency</text>
<path d="M561.60,265.00 L561.60,164.24 L563.91,164.24 L563.91,238.38 L566.22,238.38 L566.22,232.00 L568.53,232.00 L568.53,228.99 L570.84,228.99 L570.84,225.18 L573.15,225.18 L573.15,226.98 L575.46,226.98 L575.46,228.48 L577.77,228.48 L577.77,234.93 L580.08,234.93 L580.08,237.94 L582.39,237.94 L582.39,240.40 L584.70,240.40 L584.70,243.37 L587.01,243.37 L587.01,246.34 L589.32,246.34 L589.32,247.36 L591.63,247.36 L591.63,249.82 L593.94,249.82 L593.94,249.34 L596.25,249.34 L596.25,248.83 L598.56,248.83 L598.56,255.30 L600.87,255.30 L600.87,256.77 L603.18,256.77 L603.18,256.29 L605.49,256.29 L605.49,257.28 L607.80,257.28 L607.80,259.28 L610.11,259.28 L610.11,259.76 L612.42,259.76 L612.42,261.26 L614.73,261.26 L614.73,261.70 L617.04,261.70 L617.04,262.80 L619.35,262.80 L619.35,262.80 L621.66,262.80 L621.66,262.80 L623.97,262.80 L623.97,263.24 L626.28,263.24 L626.28,263.68 L628.59,263.68 L628.59,263.90 L630.90,263.90 L630.90,263.90 L633.21,263.90 L633.21,263.90 L635.52,263.90 L635.52,264.12 L637.83,264.12 L637.83,264.12 L640.14,264.12 L640.14,264.34 L642.45,264.34 L642.45,264.34 L644.76,264.34 L644.76,264.34 L647.07,264.34 L647.07,264.34 L649.38,264.34 L649.38,264.34 L651.69,264.34 L651.69,264.34 L654.00,264.34 L654.00,264.56 L656.31,264.56 L656.31,264.56 L658.62,264.56 L658.62,264.56 L660.93,264.56 L660.93,264.56 L663.24,264.56 L663.24,264.56 L665.55,264.56 L665.55,264.56 L667.86,264.56 L667.86,264.78 L670.17,264.78 L670.17,264.78 L672.48,264.78 L672.48,264.78 L674.79,264.78 L674.79,265.00 L677.10,265.00 L677.10,265.00" fill="none" stroke="#d3283f" stroke-width="0.95" stroke-linejoin="miter"/>
<path d="M561.60,265.00 L561.60,189.32 L563.91,189.32 L563.91,214.40 L566.22,214.40 L566.22,211.98 L568.53,211.98 L568.53,206.04 L570.84,206.04 L570.84,201.75 L573.15,201.75 L573.15,201.42 L575.46,201.42 L575.46,207.36 L577.77,207.36 L577.77,204.72 L580.08,204.72 L580.08,209.89 L582.39,209.89 L582.39,213.87 L584.70,213.87 L584.70,202.43 L587.01,202.43 L587.01,225.29 L589.32,225.29 L589.32,235.21 L591.63,235.21 L591.63,242.87 L593.94,242.87 L593.94,249.34 L596.25,249.34 L596.25,257.30 L598.56,257.30 L598.56,258.77 L600.87,258.77 L600.87,259.28 L603.18,259.28 L603.18,259.72 L605.49,259.72 L605.49,260.25 L607.80,260.25 L607.80,261.26 L610.11,261.26 L610.11,261.70 L612.42,261.70 L612.42,261.92 L614.73,261.92 L614.73,262.14 L617.04,262.14 L617.04,262.36 L619.35,262.36 L619.35,262.36 L621.66,262.36 L621.66,262.36 L623.97,262.36 L623.97,262.58 L626.28,262.58 L626.28,262.80 L628.59,262.80 L628.59,262.80 L630.90,262.80 L630.90,259.28 L633.21,259.28 L633.21,258.27 L635.52,258.27 L635.52,257.30 L637.83,257.30 L637.83,262.25 L640.14,262.25 L640.14,257.78 L642.45,257.78 L642.45,251.32 L644.76,251.32 L644.76,251.32 L647.07,251.32 L647.07,247.36 L649.38,247.36 L649.38,253.30 L651.69,253.30 L651.69,253.80 L654.00,253.80 L654.00,255.32 L656.31,255.32 L656.31,257.30 L658.62,257.30 L658.62,255.32 L660.93,255.32 L660.93,257.30 L663.24,257.30 L663.24,260.25 L665.55,260.25 L665.55,262.73 L667.86,262.73 L667.86,265.00 L670.17,265.00 L670.17,265.00 L672.48,265.00 L672.48,265.00 L674.79,265.00 L674.79,265.00 L677.10,265.00 L677.10,265.00" fill="none" stroke="#f3d41c" stroke-width="0.95" stroke-linejoin="miter"/>
<path d="M561.60,265.00 L561.60,202.15 L563.91,202.15 L563.91,243.37 L566.22,243.37 L566.22,239.92 L568.53,239.92 L568.53,237.94 L570.84,237.94 L570.84,236.93 L573.15,236.93 L573.15,235.96 L575.46,235.96 L575.46,233.45 L577.77,233.45 L577.77,234.42 L580.08,234.42 L580.08,231.45 L582.39,231.45 L582.39,232.95 L584.70,232.95 L584.70,236.42 L587.01,236.42 L587.01,240.40 L589.32,240.40 L589.32,243.37 L591.63,243.37 L591.63,246.34 L593.94,246.34 L593.94,250.83 L596.25,250.83 L596.25,253.80 L598.56,253.80 L598.56,256.77 L600.87,256.77 L600.87,258.27 L603.18,258.27 L603.18,259.28 L605.49,259.28 L605.49,259.76 L607.80,259.76 L607.80,260.38 L610.11,260.38 L610.11,261.04 L612.42,261.04 L612.42,261.70 L614.73,261.70 L614.73,262.36 L617.04,262.36 L617.04,262.80 L619.35,262.80 L619.35,262.80 L621.66,262.80 L621.66,262.36 L623.97,262.36 L623.97,260.25 L626.28,260.25 L626.28,261.92 L628.59,261.92 L628.59,262.73 L630.90,262.73 L630.90,262.25 L633.21,262.25 L633.21,261.74 L635.52,261.74 L635.52,259.76 L637.83,259.76 L637.83,261.26 L640.14,261.26 L640.14,259.28 L642.45,259.28 L642.45,262.25 L644.76,262.25 L644.76,259.28 L647.07,259.28 L647.07,256.77 L649.38,256.77 L649.38,255.78 L651.69,255.78 L651.69,258.27 L654.00,258.27 L654.00,260.25 L656.31,260.25 L656.31,262.25 L658.62,262.25 L658.62,260.25 L660.93,260.25 L660.93,263.24 L663.24,263.24 L663.24,264.34 L665.55,264.34 L665.55,264.56 L667.86,264.56 L667.86,264.56 L670.17,264.56 L670.17,264.78 L672.48,264.78 L672.48,264.78 L674.79,264.78 L674.79,265.00 L677.10,265.00 L677.10,265.00" fill="none" stroke="#4fd3e5" stroke-width="0.95" stroke-linejoin="miter"/>
<path d="M561.60,265.00 L561.60,224.30 L563.91,224.30 L563.91,238.91 L566.22,238.91 L566.22,237.94 L568.53,237.94 L568.53,240.40 L570.84,240.40 L570.84,241.39 L573.15,241.39 L573.15,237.94 L575.46,237.94 L575.46,248.83 L577.77,248.83 L577.77,248.83 L580.08,248.83 L580.08,253.80 L582.39,253.80 L582.39,255.30 L584.70,255.30 L584.70,257.30 L587.01,257.30 L587.01,257.78 L589.32,257.78 L589.32,259.28 L591.63,259.28 L591.63,260.25 L593.94,260.25 L593.94,261.04 L596.25,261.04 L596.25,261.70 L598.56,261.70 L598.56,262.36 L600.87,262.36 L600.87,262.80 L603.18,262.80 L603.18,262.80 L605.49,262.80 L605.49,263.24 L607.80,263.24 L607.80,263.24 L610.11,263.24 L610.11,263.24 L612.42,263.24 L612.42,263.24 L614.73,263.24 L614.73,263.24 L617.04,263.24 L617.04,263.46 L619.35,263.46 L619.35,263.46 L621.66,263.46 L621.66,263.68 L623.97,263.68 L623.97,263.68 L626.28,263.68 L626.28,263.68 L628.59,263.68 L628.59,263.68 L630.90,263.68 L630.90,263.90 L633.21,263.90 L633.21,263.90 L635.52,263.90 L635.52,263.90 L637.83,263.90 L637.83,263.90 L640.14,263.90 L640.14,263.90 L642.45,263.90 L642.45,263.90 L644.76,263.90 L644.76,264.12 L647.07,264.12 L647.07,264.12 L649.38,264.12 L649.38,264.12 L651.69,264.12 L651.69,264.12 L654.00,264.12 L654.00,264.34 L656.31,264.34 L656.31,264.34 L658.62,264.34 L658.62,264.34 L660.93,264.34 L660.93,264.34 L663.24,264.34 L663.24,264.56 L665.55,264.56 L665.55,264.56 L667.86,264.56 L667.86,264.56 L670.17,264.56 L670.17,264.78 L672.48,264.78 L672.48,264.78 L674.79,264.78 L674.79,265.00 L677.10,265.00 L677.10,265.00" fill="none" stroke="#f29ccf" stroke-width="0.95" stroke-linejoin="miter"/>
<path d="M561.60,265.00 L561.60,231.16 L563.91,231.16 L563.91,255.30 L566.22,255.30 L566.22,254.31 L568.53,254.31 L568.53,253.80 L570.84,253.80 L570.84,252.31 L573.15,252.31 L573.15,258.27 L575.46,258.27 L575.46,254.31 L577.77,254.31 L577.77,255.78 L580.08,255.78 L580.08,256.77 L582.39,256.77 L582.39,257.28 L584.70,257.28 L584.70,258.27 L587.01,258.27 L587.01,259.28 L589.32,259.28 L589.32,260.25 L591.63,260.25 L591.63,259.28 L593.94,259.28 L593.94,263.24 L596.25,263.24 L596.25,262.25 L598.56,262.25 L598.56,261.26 L600.87,261.26 L600.87,261.26 L603.18,261.26 L603.18,261.26 L605.49,261.26 L605.49,261.26 L607.80,261.26 L607.80,263.24 L610.11,263.24 L610.11,262.80 L612.42,262.80 L612.42,262.80 L614.73,262.80 L614.73,262.80 L617.04,262.80 L617.04,262.80 L619.35,262.80 L619.35,262.80 L621.66,262.80 L621.66,262.80 L623.97,262.80 L623.97,261.26 L626.28,261.26 L626.28,261.26 L628.59,261.26 L628.59,260.25 L630.90,260.25 L630.90,263.24 L633.21,263.24 L633.21,261.74 L635.52,261.74 L635.52,262.25 L637.83,262.25 L637.83,264.23 L640.14,264.23 L640.14,264.23 L642.45,264.23 L642.45,264.23 L644.76,264.23 L644.76,264.23 L647.07,264.23 L647.07,263.46 L649.38,263.46 L649.38,264.34 L651.69,264.34 L651.69,264.56 L654.00,264.56 L654.00,264.56 L656.31,264.56 L656.31,264.78 L658.62,264.78 L658.62,264.78 L660.93,264.78 L660.93,264.78 L663.24,264.78 L663.24,264.78 L665.55,264.78 L665.55,264.78 L667.86,264.78 L667.86,265.00 L670.17,265.00 L670.17,265.00" fill="none" stroke="#2ec82e" stroke-width="0.95" stroke-linejoin="miter"/>
<path d="M561.60,265.00 L561.60,244.87 L563.91,244.87 L563.91,256.77 L566.22,256.77 L566.22,259.28 L568.53,259.28 L568.53,260.25 L570.84,260.25 L570.84,259.76 L573.15,259.76 L573.15,260.75 L575.46,260.75 L575.46,263.24 L577.77,263.24 L577.77,263.24 L580.08,263.24 L580.08,260.75 L582.39,260.75 L582.39,262.73 L584.70,262.73 L584.70,262.25 L587.01,262.25 L587.01,263.72 L589.32,263.72 L589.32,264.23 L591.63,264.23 L591.63,264.23 L593.94,264.23 L593.94,264.23 L596.25,264.23 L596.25,264.34 L598.56,264.34 L598.56,264.34 L600.87,264.34 L600.87,264.34 L603.18,264.34 L603.18,264.34 L605.49,264.34 L605.49,264.34 L607.80,264.34 L607.80,264.34 L610.11,264.34 L610.11,264.34 L612.42,264.34 L612.42,264.34 L614.73,264.34 L614.73,264.34 L617.04,264.34 L617.04,264.34 L619.35,264.34 L619.35,264.34 L621.66,264.34 L621.66,264.34 L623.97,264.34 L623.97,264.34 L626.28,264.34 L626.28,264.34 L628.59,264.34 L628.59,264.34 L630.90,264.34 L630.90,264.34 L633.21,264.34 L633.21,264.34 L635.52,264.34 L635.52,264.34 L637.83,264.34 L637.83,264.34 L640.14,264.34 L640.14,264.34 L642.45,264.34 L642.45,264.34 L644.76,264.34 L644.76,264.34 L647.07,264.34 L647.07,264.34 L649.38,264.34 L649.38,264.34 L651.69,264.34 L651.69,264.34 L654.00,264.34 L654.00,264.34 L656.31,264.34 L656.31,264.34 L658.62,264.34 L658.62,264.34 L660.93,264.34 L660.93,264.34 L663.24,264.34 L663.24,264.34 L665.55,264.34 L665.55,264.34 L667.86,264.34 L667.86,264.34 L670.17,264.34 L670.17,264.56 L672.48,264.56 L672.48,264.56 L674.79,264.56 L674.79,265.00 L677.10,265.00 L677.10,265.00" fill="none" stroke="#df42e0" stroke-width="0.95" stroke-linejoin="miter"/>
<rect x="38.40" y="303.60" width="129.00" height="109.10" fill="none" stroke="#8c8c8c" stroke-width="0.85"/>
<line x1="35.50" y1="412.60" x2="38.40" y2="412.60" stroke="#777" stroke-width="1.0" />
<text x="32.40" y="415.15" font-size="6.6" text-anchor="end">0</text>
<line x1="35.50" y1="391.80" x2="38.40" y2="391.80" stroke="#777" stroke-width="1.0" />
<text x="32.40" y="394.35" font-size="6.6" text-anchor="end">20</text>
<line x1="35.50" y1="371.00" x2="38.40" y2="371.00" stroke="#777" stroke-width="1.0" />
<text x="32.40" y="373.55" font-size="6.6" text-anchor="end">40</text>
<line x1="35.50" y1="350.20" x2="38.40" y2="350.20" stroke="#777" stroke-width="1.0" />
<text x="32.40" y="352.75" font-size="6.6" text-anchor="end">60</text>
<line x1="35.50" y1="329.40" x2="38.40" y2="329.40" stroke="#777" stroke-width="1.0" />
<text x="32.40" y="331.95" font-size="6.6" text-anchor="end">80</text>
<line x1="35.50" y1="308.60" x2="38.40" y2="308.60" stroke="#777" stroke-width="1.0" />
<text x="32.40" y="311.15" font-size="6.6" text-anchor="end">100</text>
<line x1="42.20" y1="412.70" x2="42.20" y2="415.40" stroke="#777" stroke-width="1.0" />
<text x="42.20" y="424.00" font-size="6.6" text-anchor="middle">0</text>
<line x1="63.07" y1="412.70" x2="63.07" y2="415.40" stroke="#777" stroke-width="1.0" />
<text x="63.07" y="424.00" font-size="6.6" text-anchor="middle">50</text>
<line x1="83.93" y1="412.70" x2="83.93" y2="415.40" stroke="#777" stroke-width="1.0" />
<text x="83.93" y="424.00" font-size="6.6" text-anchor="middle">100</text>
<line x1="104.80" y1="412.70" x2="104.80" y2="415.40" stroke="#777" stroke-width="1.0" />
<text x="104.80" y="424.00" font-size="6.6" text-anchor="middle">150</text>
<line x1="125.66" y1="412.70" x2="125.66" y2="415.40" stroke="#777" stroke-width="1.0" />
<text x="125.66" y="424.00" font-size="6.6" text-anchor="middle">200</text>
<line x1="146.53" y1="412.70" x2="146.53" y2="415.40" stroke="#777" stroke-width="1.0" />
<text x="146.53" y="424.00" font-size="6.6" text-anchor="middle">250</text>
<line x1="167.39" y1="412.70" x2="167.39" y2="415.40" stroke="#777" stroke-width="1.0" />
<text x="167.39" y="424.00" font-size="6.6" text-anchor="middle">300</text>
<text x="102.60" y="435.10" font-size="6.4" text-anchor="middle" textLength="59.4" lengthAdjust="spacingAndGlyphs">Radial distance (µm)</text>
<text x="15.60" y="358.60" font-size="6.4" text-anchor="middle" transform="rotate(-90 15.60 358.60)" textLength="85" lengthAdjust="spacingAndGlyphs">Percentage of cells targeted</text>
<text x="5.60" y="357.10" font-size="6.4" text-anchor="middle" transform="rotate(-90 5.60 357.10)" textLength="21.3" lengthAdjust="spacingAndGlyphs">MET-6</text>
<polyline points="42.20,380.15 46.34,387.12 50.48,385.35 54.62,384.10 58.76,388.06 62.90,389.82 67.04,393.36 71.18,394.30 75.32,397.83 79.46,399.81 83.60,402.30 87.74,404.90 91.88,404.80 96.02,406.57 100.16,407.92 104.30,408.75 112.58,409.48 121.69,410.21 133.28,411.04 149.84,411.56 163.09,411.98" fill="none" stroke="#d3283f" stroke-width="1.6" stroke-linejoin="round"/>
<polyline points="42.20,404.28 46.34,399.81 50.48,396.58 54.62,401.58 58.76,402.72 62.90,403.24 67.04,404.28 71.18,408.23 75.32,409.27 79.46,409.27 83.60,409.69 87.74,411.25 91.88,411.66 104.30,411.98 125.00,412.18 163.09,412.29" fill="none" stroke="#2ec82e" stroke-width="1.6" stroke-linejoin="round"/>
<polyline points="42.20,394.30 46.34,393.67 50.48,397.31 54.62,391.38 58.76,394.30 62.90,395.65 67.04,397.83 71.18,399.81 75.32,404.28 79.46,402.30 83.60,405.74 87.74,407.19 91.88,407.19 96.02,407.19 100.16,409.27 104.30,410.21 112.58,410.73 125.00,411.35 145.70,411.77 163.09,412.08" fill="none" stroke="#4fd3e5" stroke-width="1.6" stroke-linejoin="round"/>
<polyline points="46.34,352.07 50.48,348.85 54.62,342.40 58.76,361.74 62.90,350.82 67.04,348.64 71.18,358.00 75.32,361.95 79.46,367.26 83.60,358.52 87.74,369.75 92.29,372.25 96.43,387.33 100.57,384.21 104.30,391.80 108.85,399.29 112.99,395.65 117.13,404.80 121.27,400.95 125.41,404.80 129.55,403.76 134.11,407.92 137.83,407.19 141.97,407.50 146.11,408.75 150.25,410.52 153.98,410.73 158.53,411.56 163.50,411.66" fill="none" stroke="#f3d41c" stroke-width="1.6" stroke-linejoin="round"/>
<polyline points="42.20,394.82 46.34,398.77 50.48,404.90 54.62,402.93 58.76,403.55 62.90,403.55 67.04,404.80 71.18,407.71 75.32,408.75 79.46,408.23 83.60,409.27 87.74,410.73 96.02,410.73 104.30,411.25 125.00,411.77 163.09,412.18" fill="none" stroke="#df42e0" stroke-width="1.6" stroke-linejoin="round"/>
<polyline points="42.20,412.18 46.34,398.25 50.48,402.30 54.62,396.79 58.76,401.78 62.90,401.99 67.04,399.29 71.18,402.72 75.32,407.71 79.46,405.22 83.60,406.26 87.74,406.78 91.88,406.78 96.02,407.71 100.16,408.75 104.30,409.69 112.58,410.52 125.00,411.25 145.70,411.66 163.09,411.98" fill="none" stroke="#f29ccf" stroke-width="1.6" stroke-linejoin="round"/>
<text x="63.80" y="341.20" font-size="7.5" text-anchor="middle">*</text>
<rect x="209.60" y="306.00" width="124.00" height="105.30" fill="none" stroke="#8c8c8c" stroke-width="0.85"/>
<line x1="206.70" y1="411.20" x2="209.60" y2="411.20" stroke="#777" stroke-width="1.0" />
<text x="203.60" y="413.75" font-size="6.6" text-anchor="end">0</text>
<line x1="206.70" y1="390.16" x2="209.60" y2="390.16" stroke="#777" stroke-width="1.0" />
<text x="203.60" y="392.71" font-size="6.6" text-anchor="end">20</text>
<line x1="206.70" y1="369.12" x2="209.60" y2="369.12" stroke="#777" stroke-width="1.0" />
<text x="203.60" y="371.67" font-size="6.6" text-anchor="end">40</text>
<line x1="206.70" y1="348.08" x2="209.60" y2="348.08" stroke="#777" stroke-width="1.0" />
<text x="203.60" y="350.63" font-size="6.6" text-anchor="end">60</text>
<line x1="206.70" y1="327.04" x2="209.60" y2="327.04" stroke="#777" stroke-width="1.0" />
<text x="203.60" y="329.59" font-size="6.6" text-anchor="end">80</text>
<line x1="206.70" y1="306.00" x2="209.60" y2="306.00" stroke="#777" stroke-width="1.0" />
<text x="203.60" y="308.55" font-size="6.6" text-anchor="end">100</text>
<line x1="210.40" y1="411.30" x2="210.40" y2="414.00" stroke="#777" stroke-width="1.0" />
<text x="210.40" y="422.60" font-size="6.6" text-anchor="middle">1</text>
<line x1="240.90" y1="411.30" x2="240.90" y2="414.00" stroke="#777" stroke-width="1.0" />
<text x="240.90" y="422.60" font-size="6.6" text-anchor="middle">2</text>
<line x1="271.40" y1="411.30" x2="271.40" y2="414.00" stroke="#777" stroke-width="1.0" />
<text x="271.40" y="422.60" font-size="6.6" text-anchor="middle">3</text>
<line x1="301.90" y1="411.30" x2="301.90" y2="414.00" stroke="#777" stroke-width="1.0" />
<text x="301.90" y="422.60" font-size="6.6" text-anchor="middle">4</text>
<line x1="332.40" y1="411.30" x2="332.40" y2="414.00" stroke="#777" stroke-width="1.0" />
<text x="332.40" y="422.60" font-size="6.6" text-anchor="middle">5</text>
<text x="272.00" y="433.70" font-size="6.4" text-anchor="middle" textLength="107" lengthAdjust="spacingAndGlyphs">Number of synapses onto target cell</text>
<text x="186.00" y="358.75" font-size="6.4" text-anchor="middle" transform="rotate(-90 186.00 358.75)" textLength="76.6" lengthAdjust="spacingAndGlyphs">Percentage of connections</text>
<polyline points="210.40,335.46 240.90,395.42 271.40,404.26 301.90,408.36 332.40,409.31" fill="none" stroke="#f29ccf" stroke-width="1.8" stroke-linejoin="round" stroke-dasharray="5.3,2.2"/>
<line x1="210.40" y1="338.19" x2="210.40" y2="332.30" stroke="#f29ccf" stroke-width="1.2" />
<polyline points="210.40,321.57 240.90,398.58 271.40,408.57 301.90,410.15 332.40,410.67" fill="none" stroke="#df42e0" stroke-width="1.8" stroke-linejoin="round" stroke-dasharray="5.3,2.2"/>
<polyline points="210.40,362.81 240.90,387.95 271.40,398.79 301.90,403.94 332.40,406.99" fill="none" stroke="#f3d41c" stroke-width="1.8" stroke-linejoin="round" stroke-dasharray="5.3,2.2"/>
<line x1="210.40" y1="364.91" x2="210.40" y2="360.70" stroke="#f3d41c" stroke-width="1.2" />
<line x1="271.40" y1="400.15" x2="271.40" y2="397.52" stroke="#f3d41c" stroke-width="1.2" />
<polyline points="210.40,324.41 240.90,397.84 271.40,408.25 301.90,409.94 332.40,410.36" fill="none" stroke="#4fd3e5" stroke-width="1.8" stroke-linejoin="round" stroke-dasharray="5.3,2.2"/>
<line x1="210.40" y1="326.30" x2="210.40" y2="323.04" stroke="#4fd3e5" stroke-width="1.2" />
<polyline points="210.40,317.57 240.90,401.84 271.40,409.62 301.90,410.57 332.40,410.88" fill="none" stroke="#2ec82e" stroke-width="1.8" stroke-linejoin="round" stroke-dasharray="5.3,2.2"/>
<line x1="210.40" y1="319.68" x2="210.40" y2="315.99" stroke="#2ec82e" stroke-width="1.2" />
<line x1="240.90" y1="403.84" x2="240.90" y2="396.37" stroke="#2ec82e" stroke-width="1.2" />
<polyline points="210.40,328.30 240.90,395.84 271.40,407.31 301.90,409.31 332.40,410.04" fill="none" stroke="#d3283f" stroke-width="1.8" stroke-linejoin="round" stroke-dasharray="5.3,2.2"/>
<line x1="210.40" y1="330.93" x2="210.40" y2="326.62" stroke="#d3283f" stroke-width="1.2" />
<rect x="378.60" y="302.40" width="109.40" height="110.00" fill="none" stroke="#8c8c8c" stroke-width="0.85"/>
<line x1="378.60" y1="315.40" x2="488.00" y2="315.40" stroke="#d2d2d2" stroke-width="0.8" stroke-dasharray="1.7,1.3"/>
<line x1="378.60" y1="326.60" x2="488.00" y2="326.60" stroke="#d2d2d2" stroke-width="0.8" stroke-dasharray="1.7,1.3"/>
<line x1="378.60" y1="356.30" x2="488.00" y2="356.30" stroke="#d2d2d2" stroke-width="0.8" stroke-dasharray="1.7,1.3"/>
<line x1="378.60" y1="362.30" x2="488.00" y2="362.30" stroke="#d2d2d2" stroke-width="0.8" stroke-dasharray="1.7,1.3"/>
<line x1="378.60" y1="388.00" x2="488.00" y2="388.00" stroke="#d2d2d2" stroke-width="0.8" stroke-dasharray="1.7,1.3"/>
<line x1="378.60" y1="402.40" x2="488.00" y2="402.40" stroke="#d2d2d2" stroke-width="0.8" stroke-dasharray="1.7,1.3"/>
<line x1="375.70" y1="309.40" x2="378.60" y2="309.40" stroke="#777" stroke-width="1.0" />
<text x="372.60" y="311.95" font-size="6.6" text-anchor="end">−300</text>
<line x1="375.70" y1="322.27" x2="378.60" y2="322.27" stroke="#777" stroke-width="1.0" />
<text x="372.60" y="324.82" font-size="6.6" text-anchor="end">−400</text>
<line x1="375.70" y1="335.15" x2="378.60" y2="335.15" stroke="#777" stroke-width="1.0" />
<text x="372.60" y="337.70" font-size="6.6" text-anchor="end">−500</text>
<line x1="375.70" y1="348.02" x2="378.60" y2="348.02" stroke="#777" stroke-width="1.0" />
<text x="372.60" y="350.57" font-size="6.6" text-anchor="end">−600</text>
<line x1="375.70" y1="360.90" x2="378.60" y2="360.90" stroke="#777" stroke-width="1.0" />
<text x="372.60" y="363.45" font-size="6.6" text-anchor="end">−700</text>
<line x1="375.70" y1="373.77" x2="378.60" y2="373.77" stroke="#777" stroke-width="1.0" />
<text x="372.60" y="376.32" font-size="6.6" text-anchor="end">−800</text>
<line x1="375.70" y1="386.65" x2="378.60" y2="386.65" stroke="#777" stroke-width="1.0" />
<text x="372.60" y="389.20" font-size="6.6" text-anchor="end">−900</text>
<line x1="375.70" y1="399.52" x2="378.60" y2="399.52" stroke="#777" stroke-width="1.0" />
<text x="372.60" y="402.07" font-size="6.6" text-anchor="end">−1,000</text>
<line x1="375.70" y1="412.40" x2="378.60" y2="412.40" stroke="#777" stroke-width="1.0" />
<text x="372.60" y="414.95" font-size="6.6" text-anchor="end">−1,100</text>
<line x1="398.00" y1="412.40" x2="398.00" y2="415.10" stroke="#777" stroke-width="1.0" />
<text x="398.00" y="423.70" font-size="6.6" text-anchor="middle">1,000</text>
<line x1="423.66" y1="412.40" x2="423.66" y2="415.10" stroke="#777" stroke-width="1.0" />
<text x="423.66" y="423.70" font-size="6.6" text-anchor="middle">800</text>
<line x1="449.32" y1="412.40" x2="449.32" y2="415.10" stroke="#777" stroke-width="1.0" />
<text x="449.32" y="423.70" font-size="6.6" text-anchor="middle">600</text>
<line x1="474.98" y1="412.40" x2="474.98" y2="415.10" stroke="#777" stroke-width="1.0" />
<text x="474.98" y="423.70" font-size="6.6" text-anchor="middle">400</text>
<text x="433.20" y="434.80" font-size="6.4" text-anchor="middle" textLength="51.5" lengthAdjust="spacingAndGlyphs"><tspan font-style="italic">x</tspan> coordinate (µm)</text>
<text x="349.20" y="356.10" font-size="6.4" text-anchor="middle" transform="rotate(-90 349.20 356.10)" textLength="51.5" lengthAdjust="spacingAndGlyphs"><tspan font-style="italic">y</tspan> coordinate (µm)</text>
<circle cx="384.0" cy="369.1" r="1.5" fill="#250691"/>
<circle cx="386.4" cy="329.9" r="1.5" fill="#250691"/>
<circle cx="391.2" cy="367.8" r="1.5" fill="#250691"/>
<circle cx="393.7" cy="331.5" r="1.5" fill="#250691"/>
<circle cx="395.3" cy="371.9" r="1.5" fill="#250691"/>
<circle cx="396.9" cy="323.5" r="1.5" fill="#250691"/>
<circle cx="397.7" cy="337.1" r="1.5" fill="#250691"/>
<circle cx="399.0" cy="339.5" r="1.5" fill="#250691"/>
<circle cx="399.1" cy="365.3" r="1.5" fill="#250691"/>
<circle cx="399.3" cy="367.8" r="1.5" fill="#250691"/>
<circle cx="400.4" cy="367.2" r="1.5" fill="#250691"/>
<circle cx="402.2" cy="324.7" r="1.5" fill="#250691"/>
<circle cx="402.4" cy="329.1" r="1.5" fill="#250691"/>
<circle cx="402.5" cy="366.9" r="1.5" fill="#250691"/>
<circle cx="402.5" cy="378.8" r="1.5" fill="#250691"/>
<circle cx="403.2" cy="319.2" r="1.5" fill="#250691"/>
<circle cx="403.3" cy="376.5" r="1.5" fill="#250691"/>
<circle cx="405.2" cy="368.5" r="1.5" fill="#250691"/>
<circle cx="405.3" cy="364.8" r="1.5" fill="#250691"/>
<circle cx="405.4" cy="372.9" r="1.5" fill="#250691"/>
<circle cx="405.5" cy="326.8" r="1.5" fill="#250691"/>
<circle cx="405.8" cy="319.4" r="1.5" fill="#250691"/>
<circle cx="405.9" cy="376.4" r="1.5" fill="#250691"/>
<circle cx="406.3" cy="363.0" r="1.5" fill="#250691"/>
<circle cx="406.4" cy="370.5" r="1.5" fill="#250691"/>
<circle cx="406.6" cy="374.6" r="1.5" fill="#250691"/>
<circle cx="406.6" cy="321.5" r="1.5" fill="#250691"/>
<circle cx="406.7" cy="366.9" r="1.5" fill="#250691"/>
<circle cx="407.4" cy="326.6" r="1.5" fill="#250691"/>
<circle cx="407.5" cy="323.3" r="1.5" fill="#250691"/>
<circle cx="408.0" cy="379.9" r="1.5" fill="#250691"/>
<circle cx="408.6" cy="370.5" r="1.5" fill="#250691"/>
<circle cx="409.0" cy="321.3" r="1.5" fill="#250691"/>
<circle cx="409.1" cy="374.9" r="1.5" fill="#250691"/>
<circle cx="409.6" cy="376.4" r="1.5" fill="#250691"/>
<circle cx="409.6" cy="323.4" r="1.5" fill="#250691"/>
<circle cx="410.7" cy="317.5" r="1.5" fill="#250691"/>
<circle cx="410.8" cy="366.8" r="1.5" fill="#250691"/>
<circle cx="411.0" cy="370.6" r="1.5" fill="#250691"/>
<circle cx="411.3" cy="378.7" r="1.5" fill="#250691"/>
<circle cx="412.1" cy="313.0" r="1.5" fill="#250691"/>
<circle cx="412.2" cy="330.5" r="1.5" fill="#250691"/>
<circle cx="413.7" cy="344.3" r="1.5" fill="#250691"/>
<circle cx="414.2" cy="372.9" r="1.5" fill="#250691"/>
<circle cx="414.4" cy="365.4" r="1.5" fill="#250691"/>
<circle cx="414.4" cy="331.0" r="1.5" fill="#250691"/>
<circle cx="415.2" cy="317.5" r="1.5" fill="#250691"/>
<circle cx="415.2" cy="370.8" r="1.5" fill="#250691"/>
<circle cx="415.6" cy="363.3" r="1.5" fill="#250691"/>
<circle cx="416.2" cy="380.2" r="1.5" fill="#250691"/>
<circle cx="416.3" cy="373.0" r="1.5" fill="#250691"/>
<circle cx="416.4" cy="331.1" r="1.5" fill="#250691"/>
<circle cx="416.4" cy="319.6" r="1.5" fill="#250691"/>
<circle cx="417.2" cy="325.4" r="1.5" fill="#250691"/>
<circle cx="417.3" cy="386.0" r="1.5" fill="#250691"/>
<circle cx="417.3" cy="329.0" r="1.5" fill="#250691"/>
<circle cx="417.5" cy="389.5" r="1.5" fill="#250691"/>
<circle cx="417.6" cy="374.2" r="1.5" fill="#250691"/>
<circle cx="417.7" cy="382.3" r="1.5" fill="#250691"/>
<circle cx="417.8" cy="378.4" r="1.5" fill="#250691"/>
<circle cx="418.0" cy="350.0" r="1.5" fill="#250691"/>
<circle cx="418.4" cy="315.6" r="1.5" fill="#250691"/>
<circle cx="418.4" cy="354.0" r="1.5" fill="#250691"/>
<circle cx="418.5" cy="383.8" r="1.5" fill="#250691"/>
<circle cx="419.1" cy="330.8" r="1.5" fill="#250691"/>
<circle cx="419.6" cy="370.8" r="1.5" fill="#250691"/>
<circle cx="419.6" cy="378.2" r="1.5" fill="#250691"/>
<circle cx="419.7" cy="385.9" r="1.5" fill="#250691"/>
<circle cx="419.9" cy="389.9" r="1.5" fill="#250691"/>
<circle cx="420.1" cy="313.9" r="1.5" fill="#250691"/>
<circle cx="420.1" cy="317.8" r="1.5" fill="#250691"/>
<circle cx="420.8" cy="399.1" r="1.5" fill="#250691"/>
<circle cx="421.8" cy="328.8" r="1.5" fill="#250691"/>
<circle cx="421.8" cy="315.9" r="1.5" fill="#250691"/>
<circle cx="422.3" cy="332.7" r="1.5" fill="#250691"/>
<circle cx="422.8" cy="395.2" r="1.5" fill="#250691"/>
<circle cx="422.9" cy="383.7" r="1.5" fill="#250691"/>
<circle cx="423.0" cy="334.7" r="1.5" fill="#250691"/>
<circle cx="423.1" cy="365.1" r="1.5" fill="#250691"/>
<circle cx="423.3" cy="372.5" r="1.5" fill="#250691"/>
<circle cx="423.4" cy="326.7" r="1.5" fill="#250691"/>
<circle cx="423.4" cy="387.8" r="1.5" fill="#250691"/>
<circle cx="423.5" cy="319.4" r="1.5" fill="#250691"/>
<circle cx="424.1" cy="317.1" r="1.5" fill="#250691"/>
<circle cx="424.1" cy="393.9" r="1.5" fill="#250691"/>
<circle cx="424.2" cy="313.4" r="1.5" fill="#250691"/>
<circle cx="424.5" cy="370.6" r="1.5" fill="#250691"/>
<circle cx="425.0" cy="354.0" r="1.5" fill="#250691"/>
<circle cx="425.1" cy="395.2" r="1.5" fill="#250691"/>
<circle cx="425.2" cy="322.8" r="1.5" fill="#250691"/>
<circle cx="425.3" cy="376.3" r="1.5" fill="#250691"/>
<circle cx="425.6" cy="403.0" r="1.5" fill="#250691"/>
<circle cx="425.6" cy="361.1" r="1.5" fill="#250691"/>
<circle cx="426.3" cy="324.9" r="1.5" fill="#250691"/>
<circle cx="426.5" cy="329.0" r="1.5" fill="#250691"/>
<circle cx="426.5" cy="336.7" r="1.5" fill="#250691"/>
<circle cx="426.7" cy="397.6" r="1.5" fill="#250691"/>
<circle cx="426.7" cy="386.3" r="1.5" fill="#250691"/>
<circle cx="427.4" cy="361.1" r="1.5" fill="#250691"/>
<circle cx="427.5" cy="327.3" r="1.5" fill="#250691"/>
<circle cx="427.5" cy="319.0" r="1.5" fill="#250691"/>
<circle cx="427.7" cy="384.1" r="1.5" fill="#250691"/>
<circle cx="428.2" cy="351.4" r="1.5" fill="#250691"/>
<circle cx="428.3" cy="321.1" r="1.5" fill="#250691"/>
<circle cx="428.3" cy="382.3" r="1.5" fill="#250691"/>
<circle cx="428.7" cy="389.6" r="1.5" fill="#250691"/>
<circle cx="428.8" cy="397.6" r="1.5" fill="#250691"/>
<circle cx="429.0" cy="336.2" r="1.5" fill="#250691"/>
<circle cx="429.7" cy="326.7" r="1.5" fill="#250691"/>
<circle cx="429.8" cy="330.5" r="1.5" fill="#250691"/>
<circle cx="429.9" cy="338.3" r="1.5" fill="#250691"/>
<circle cx="430.0" cy="399.3" r="1.5" fill="#250691"/>
<circle cx="430.0" cy="323.0" r="1.5" fill="#250691"/>
<circle cx="431.0" cy="366.8" r="1.5" fill="#250691"/>
<circle cx="431.5" cy="322.8" r="1.5" fill="#250691"/>
<circle cx="431.7" cy="380.0" r="1.5" fill="#250691"/>
<circle cx="431.7" cy="399.6" r="1.5" fill="#250691"/>
<circle cx="432.0" cy="352.0" r="1.5" fill="#250691"/>
<circle cx="432.0" cy="387.6" r="1.5" fill="#250691"/>
<circle cx="432.2" cy="349.5" r="1.5" fill="#250691"/>
<circle cx="432.2" cy="334.3" r="1.5" fill="#250691"/>
<circle cx="432.2" cy="403.4" r="1.5" fill="#250691"/>
<circle cx="432.7" cy="363.0" r="1.5" fill="#250691"/>
<circle cx="432.8" cy="382.5" r="1.5" fill="#250691"/>
<circle cx="432.9" cy="336.2" r="1.5" fill="#250691"/>
<circle cx="433.0" cy="359.1" r="1.5" fill="#250691"/>
<circle cx="433.1" cy="340.1" r="1.5" fill="#250691"/>
<circle cx="433.8" cy="369.2" r="1.5" fill="#250691"/>
<circle cx="433.9" cy="365.1" r="1.5" fill="#250691"/>
<circle cx="433.9" cy="388.2" r="1.5" fill="#250691"/>
<circle cx="434.1" cy="334.4" r="1.5" fill="#250691"/>
<circle cx="434.1" cy="327.0" r="1.5" fill="#250691"/>
<circle cx="434.1" cy="399.3" r="1.5" fill="#250691"/>
<circle cx="434.8" cy="378.4" r="1.5" fill="#250691"/>
<circle cx="434.9" cy="355.4" r="1.5" fill="#250691"/>
<circle cx="435.1" cy="336.9" r="1.5" fill="#250691"/>
<circle cx="435.2" cy="401.6" r="1.5" fill="#250691"/>
<circle cx="435.2" cy="348.0" r="1.5" fill="#250691"/>
<circle cx="435.3" cy="393.9" r="1.5" fill="#250691"/>
<circle cx="435.4" cy="374.5" r="1.5" fill="#250691"/>
<circle cx="435.6" cy="359.1" r="1.5" fill="#250691"/>
<circle cx="436.0" cy="342.3" r="1.5" fill="#250691"/>
<circle cx="436.1" cy="322.8" r="1.5" fill="#250691"/>
<circle cx="436.2" cy="349.8" r="1.5" fill="#250691"/>
<circle cx="436.6" cy="330.8" r="1.5" fill="#250691"/>
<circle cx="436.6" cy="399.4" r="1.5" fill="#250691"/>
<circle cx="436.7" cy="319.1" r="1.5" fill="#250691"/>
<circle cx="437.1" cy="363.4" r="1.5" fill="#250691"/>
<circle cx="437.1" cy="389.7" r="1.5" fill="#250691"/>
<circle cx="437.2" cy="382.5" r="1.5" fill="#250691"/>
<circle cx="437.3" cy="344.4" r="1.5" fill="#250691"/>
<circle cx="437.4" cy="393.7" r="1.5" fill="#250691"/>
<circle cx="437.5" cy="355.3" r="1.5" fill="#250691"/>
<circle cx="438.4" cy="334.6" r="1.5" fill="#250691"/>
<circle cx="438.4" cy="322.9" r="1.5" fill="#250691"/>
<circle cx="438.4" cy="384.2" r="1.5" fill="#250691"/>
<circle cx="438.5" cy="338.8" r="1.5" fill="#250691"/>
<circle cx="438.8" cy="387.9" r="1.5" fill="#250691"/>
<circle cx="438.8" cy="330.8" r="1.5" fill="#250691"/>
<circle cx="438.9" cy="361.1" r="1.5" fill="#250691"/>
<circle cx="439.5" cy="401.0" r="1.5" fill="#250691"/>
<circle cx="439.5" cy="344.1" r="1.5" fill="#250691"/>
<circle cx="439.6" cy="340.0" r="1.5" fill="#250691"/>
<circle cx="439.9" cy="397.8" r="1.5" fill="#250691"/>
<circle cx="439.9" cy="359.4" r="1.5" fill="#250691"/>
<circle cx="440.0" cy="394.0" r="1.5" fill="#250691"/>
<circle cx="440.4" cy="399.2" r="1.5" fill="#250691"/>
<circle cx="440.5" cy="357.5" r="1.5" fill="#250691"/>
<circle cx="440.5" cy="334.8" r="1.5" fill="#250691"/>
<circle cx="440.5" cy="342.3" r="1.5" fill="#250691"/>
<circle cx="440.8" cy="326.8" r="1.5" fill="#250691"/>
<circle cx="440.9" cy="391.7" r="1.5" fill="#250691"/>
<circle cx="441.0" cy="315.4" r="1.5" fill="#250691"/>
<circle cx="441.1" cy="323.5" r="1.5" fill="#250691"/>
<circle cx="441.5" cy="348.1" r="1.5" fill="#250691"/>
<circle cx="441.6" cy="385.8" r="1.5" fill="#250691"/>
<circle cx="441.7" cy="355.4" r="1.5" fill="#250691"/>
<circle cx="442.0" cy="321.4" r="1.5" fill="#250691"/>
<circle cx="442.0" cy="329.0" r="1.5" fill="#250691"/>
<circle cx="442.1" cy="340.2" r="1.5" fill="#250691"/>
<circle cx="442.6" cy="350.0" r="1.5" fill="#250691"/>
<circle cx="442.6" cy="353.9" r="1.5" fill="#250691"/>
<circle cx="442.8" cy="383.9" r="1.5" fill="#250691"/>
<circle cx="442.8" cy="322.8" r="1.5" fill="#250691"/>
<circle cx="442.9" cy="345.7" r="1.5" fill="#250691"/>
<circle cx="442.9" cy="331.0" r="1.5" fill="#250691"/>
<circle cx="443.1" cy="392.0" r="1.5" fill="#250691"/>
<circle cx="443.2" cy="388.3" r="1.5" fill="#250691"/>
<circle cx="443.7" cy="332.9" r="1.5" fill="#250691"/>
<circle cx="443.8" cy="340.3" r="1.5" fill="#250691"/>
<circle cx="443.9" cy="363.5" r="1.5" fill="#250691"/>
<circle cx="444.0" cy="401.1" r="1.5" fill="#250691"/>
<circle cx="444.0" cy="374.6" r="1.5" fill="#250691"/>
<circle cx="444.1" cy="378.2" r="1.5" fill="#250691"/>
<circle cx="444.2" cy="336.8" r="1.5" fill="#250691"/>
<circle cx="444.2" cy="381.9" r="1.5" fill="#250691"/>
<circle cx="444.3" cy="386.0" r="1.5" fill="#250691"/>
<circle cx="444.8" cy="353.6" r="1.5" fill="#250691"/>
<circle cx="444.8" cy="402.9" r="1.5" fill="#250691"/>
<circle cx="444.8" cy="357.1" r="1.5" fill="#250691"/>
<circle cx="444.9" cy="399.2" r="1.5" fill="#250691"/>
<circle cx="445.0" cy="356.0" r="1.5" fill="#250691"/>
<circle cx="445.1" cy="326.7" r="1.5" fill="#250691"/>
<circle cx="445.3" cy="342.5" r="1.5" fill="#250691"/>
<circle cx="446.1" cy="378.5" r="1.5" fill="#250691"/>
<circle cx="446.1" cy="332.3" r="1.5" fill="#250691"/>
<circle cx="446.3" cy="382.4" r="1.5" fill="#250691"/>
<circle cx="446.5" cy="336.2" r="1.5" fill="#250691"/>
<circle cx="446.9" cy="353.4" r="1.5" fill="#250691"/>
<circle cx="447.0" cy="342.1" r="1.5" fill="#250691"/>
<circle cx="447.1" cy="338.2" r="1.5" fill="#250691"/>
<circle cx="447.1" cy="364.8" r="1.5" fill="#250691"/>
<circle cx="447.3" cy="326.8" r="1.5" fill="#250691"/>
<circle cx="447.4" cy="345.7" r="1.5" fill="#250691"/>
<circle cx="447.4" cy="397.1" r="1.5" fill="#250691"/>
<circle cx="447.6" cy="380.5" r="1.5" fill="#250691"/>
<circle cx="448.3" cy="325.2" r="1.5" fill="#250691"/>
<circle cx="448.5" cy="378.1" r="1.5" fill="#250691"/>
<circle cx="448.6" cy="351.8" r="1.5" fill="#250691"/>
<circle cx="448.6" cy="344.2" r="1.5" fill="#250691"/>
<circle cx="449.2" cy="338.5" r="1.5" fill="#250691"/>
<circle cx="449.2" cy="349.7" r="1.5" fill="#250691"/>
<circle cx="449.4" cy="327.1" r="1.5" fill="#250691"/>
<circle cx="449.5" cy="323.4" r="1.5" fill="#250691"/>
<circle cx="449.5" cy="353.7" r="1.5" fill="#250691"/>
<circle cx="449.7" cy="384.1" r="1.5" fill="#250691"/>
<circle cx="450.3" cy="385.7" r="1.5" fill="#250691"/>
<circle cx="450.5" cy="393.5" r="1.5" fill="#250691"/>
<circle cx="450.7" cy="347.9" r="1.5" fill="#250691"/>
<circle cx="451.6" cy="323.4" r="1.5" fill="#250691"/>
<circle cx="451.9" cy="346.0" r="1.5" fill="#250691"/>
<circle cx="452.0" cy="338.0" r="1.5" fill="#250691"/>
<circle cx="452.1" cy="365.2" r="1.5" fill="#250691"/>
<circle cx="452.5" cy="389.8" r="1.5" fill="#250691"/>
<circle cx="452.7" cy="378.3" r="1.5" fill="#250691"/>
<circle cx="453.0" cy="328.8" r="1.5" fill="#250691"/>
<circle cx="453.1" cy="325.3" r="1.5" fill="#250691"/>
<circle cx="453.6" cy="369.1" r="1.5" fill="#250691"/>
<circle cx="453.6" cy="364.8" r="1.5" fill="#250691"/>
<circle cx="453.7" cy="345.9" r="1.5" fill="#250691"/>
<circle cx="453.8" cy="380.2" r="1.5" fill="#250691"/>
<circle cx="453.9" cy="384.4" r="1.5" fill="#250691"/>
<circle cx="454.6" cy="352.1" r="1.5" fill="#250691"/>
<circle cx="454.8" cy="355.4" r="1.5" fill="#250691"/>
<circle cx="455.0" cy="370.4" r="1.5" fill="#250691"/>
<circle cx="455.0" cy="350.0" r="1.5" fill="#250691"/>
<circle cx="455.1" cy="374.3" r="1.5" fill="#250691"/>
<circle cx="455.8" cy="330.9" r="1.5" fill="#250691"/>
<circle cx="456.0" cy="372.3" r="1.5" fill="#250691"/>
<circle cx="456.1" cy="334.2" r="1.5" fill="#250691"/>
<circle cx="456.1" cy="369.0" r="1.5" fill="#250691"/>
<circle cx="456.2" cy="376.8" r="1.5" fill="#250691"/>
<circle cx="456.3" cy="346.1" r="1.5" fill="#250691"/>
<circle cx="456.8" cy="355.5" r="1.5" fill="#250691"/>
<circle cx="457.0" cy="321.1" r="1.5" fill="#250691"/>
<circle cx="457.4" cy="332.4" r="1.5" fill="#250691"/>
<circle cx="457.5" cy="325.0" r="1.5" fill="#250691"/>
<circle cx="457.5" cy="347.6" r="1.5" fill="#250691"/>
<circle cx="458.5" cy="369.2" r="1.5" fill="#250691"/>
<circle cx="458.5" cy="376.5" r="1.5" fill="#250691"/>
<circle cx="458.5" cy="350.0" r="1.5" fill="#250691"/>
<circle cx="458.7" cy="380.4" r="1.5" fill="#250691"/>
<circle cx="458.7" cy="392.3" r="1.5" fill="#250691"/>
<circle cx="459.0" cy="340.4" r="1.5" fill="#250691"/>
<circle cx="459.1" cy="366.8" r="1.5" fill="#250691"/>
<circle cx="459.3" cy="336.7" r="1.5" fill="#250691"/>
<circle cx="459.6" cy="351.6" r="1.5" fill="#250691"/>
<circle cx="459.7" cy="321.3" r="1.5" fill="#250691"/>
<circle cx="459.7" cy="374.9" r="1.5" fill="#250691"/>
<circle cx="459.7" cy="328.6" r="1.5" fill="#250691"/>
<circle cx="459.7" cy="332.9" r="1.5" fill="#250691"/>
<circle cx="460.3" cy="330.7" r="1.5" fill="#250691"/>
<circle cx="460.6" cy="372.5" r="1.5" fill="#250691"/>
<circle cx="460.8" cy="334.7" r="1.5" fill="#250691"/>
<circle cx="461.1" cy="323.0" r="1.5" fill="#250691"/>
<circle cx="461.3" cy="336.8" r="1.5" fill="#250691"/>
<circle cx="461.4" cy="370.5" r="1.5" fill="#250691"/>
<circle cx="461.7" cy="325.1" r="1.5" fill="#250691"/>
<circle cx="461.7" cy="375.0" r="1.5" fill="#250691"/>
<circle cx="462.0" cy="348.0" r="1.5" fill="#250691"/>
<circle cx="462.4" cy="322.9" r="1.5" fill="#250691"/>
<circle cx="462.8" cy="346.4" r="1.5" fill="#250691"/>
<circle cx="463.0" cy="342.2" r="1.5" fill="#250691"/>
<circle cx="463.8" cy="340.6" r="1.5" fill="#250691"/>
<circle cx="463.9" cy="378.4" r="1.5" fill="#250691"/>
<circle cx="463.9" cy="371.0" r="1.5" fill="#250691"/>
<circle cx="464.1" cy="348.0" r="1.5" fill="#250691"/>
<circle cx="464.9" cy="326.6" r="1.5" fill="#250691"/>
<circle cx="465.1" cy="383.9" r="1.5" fill="#250691"/>
<circle cx="465.7" cy="332.8" r="1.5" fill="#250691"/>
<circle cx="465.9" cy="348.2" r="1.5" fill="#250691"/>
<circle cx="466.7" cy="342.0" r="1.5" fill="#250691"/>
<circle cx="468.1" cy="340.2" r="1.5" fill="#250691"/>
<circle cx="468.2" cy="329.1" r="1.5" fill="#250691"/>
<circle cx="468.3" cy="365.4" r="1.5" fill="#250691"/>
<circle cx="468.5" cy="343.7" r="1.5" fill="#250691"/>
<circle cx="469.1" cy="338.5" r="1.5" fill="#250691"/>
<circle cx="469.1" cy="342.0" r="1.5" fill="#250691"/>
<circle cx="469.3" cy="354.0" r="1.5" fill="#250691"/>
<circle cx="469.5" cy="376.4" r="1.5" fill="#250691"/>
<circle cx="469.6" cy="346.0" r="1.5" fill="#250691"/>
<circle cx="470.0" cy="325.4" r="1.5" fill="#250691"/>
<circle cx="470.1" cy="332.9" r="1.5" fill="#250691"/>
<circle cx="470.6" cy="321.0" r="1.5" fill="#250691"/>
<circle cx="470.6" cy="329.0" r="1.5" fill="#250691"/>
<circle cx="470.7" cy="325.4" r="1.5" fill="#250691"/>
<circle cx="471.5" cy="331.1" r="1.5" fill="#250691"/>
<circle cx="471.9" cy="338.3" r="1.5" fill="#250691"/>
<circle cx="472.5" cy="332.5" r="1.5" fill="#250691"/>
<circle cx="472.8" cy="358.2" r="1.5" fill="#250691"/>
<circle cx="472.9" cy="336.7" r="1.5" fill="#250691"/>
<circle cx="473.1" cy="358.0" r="1.5" fill="#250691"/>
<circle cx="473.8" cy="319.4" r="1.5" fill="#250691"/>
<circle cx="475.6" cy="331.0" r="1.5" fill="#250691"/>
<circle cx="475.6" cy="375.6" r="1.5" fill="#250691"/>
<circle cx="476.2" cy="334.6" r="1.5" fill="#250691"/>
<circle cx="476.7" cy="329.1" r="1.5" fill="#250691"/>
<circle cx="476.7" cy="336.4" r="1.5" fill="#250691"/>
<circle cx="479.6" cy="341.9" r="1.5" fill="#250691"/>
<circle cx="480.3" cy="334.4" r="1.5" fill="#250691"/>
<circle cx="481.2" cy="332.5" r="1.5" fill="#250691"/>
<circle cx="482.9" cy="327.1" r="1.5" fill="#250691"/>
<circle cx="485.8" cy="329.1" r="1.5" fill="#250691"/>
<circle cx="490.1" cy="324.9" r="1.5" fill="#250691"/>
<circle cx="490.5" cy="336.3" r="1.5" fill="#250691"/>
<circle cx="401.0" cy="364.9" r="1.5" fill="#3c049b"/>
<circle cx="404.1" cy="325.4" r="1.5" fill="#3c049b"/>
<circle cx="404.6" cy="321.2" r="1.5" fill="#3c049b"/>
<circle cx="404.7" cy="371.0" r="1.5" fill="#3c049b"/>
<circle cx="406.4" cy="325.2" r="1.5" fill="#3c049b"/>
<circle cx="407.8" cy="330.6" r="1.5" fill="#3c049b"/>
<circle cx="408.8" cy="366.9" r="1.5" fill="#3c049b"/>
<circle cx="409.7" cy="364.9" r="1.5" fill="#3c049b"/>
<circle cx="409.8" cy="330.7" r="1.5" fill="#3c049b"/>
<circle cx="410.2" cy="315.9" r="1.5" fill="#3c049b"/>
<circle cx="411.0" cy="329.0" r="1.5" fill="#3c049b"/>
<circle cx="411.1" cy="321.1" r="1.5" fill="#3c049b"/>
<circle cx="412.0" cy="319.5" r="1.5" fill="#3c049b"/>
<circle cx="413.1" cy="366.6" r="1.5" fill="#3c049b"/>
<circle cx="413.5" cy="324.9" r="1.5" fill="#3c049b"/>
<circle cx="414.5" cy="319.3" r="1.5" fill="#3c049b"/>
<circle cx="416.6" cy="376.4" r="1.5" fill="#3c049b"/>
<circle cx="417.4" cy="366.7" r="1.5" fill="#3c049b"/>
<circle cx="417.8" cy="317.1" r="1.5" fill="#3c049b"/>
<circle cx="418.7" cy="326.9" r="1.5" fill="#3c049b"/>
<circle cx="418.8" cy="323.4" r="1.5" fill="#3c049b"/>
<circle cx="419.0" cy="369.0" r="1.5" fill="#3c049b"/>
<circle cx="420.1" cy="363.1" r="1.5" fill="#3c049b"/>
<circle cx="420.7" cy="323.0" r="1.5" fill="#3c049b"/>
<circle cx="420.9" cy="376.5" r="1.5" fill="#3c049b"/>
<circle cx="421.0" cy="365.0" r="1.5" fill="#3c049b"/>
<circle cx="421.2" cy="319.1" r="1.5" fill="#3c049b"/>
<circle cx="421.8" cy="370.6" r="1.5" fill="#3c049b"/>
<circle cx="422.1" cy="366.7" r="1.5" fill="#3c049b"/>
<circle cx="422.2" cy="321.2" r="1.5" fill="#3c049b"/>
<circle cx="422.3" cy="378.5" r="1.5" fill="#3c049b"/>
<circle cx="424.0" cy="367.1" r="1.5" fill="#3c049b"/>
<circle cx="424.2" cy="332.6" r="1.5" fill="#3c049b"/>
<circle cx="424.5" cy="328.5" r="1.5" fill="#3c049b"/>
<circle cx="425.1" cy="380.1" r="1.5" fill="#3c049b"/>
<circle cx="425.6" cy="334.8" r="1.5" fill="#3c049b"/>
<circle cx="426.4" cy="393.7" r="1.5" fill="#3c049b"/>
<circle cx="426.4" cy="363.0" r="1.5" fill="#3c049b"/>
<circle cx="426.7" cy="378.0" r="1.5" fill="#3c049b"/>
<circle cx="427.1" cy="331.1" r="1.5" fill="#3c049b"/>
<circle cx="427.3" cy="365.1" r="1.5" fill="#3c049b"/>
<circle cx="427.7" cy="387.8" r="1.5" fill="#3c049b"/>
<circle cx="428.3" cy="325.0" r="1.5" fill="#3c049b"/>
<circle cx="428.4" cy="371.1" r="1.5" fill="#3c049b"/>
<circle cx="428.8" cy="386.0" r="1.5" fill="#3c049b"/>
<circle cx="429.4" cy="319.3" r="1.5" fill="#3c049b"/>
<circle cx="429.4" cy="392.0" r="1.5" fill="#3c049b"/>
<circle cx="430.5" cy="348.0" r="1.5" fill="#3c049b"/>
<circle cx="430.6" cy="328.7" r="1.5" fill="#3c049b"/>
<circle cx="430.6" cy="389.7" r="1.5" fill="#3c049b"/>
<circle cx="430.9" cy="393.4" r="1.5" fill="#3c049b"/>
<circle cx="430.9" cy="324.8" r="1.5" fill="#3c049b"/>
<circle cx="430.9" cy="382.4" r="1.5" fill="#3c049b"/>
<circle cx="431.5" cy="319.6" r="1.5" fill="#3c049b"/>
<circle cx="431.8" cy="330.5" r="1.5" fill="#3c049b"/>
<circle cx="432.6" cy="351.8" r="1.5" fill="#3c049b"/>
<circle cx="432.7" cy="325.1" r="1.5" fill="#3c049b"/>
<circle cx="432.9" cy="333.0" r="1.5" fill="#3c049b"/>
<circle cx="433.2" cy="386.1" r="1.5" fill="#3c049b"/>
<circle cx="433.9" cy="330.9" r="1.5" fill="#3c049b"/>
<circle cx="434.0" cy="322.8" r="1.5" fill="#3c049b"/>
<circle cx="434.9" cy="362.9" r="1.5" fill="#3c049b"/>
<circle cx="435.1" cy="382.4" r="1.5" fill="#3c049b"/>
<circle cx="435.5" cy="397.6" r="1.5" fill="#3c049b"/>
<circle cx="436.1" cy="326.9" r="1.5" fill="#3c049b"/>
<circle cx="436.2" cy="392.1" r="1.5" fill="#3c049b"/>
<circle cx="436.3" cy="334.3" r="1.5" fill="#3c049b"/>
<circle cx="436.3" cy="365.2" r="1.5" fill="#3c049b"/>
<circle cx="436.3" cy="338.2" r="1.5" fill="#3c049b"/>
<circle cx="437.4" cy="328.6" r="1.5" fill="#3c049b"/>
<circle cx="437.4" cy="401.6" r="1.5" fill="#3c049b"/>
<circle cx="437.5" cy="370.7" r="1.5" fill="#3c049b"/>
<circle cx="437.5" cy="340.6" r="1.5" fill="#3c049b"/>
<circle cx="437.6" cy="348.3" r="1.5" fill="#3c049b"/>
<circle cx="437.7" cy="320.9" r="1.5" fill="#3c049b"/>
<circle cx="437.8" cy="386.2" r="1.5" fill="#3c049b"/>
<circle cx="438.3" cy="327.1" r="1.5" fill="#3c049b"/>
<circle cx="438.6" cy="319.2" r="1.5" fill="#3c049b"/>
<circle cx="439.4" cy="362.9" r="1.5" fill="#3c049b"/>
<circle cx="439.5" cy="332.6" r="1.5" fill="#3c049b"/>
<circle cx="439.7" cy="336.2" r="1.5" fill="#3c049b"/>
<circle cx="440.4" cy="330.5" r="1.5" fill="#3c049b"/>
<circle cx="440.5" cy="373.0" r="1.5" fill="#3c049b"/>
<circle cx="440.6" cy="338.7" r="1.5" fill="#3c049b"/>
<circle cx="440.7" cy="319.4" r="1.5" fill="#3c049b"/>
<circle cx="440.8" cy="395.8" r="1.5" fill="#3c049b"/>
<circle cx="442.8" cy="365.2" r="1.5" fill="#3c049b"/>
<circle cx="442.8" cy="334.8" r="1.5" fill="#3c049b"/>
<circle cx="443.2" cy="360.9" r="1.5" fill="#3c049b"/>
<circle cx="443.2" cy="373.0" r="1.5" fill="#3c049b"/>
<circle cx="444.3" cy="344.0" r="1.5" fill="#3c049b"/>
<circle cx="444.4" cy="320.9" r="1.5" fill="#3c049b"/>
<circle cx="444.8" cy="376.1" r="1.5" fill="#3c049b"/>
<circle cx="444.9" cy="338.7" r="1.5" fill="#3c049b"/>
<circle cx="445.1" cy="330.7" r="1.5" fill="#3c049b"/>
<circle cx="445.3" cy="323.1" r="1.5" fill="#3c049b"/>
<circle cx="445.5" cy="364.9" r="1.5" fill="#3c049b"/>
<circle cx="446.3" cy="324.9" r="1.5" fill="#3c049b"/>
<circle cx="446.6" cy="347.6" r="1.5" fill="#3c049b"/>
<circle cx="447.1" cy="323.5" r="1.5" fill="#3c049b"/>
<circle cx="447.3" cy="334.3" r="1.5" fill="#3c049b"/>
<circle cx="447.5" cy="376.5" r="1.5" fill="#3c049b"/>
<circle cx="448.2" cy="336.6" r="1.5" fill="#3c049b"/>
<circle cx="448.2" cy="321.5" r="1.5" fill="#3c049b"/>
<circle cx="448.3" cy="347.6" r="1.5" fill="#3c049b"/>
<circle cx="448.6" cy="367.3" r="1.5" fill="#3c049b"/>
<circle cx="448.6" cy="332.5" r="1.5" fill="#3c049b"/>
<circle cx="449.5" cy="365.4" r="1.5" fill="#3c049b"/>
<circle cx="449.7" cy="380.4" r="1.5" fill="#3c049b"/>
<circle cx="449.7" cy="334.4" r="1.5" fill="#3c049b"/>
<circle cx="449.8" cy="368.5" r="1.5" fill="#3c049b"/>
<circle cx="450.3" cy="336.7" r="1.5" fill="#3c049b"/>
<circle cx="450.3" cy="362.9" r="1.5" fill="#3c049b"/>
<circle cx="450.8" cy="329.2" r="1.5" fill="#3c049b"/>
<circle cx="451.4" cy="326.6" r="1.5" fill="#3c049b"/>
<circle cx="452.0" cy="334.7" r="1.5" fill="#3c049b"/>
<circle cx="452.0" cy="330.7" r="1.5" fill="#3c049b"/>
<circle cx="452.6" cy="367.0" r="1.5" fill="#3c049b"/>
<circle cx="452.8" cy="370.4" r="1.5" fill="#3c049b"/>
<circle cx="453.7" cy="376.5" r="1.5" fill="#3c049b"/>
<circle cx="453.9" cy="327.2" r="1.5" fill="#3c049b"/>
<circle cx="453.9" cy="323.1" r="1.5" fill="#3c049b"/>
<circle cx="454.0" cy="334.6" r="1.5" fill="#3c049b"/>
<circle cx="454.8" cy="325.1" r="1.5" fill="#3c049b"/>
<circle cx="454.8" cy="329.2" r="1.5" fill="#3c049b"/>
<circle cx="455.3" cy="332.6" r="1.5" fill="#3c049b"/>
<circle cx="458.6" cy="372.5" r="1.5" fill="#3c049b"/>
<circle cx="462.3" cy="327.3" r="1.5" fill="#3c049b"/>
<circle cx="462.5" cy="331.0" r="1.5" fill="#3c049b"/>
<circle cx="462.9" cy="334.3" r="1.5" fill="#3c049b"/>
<circle cx="464.2" cy="324.7" r="1.5" fill="#3c049b"/>
<circle cx="465.0" cy="334.5" r="1.5" fill="#3c049b"/>
<circle cx="465.8" cy="336.4" r="1.5" fill="#3c049b"/>
<circle cx="467.4" cy="376.5" r="1.5" fill="#3c049b"/>
<circle cx="469.6" cy="334.5" r="1.5" fill="#3c049b"/>
<circle cx="405.4" cy="323.0" r="1.5" fill="#5003a1"/>
<circle cx="407.9" cy="319.5" r="1.5" fill="#5003a1"/>
<circle cx="408.7" cy="325.3" r="1.5" fill="#5003a1"/>
<circle cx="409.0" cy="317.7" r="1.5" fill="#5003a1"/>
<circle cx="409.7" cy="368.7" r="1.5" fill="#5003a1"/>
<circle cx="410.2" cy="326.6" r="1.5" fill="#5003a1"/>
<circle cx="412.2" cy="315.6" r="1.5" fill="#5003a1"/>
<circle cx="412.4" cy="373.0" r="1.5" fill="#5003a1"/>
<circle cx="413.0" cy="375.0" r="1.5" fill="#5003a1"/>
<circle cx="413.4" cy="317.4" r="1.5" fill="#5003a1"/>
<circle cx="413.5" cy="320.9" r="1.5" fill="#5003a1"/>
<circle cx="413.5" cy="329.0" r="1.5" fill="#5003a1"/>
<circle cx="414.1" cy="376.4" r="1.5" fill="#5003a1"/>
<circle cx="414.6" cy="323.5" r="1.5" fill="#5003a1"/>
<circle cx="415.4" cy="324.9" r="1.5" fill="#5003a1"/>
<circle cx="415.6" cy="328.5" r="1.5" fill="#5003a1"/>
<circle cx="416.4" cy="369.0" r="1.5" fill="#5003a1"/>
<circle cx="417.7" cy="332.9" r="1.5" fill="#5003a1"/>
<circle cx="418.9" cy="319.3" r="1.5" fill="#5003a1"/>
<circle cx="419.0" cy="372.6" r="1.5" fill="#5003a1"/>
<circle cx="420.0" cy="374.4" r="1.5" fill="#5003a1"/>
<circle cx="420.6" cy="330.6" r="1.5" fill="#5003a1"/>
<circle cx="422.7" cy="368.7" r="1.5" fill="#5003a1"/>
<circle cx="423.0" cy="323.4" r="1.5" fill="#5003a1"/>
<circle cx="424.3" cy="324.9" r="1.5" fill="#5003a1"/>
<circle cx="424.4" cy="378.2" r="1.5" fill="#5003a1"/>
<circle cx="425.1" cy="372.7" r="1.5" fill="#5003a1"/>
<circle cx="427.6" cy="368.8" r="1.5" fill="#5003a1"/>
<circle cx="428.7" cy="363.2" r="1.5" fill="#5003a1"/>
<circle cx="428.8" cy="378.8" r="1.5" fill="#5003a1"/>
<circle cx="429.3" cy="380.0" r="1.5" fill="#5003a1"/>
<circle cx="429.6" cy="372.4" r="1.5" fill="#5003a1"/>
<circle cx="429.8" cy="376.8" r="1.5" fill="#5003a1"/>
<circle cx="430.5" cy="321.3" r="1.5" fill="#5003a1"/>
<circle cx="433.1" cy="389.9" r="1.5" fill="#5003a1"/>
<circle cx="433.9" cy="391.6" r="1.5" fill="#5003a1"/>
<circle cx="434.2" cy="380.1" r="1.5" fill="#5003a1"/>
<circle cx="437.7" cy="325.4" r="1.5" fill="#5003a1"/>
<circle cx="438.2" cy="368.9" r="1.5" fill="#5003a1"/>
<circle cx="438.5" cy="380.6" r="1.5" fill="#5003a1"/>
<circle cx="439.3" cy="325.1" r="1.5" fill="#5003a1"/>
<circle cx="440.5" cy="376.5" r="1.5" fill="#5003a1"/>
<circle cx="441.7" cy="336.2" r="1.5" fill="#5003a1"/>
<circle cx="441.7" cy="332.5" r="1.5" fill="#5003a1"/>
<circle cx="441.7" cy="351.5" r="1.5" fill="#5003a1"/>
<circle cx="442.8" cy="380.5" r="1.5" fill="#5003a1"/>
<circle cx="442.9" cy="376.5" r="1.5" fill="#5003a1"/>
<circle cx="445.1" cy="368.7" r="1.5" fill="#5003a1"/>
<circle cx="446.6" cy="374.9" r="1.5" fill="#5003a1"/>
<circle cx="448.3" cy="328.6" r="1.5" fill="#5003a1"/>
<circle cx="449.6" cy="376.3" r="1.5" fill="#5003a1"/>
<circle cx="450.2" cy="366.6" r="1.5" fill="#5003a1"/>
<circle cx="450.6" cy="332.7" r="1.5" fill="#5003a1"/>
<circle cx="450.7" cy="325.0" r="1.5" fill="#5003a1"/>
<circle cx="450.8" cy="378.3" r="1.5" fill="#5003a1"/>
<circle cx="451.5" cy="369.1" r="1.5" fill="#5003a1"/>
<circle cx="451.9" cy="376.8" r="1.5" fill="#5003a1"/>
<circle cx="453.9" cy="372.4" r="1.5" fill="#5003a1"/>
<circle cx="457.3" cy="370.7" r="1.5" fill="#5003a1"/>
<circle cx="468.0" cy="370.8" r="1.5" fill="#5003a1"/>
<circle cx="471.8" cy="334.6" r="1.5" fill="#5003a1"/>
<circle cx="408.7" cy="328.6" r="1.5" fill="#6301a6"/>
<circle cx="409.7" cy="319.3" r="1.5" fill="#6301a6"/>
<circle cx="410.9" cy="374.9" r="1.5" fill="#6301a6"/>
<circle cx="411.8" cy="326.8" r="1.5" fill="#6301a6"/>
<circle cx="412.2" cy="323.1" r="1.5" fill="#6301a6"/>
<circle cx="415.4" cy="367.3" r="1.5" fill="#6301a6"/>
<circle cx="415.5" cy="321.5" r="1.5" fill="#6301a6"/>
<circle cx="415.5" cy="374.5" r="1.5" fill="#6301a6"/>
<circle cx="416.8" cy="323.1" r="1.5" fill="#6301a6"/>
<circle cx="416.9" cy="327.1" r="1.5" fill="#6301a6"/>
<circle cx="418.4" cy="376.3" r="1.5" fill="#6301a6"/>
<circle cx="419.6" cy="324.7" r="1.5" fill="#6301a6"/>
<circle cx="420.6" cy="369.1" r="1.5" fill="#6301a6"/>
<circle cx="420.9" cy="327.3" r="1.5" fill="#6301a6"/>
<circle cx="421.0" cy="380.6" r="1.5" fill="#6301a6"/>
<circle cx="421.2" cy="391.4" r="1.5" fill="#6301a6"/>
<circle cx="422.1" cy="325.2" r="1.5" fill="#6301a6"/>
<circle cx="422.8" cy="376.3" r="1.5" fill="#6301a6"/>
<circle cx="424.0" cy="362.9" r="1.5" fill="#6301a6"/>
<circle cx="424.1" cy="374.4" r="1.5" fill="#6301a6"/>
<circle cx="425.6" cy="387.7" r="1.5" fill="#6301a6"/>
<circle cx="426.5" cy="332.7" r="1.5" fill="#6301a6"/>
<circle cx="426.6" cy="370.7" r="1.5" fill="#6301a6"/>
<circle cx="427.7" cy="380.2" r="1.5" fill="#6301a6"/>
<circle cx="428.5" cy="328.8" r="1.5" fill="#6301a6"/>
<circle cx="428.7" cy="366.6" r="1.5" fill="#6301a6"/>
<circle cx="429.7" cy="364.8" r="1.5" fill="#6301a6"/>
<circle cx="429.7" cy="334.9" r="1.5" fill="#6301a6"/>
<circle cx="430.4" cy="374.7" r="1.5" fill="#6301a6"/>
<circle cx="430.8" cy="370.7" r="1.5" fill="#6301a6"/>
<circle cx="430.9" cy="332.9" r="1.5" fill="#6301a6"/>
<circle cx="430.9" cy="378.4" r="1.5" fill="#6301a6"/>
<circle cx="434.8" cy="328.6" r="1.5" fill="#6301a6"/>
<circle cx="434.9" cy="371.0" r="1.5" fill="#6301a6"/>
<circle cx="435.0" cy="325.1" r="1.5" fill="#6301a6"/>
<circle cx="435.4" cy="332.4" r="1.5" fill="#6301a6"/>
<circle cx="436.6" cy="372.9" r="1.5" fill="#6301a6"/>
<circle cx="437.2" cy="367.2" r="1.5" fill="#6301a6"/>
<circle cx="437.8" cy="378.5" r="1.5" fill="#6301a6"/>
<circle cx="438.2" cy="364.7" r="1.5" fill="#6301a6"/>
<circle cx="438.8" cy="376.3" r="1.5" fill="#6301a6"/>
<circle cx="439.7" cy="370.8" r="1.5" fill="#6301a6"/>
<circle cx="439.9" cy="328.5" r="1.5" fill="#6301a6"/>
<circle cx="440.3" cy="380.6" r="1.5" fill="#6301a6"/>
<circle cx="440.7" cy="365.4" r="1.5" fill="#6301a6"/>
<circle cx="441.9" cy="367.3" r="1.5" fill="#6301a6"/>
<circle cx="442.6" cy="369.1" r="1.5" fill="#6301a6"/>
<circle cx="443.8" cy="325.0" r="1.5" fill="#6301a6"/>
<circle cx="444.3" cy="367.3" r="1.5" fill="#6301a6"/>
<circle cx="444.8" cy="380.5" r="1.5" fill="#6301a6"/>
<circle cx="447.7" cy="368.5" r="1.5" fill="#6301a6"/>
<circle cx="449.9" cy="372.8" r="1.5" fill="#6301a6"/>
<circle cx="452.5" cy="332.6" r="1.5" fill="#6301a6"/>
<circle cx="452.8" cy="374.6" r="1.5" fill="#6301a6"/>
<circle cx="457.0" cy="336.5" r="1.5" fill="#6301a6"/>
<circle cx="457.1" cy="328.5" r="1.5" fill="#6301a6"/>
<circle cx="410.7" cy="325.2" r="1.5" fill="#7404a7"/>
<circle cx="414.5" cy="368.8" r="1.5" fill="#7404a7"/>
<circle cx="417.4" cy="370.8" r="1.5" fill="#7404a7"/>
<circle cx="417.8" cy="321.1" r="1.5" fill="#7404a7"/>
<circle cx="425.6" cy="368.7" r="1.5" fill="#7404a7"/>
<circle cx="431.9" cy="376.6" r="1.5" fill="#7404a7"/>
<circle cx="432.0" cy="365.2" r="1.5" fill="#7404a7"/>
<circle cx="432.1" cy="372.6" r="1.5" fill="#7404a7"/>
<circle cx="432.2" cy="368.7" r="1.5" fill="#7404a7"/>
<circle cx="432.2" cy="327.1" r="1.5" fill="#7404a7"/>
<circle cx="433.1" cy="378.3" r="1.5" fill="#7404a7"/>
<circle cx="433.8" cy="372.4" r="1.5" fill="#7404a7"/>
<circle cx="434.4" cy="376.8" r="1.5" fill="#7404a7"/>
<circle cx="435.4" cy="366.7" r="1.5" fill="#7404a7"/>
<circle cx="436.0" cy="376.1" r="1.5" fill="#7404a7"/>
<circle cx="437.2" cy="333.0" r="1.5" fill="#7404a7"/>
<circle cx="437.3" cy="374.3" r="1.5" fill="#7404a7"/>
<circle cx="441.6" cy="378.1" r="1.5" fill="#7404a7"/>
<circle cx="441.6" cy="325.3" r="1.5" fill="#7404a7"/>
<circle cx="441.8" cy="374.5" r="1.5" fill="#7404a7"/>
<circle cx="441.9" cy="370.5" r="1.5" fill="#7404a7"/>
<circle cx="444.8" cy="334.7" r="1.5" fill="#7404a7"/>
<circle cx="447.6" cy="372.5" r="1.5" fill="#7404a7"/>
<circle cx="448.3" cy="374.8" r="1.5" fill="#7404a7"/>
<circle cx="419.9" cy="320.9" r="1.5" fill="#8509a5"/>
<circle cx="426.1" cy="367.3" r="1.5" fill="#8509a5"/>
<circle cx="429.4" cy="369.1" r="1.5" fill="#8509a5"/>
<circle cx="432.9" cy="367.0" r="1.5" fill="#8509a5"/>
<circle cx="439.7" cy="367.0" r="1.5" fill="#8509a5"/>
<circle cx="439.9" cy="374.4" r="1.5" fill="#8509a5"/>
<circle cx="445.4" cy="372.7" r="1.5" fill="#8509a5"/>
<circle cx="447.7" cy="330.7" r="1.5" fill="#8509a5"/>
<circle cx="448.0" cy="370.5" r="1.5" fill="#8509a5"/>
<circle cx="450.8" cy="374.6" r="1.5" fill="#8509a5"/>
<circle cx="451.8" cy="372.8" r="1.5" fill="#8509a5"/>
<circle cx="426.6" cy="374.2" r="1.5" fill="#9512a0"/>
<circle cx="427.7" cy="376.5" r="1.5" fill="#9512a0"/>
<circle cx="432.9" cy="370.4" r="1.5" fill="#9512a0"/>
<circle cx="436.6" cy="369.0" r="1.5" fill="#9512a0"/>
<circle cx="438.4" cy="372.6" r="1.5" fill="#9512a0"/>
<circle cx="440.8" cy="369.1" r="1.5" fill="#9512a0"/>
<circle cx="427.8" cy="372.4" r="1.5" fill="#a51f97"/>
<circle cx="432.9" cy="374.7" r="1.5" fill="#a51f97"/>
<circle cx="442.7" cy="327.0" r="1.5" fill="#a51f97"/>
<circle cx="444.2" cy="370.5" r="1.5" fill="#a51f97"/>
<circle cx="446.3" cy="370.5" r="1.5" fill="#a51f97"/>
<circle cx="450.5" cy="370.6" r="1.5" fill="#a51f97"/>
<circle cx="428.2" cy="374.9" r="1.5" fill="#b32d8e"/>
<circle cx="426.0" cy="369.0" r="1.5" fill="#d6546e"/>
<circle cx="447.4" cy="372.7" r="1.5" fill="#d6546e"/>
<circle cx="422.6" cy="370.3" r="1.5" fill="#df6164"/>
<circle cx="437.0" cy="371.9" r="1.5" fill="#df6164"/>
<circle cx="442.6" cy="375.0" r="1.5" fill="#df6164"/>
<circle cx="431.4" cy="372.7" r="1.5" fill="#e7705a"/>
<circle cx="436.2" cy="380.2" r="1.5" fill="#1ee6f5"/>
<defs><linearGradient id="cbg2" x1="0" y1="1" x2="0" y2="0"><stop offset="0.0" stop-color="#35288c"/><stop offset="0.1" stop-color="#4a1a9c"/><stop offset="0.2" stop-color="#6a0ca8"/><stop offset="0.3" stop-color="#8c14a6"/><stop offset="0.4" stop-color="#ae2c94"/><stop offset="0.5" stop-color="#c9497a"/><stop offset="0.6" stop-color="#e06364"/><stop offset="0.7" stop-color="#f0834e"/><stop offset="0.8" stop-color="#f9a53a"/><stop offset="0.9" stop-color="#f9cc2c"/><stop offset="1.0" stop-color="#eef02c"/></linearGradient></defs>
<rect x="499.4" y="302.40" width="6.0" height="110.00" fill="url(#cbg2)" stroke="#6a6a6a" stroke-width="0.5"/>
<line x1="505.40" y1="412.40" x2="508.20" y2="412.40" stroke="#8c8c8c" stroke-width="0.8" />
<text x="510.80" y="414.70" font-size="6.4" text-anchor="start">0</text>
<line x1="505.40" y1="402.40" x2="508.20" y2="402.40" stroke="#8c8c8c" stroke-width="0.8" />
<text x="510.80" y="404.70" font-size="6.4" text-anchor="start">2</text>
<line x1="505.40" y1="392.40" x2="508.20" y2="392.40" stroke="#8c8c8c" stroke-width="0.8" />
<text x="510.80" y="394.70" font-size="6.4" text-anchor="start">4</text>
<line x1="505.40" y1="382.40" x2="508.20" y2="382.40" stroke="#8c8c8c" stroke-width="0.8" />
<text x="510.80" y="384.70" font-size="6.4" text-anchor="start">6</text>
<line x1="505.40" y1="372.40" x2="508.20" y2="372.40" stroke="#8c8c8c" stroke-width="0.8" />
<text x="510.80" y="374.70" font-size="6.4" text-anchor="start">8</text>
<line x1="505.40" y1="362.40" x2="508.20" y2="362.40" stroke="#8c8c8c" stroke-width="0.8" />
<text x="510.80" y="364.70" font-size="6.4" text-anchor="start">10</text>
<line x1="505.40" y1="352.40" x2="508.20" y2="352.40" stroke="#8c8c8c" stroke-width="0.8" />
<text x="510.80" y="354.70" font-size="6.4" text-anchor="start">12</text>
<line x1="505.40" y1="342.40" x2="508.20" y2="342.40" stroke="#8c8c8c" stroke-width="0.8" />
<text x="510.80" y="344.70" font-size="6.4" text-anchor="start">14</text>
<line x1="505.40" y1="332.40" x2="508.20" y2="332.40" stroke="#8c8c8c" stroke-width="0.8" />
<text x="510.80" y="334.70" font-size="6.4" text-anchor="start">16</text>
<line x1="505.40" y1="322.40" x2="508.20" y2="322.40" stroke="#8c8c8c" stroke-width="0.8" />
<text x="510.80" y="324.70" font-size="6.4" text-anchor="start">18</text>
<line x1="505.40" y1="312.40" x2="508.20" y2="312.40" stroke="#8c8c8c" stroke-width="0.8" />
<text x="510.80" y="314.70" font-size="6.4" text-anchor="start">20</text>
<line x1="505.40" y1="302.40" x2="508.20" y2="302.40" stroke="#8c8c8c" stroke-width="0.8" />
<text x="510.80" y="304.70" font-size="6.4" text-anchor="start">22</text>
<text x="496.30" y="356.60" font-size="6.4" text-anchor="middle" transform="rotate(-90 496.30 356.60)" textLength="59.8" lengthAdjust="spacingAndGlyphs">Number of synapses</text>
<rect x="556.00" y="306.40" width="125.60" height="105.80" fill="none" stroke="#8c8c8c" stroke-width="0.85"/>
<line x1="553.10" y1="412.00" x2="556.00" y2="412.00" stroke="#777" stroke-width="1.0" />
<text x="550.00" y="414.55" font-size="6.6" text-anchor="end">0</text>
<line x1="553.10" y1="398.15" x2="556.00" y2="398.15" stroke="#777" stroke-width="1.0" />
<text x="550.00" y="400.70" font-size="6.6" text-anchor="end">50</text>
<line x1="553.10" y1="384.30" x2="556.00" y2="384.30" stroke="#777" stroke-width="1.0" />
<text x="550.00" y="386.85" font-size="6.6" text-anchor="end">100</text>
<line x1="553.10" y1="370.45" x2="556.00" y2="370.45" stroke="#777" stroke-width="1.0" />
<text x="550.00" y="373.00" font-size="6.6" text-anchor="end">150</text>
<line x1="553.10" y1="356.60" x2="556.00" y2="356.60" stroke="#777" stroke-width="1.0" />
<text x="550.00" y="359.15" font-size="6.6" text-anchor="end">200</text>
<line x1="553.10" y1="342.75" x2="556.00" y2="342.75" stroke="#777" stroke-width="1.0" />
<text x="550.00" y="345.30" font-size="6.6" text-anchor="end">250</text>
<line x1="553.10" y1="328.90" x2="556.00" y2="328.90" stroke="#777" stroke-width="1.0" />
<text x="550.00" y="331.45" font-size="6.6" text-anchor="end">300</text>
<line x1="553.10" y1="315.05" x2="556.00" y2="315.05" stroke="#777" stroke-width="1.0" />
<text x="550.00" y="317.60" font-size="6.6" text-anchor="end">350</text>
<line x1="561.60" y1="412.20" x2="561.60" y2="414.90" stroke="#777" stroke-width="1.0" />
<text x="561.60" y="423.50" font-size="6.6" text-anchor="middle">0</text>
<line x1="584.68" y1="412.20" x2="584.68" y2="414.90" stroke="#777" stroke-width="1.0" />
<text x="584.68" y="423.50" font-size="6.6" text-anchor="middle">100</text>
<line x1="607.76" y1="412.20" x2="607.76" y2="414.90" stroke="#777" stroke-width="1.0" />
<text x="607.76" y="423.50" font-size="6.6" text-anchor="middle">200</text>
<line x1="630.84" y1="412.20" x2="630.84" y2="414.90" stroke="#777" stroke-width="1.0" />
<text x="630.84" y="423.50" font-size="6.6" text-anchor="middle">300</text>
<line x1="653.92" y1="412.20" x2="653.92" y2="414.90" stroke="#777" stroke-width="1.0" />
<text x="653.92" y="423.50" font-size="6.6" text-anchor="middle">400</text>
<line x1="677.00" y1="412.20" x2="677.00" y2="414.90" stroke="#777" stroke-width="1.0" />
<text x="677.00" y="423.50" font-size="6.6" text-anchor="middle">500</text>
<text x="618.70" y="434.60" font-size="6.4" text-anchor="middle" textLength="80.0" lengthAdjust="spacingAndGlyphs">Intersynapse distance (µm)</text>
<text x="532.40" y="359.00" font-size="6.4" text-anchor="middle" transform="rotate(-90 532.40 359.00)" textLength="31.3" lengthAdjust="spacingAndGlyphs">Frequency</text>
<path d="M561.60,412.00 L561.60,311.45 L563.91,311.45 L563.91,362.69 L566.22,362.69 L566.22,372.78 L568.52,372.78 L568.52,358.07 L570.83,358.07 L570.83,358.07 L573.14,358.07 L573.14,341.25 L575.45,341.25 L575.45,337.27 L577.76,337.27 L577.76,344.55 L580.06,344.55 L580.06,352.72 L582.37,352.72 L582.37,367.32 L584.68,367.32 L584.68,369.62 L586.99,369.62 L586.99,377.10 L589.30,377.10 L589.30,386.41 L591.60,386.41 L591.60,393.05 L593.91,393.05 L593.91,393.05 L596.22,393.05 L596.22,401.31 L598.53,401.31 L598.53,403.77 L600.84,403.77 L600.84,404.58 L603.14,404.58 L603.14,400.31 L605.45,400.31 L605.45,408.73 L607.76,408.73 L607.76,407.76 L610.07,407.76 L610.07,407.26 L612.38,407.26 L612.38,406.27 L614.68,406.27 L614.68,407.96 L616.99,407.96 L616.99,407.26 L619.30,407.26 L619.30,409.23 L621.61,409.23 L621.61,411.72 L623.92,411.72 L623.92,407.96 L626.22,407.96 L626.22,411.22 L628.53,411.22 L628.53,409.73 L630.84,409.73 L630.84,409.23 L633.15,409.23 L633.15,407.26 L635.46,407.26 L635.46,406.76 L637.76,406.76 L637.76,410.73 L640.07,410.73 L640.07,409.23 L642.38,409.23 L642.38,408.26 L644.69,408.26 L644.69,407.57 L647.00,407.57 L647.00,404.27 L649.30,404.27 L649.30,400.81 L651.61,400.81 L651.61,395.32 L653.92,395.32 L653.92,393.86 L656.23,393.86 L656.23,395.32 L658.54,395.32 L658.54,398.01 L660.84,398.01 L660.84,393.36 L663.15,393.36 L663.15,395.82 L665.46,395.82 L665.46,399.31 L667.77,399.31 L667.77,401.00 L670.08,401.00 L670.08,402.78 L672.38,402.78 L672.38,409.23 L674.69,409.23 L674.69,412.00 L677.00,412.00 L677.00,412.00" fill="none" stroke="#f3d41c" stroke-width="0.95" stroke-linejoin="miter"/>
<path d="M561.60,412.00 L561.60,353.91 L563.91,353.91 L563.91,395.05 L566.22,395.05 L566.22,398.32 L568.52,398.32 L568.52,401.81 L570.83,401.81 L570.83,399.01 L573.14,399.01 L573.14,400.81 L575.45,400.81 L575.45,400.31 L577.76,400.31 L577.76,401.81 L580.06,401.81 L580.06,403.77 L582.37,403.77 L582.37,404.27 L584.68,404.27 L584.68,406.27 L586.99,406.27 L586.99,402.31 L589.30,402.31 L589.30,404.77 L591.60,404.77 L591.60,406.27 L593.91,406.27 L593.91,408.95 L596.22,408.95 L596.22,407.26 L598.53,407.26 L598.53,406.76 L600.84,406.76 L600.84,406.27 L603.14,406.27 L603.14,406.76 L605.45,406.76 L605.45,409.23 L607.76,409.23 L607.76,409.51 L610.07,409.51 L610.07,410.23 L612.38,410.23 L612.38,409.23 L614.68,409.23 L614.68,408.73 L616.99,408.73 L616.99,411.22 L619.30,411.22 L619.30,411.45 L621.61,411.45 L621.61,411.45 L623.92,411.45 L623.92,411.45 L626.22,411.45 L626.22,411.45 L628.53,411.45 L628.53,411.45 L630.84,411.45 L630.84,411.45 L633.15,411.45 L633.15,411.45 L635.46,411.45 L635.46,411.45 L637.76,411.45 L637.76,411.45 L640.07,411.45 L640.07,411.45 L642.38,411.45 L642.38,411.45 L644.69,411.45 L644.69,411.45 L647.00,411.45 L647.00,411.45 L649.30,411.45 L649.30,411.45 L651.61,411.45 L651.61,411.45 L653.92,411.45 L653.92,411.72 L656.23,411.72 L656.23,411.72 L658.54,411.72 L658.54,411.72 L660.84,411.72 L660.84,411.72 L663.15,411.72 L663.15,411.72 L665.46,411.72 L665.46,411.72 L667.77,411.72 L667.77,411.72 L670.08,411.72 L670.08,411.72 L672.38,411.72 L672.38,411.72 L674.69,411.72 L674.69,412.00 L677.00,412.00 L677.00,412.00" fill="none" stroke="#d3283f" stroke-width="0.95" stroke-linejoin="miter"/>
<path d="M561.60,412.00 L561.60,384.11 L563.91,384.11 L563.91,401.81 L566.22,401.81 L566.22,403.58 L568.52,403.58 L568.52,404.27 L570.83,404.27 L570.83,405.77 L573.14,405.77 L573.14,406.27 L575.45,406.27 L575.45,405.27 L577.76,405.27 L577.76,405.77 L580.06,405.77 L580.06,407.76 L582.37,407.76 L582.37,408.73 L584.68,408.73 L584.68,409.23 L586.99,409.23 L586.99,410.23 L589.30,410.23 L589.30,411.22 L591.60,411.22 L591.60,411.22 L593.91,411.22 L593.91,411.45 L596.22,411.45 L596.22,411.45 L598.53,411.45 L598.53,411.45 L600.84,411.45 L600.84,411.45 L603.14,411.45 L603.14,411.45 L605.45,411.45 L605.45,411.45 L607.76,411.45 L607.76,411.45 L610.07,411.45 L610.07,411.45 L612.38,411.45 L612.38,411.45 L614.68,411.45 L614.68,411.45 L616.99,411.45 L616.99,411.45 L619.30,411.45 L619.30,411.45 L621.61,411.45 L621.61,411.45 L623.92,411.45 L623.92,411.45 L626.22,411.45 L626.22,411.45 L628.53,411.45 L628.53,411.45 L630.84,411.45 L630.84,411.45 L633.15,411.45 L633.15,411.45 L635.46,411.45 L635.46,411.45 L637.76,411.45 L637.76,411.45 L640.07,411.45 L640.07,411.45 L642.38,411.45 L642.38,411.45 L644.69,411.45 L644.69,411.45 L647.00,411.45 L647.00,411.45 L649.30,411.45 L649.30,411.45 L651.61,411.45 L651.61,411.45 L653.92,411.45 L653.92,411.45 L656.23,411.45 L656.23,411.45 L658.54,411.45 L658.54,411.45 L660.84,411.45 L660.84,411.45 L663.15,411.45 L663.15,411.45 L665.46,411.45 L665.46,411.45 L667.77,411.45 L667.77,411.45 L670.08,411.45 L670.08,411.45 L672.38,411.45 L672.38,411.72 L674.69,411.72 L674.69,412.00 L677.00,412.00 L677.00,412.00" fill="none" stroke="#df42e0" stroke-width="0.95" stroke-linejoin="miter"/>
<path d="M561.60,412.00 L561.60,392.86 L563.91,392.86 L563.91,401.31 L566.22,401.31 L566.22,402.78 L568.52,402.78 L568.52,405.77 L570.83,405.77 L570.83,403.77 L573.14,403.77 L573.14,406.76 L575.45,406.76 L575.45,405.77 L577.76,405.77 L577.76,402.31 L580.06,402.31 L580.06,406.27 L582.37,406.27 L582.37,407.26 L584.68,407.26 L584.68,408.26 L586.99,408.26 L586.99,408.73 L589.30,408.73 L589.30,409.23 L591.60,409.23 L591.60,409.78 L593.91,409.78 L593.91,410.06 L596.22,410.06 L596.22,410.34 L598.53,410.34 L598.53,410.62 L600.84,410.62 L600.84,410.62 L603.14,410.62 L603.14,410.89 L605.45,410.89 L605.45,410.89 L607.76,410.89 L607.76,410.89 L610.07,410.89 L610.07,410.89 L612.38,410.89 L612.38,410.89 L614.68,410.89 L614.68,410.89 L616.99,410.89 L616.99,410.89 L619.30,410.89 L619.30,410.89 L621.61,410.89 L621.61,410.89 L623.92,410.89 L623.92,410.89 L626.22,410.89 L626.22,410.89 L628.53,410.89 L628.53,410.89 L630.84,410.89 L630.84,410.23 L633.15,410.23 L633.15,410.23 L635.46,410.23 L635.46,406.27 L637.76,406.27 L637.76,411.17 L640.07,411.17 L640.07,411.17 L642.38,411.17 L642.38,411.17 L644.69,411.17 L644.69,411.17 L647.00,411.17 L647.00,411.17 L649.30,411.17 L649.30,411.17 L651.61,411.17 L651.61,411.17 L653.92,411.17 L653.92,411.17 L656.23,411.17 L656.23,411.17 L658.54,411.17 L658.54,411.17 L660.84,411.17 L660.84,411.17 L663.15,411.17 L663.15,410.23 L665.46,410.23 L665.46,410.23 L667.77,410.23 L667.77,410.23 L670.08,410.23 L670.08,411.45 L672.38,411.45 L672.38,411.72 L674.69,411.72 L674.69,412.00 L677.00,412.00 L677.00,412.00" fill="none" stroke="#f29ccf" stroke-width="0.95" stroke-linejoin="miter"/>
<path d="M561.60,412.00 L561.60,400.01 L563.91,400.01 L563.91,410.23 L566.22,410.23 L566.22,408.26 L568.52,408.26 L568.52,410.23 L570.83,410.23 L570.83,409.23 L573.14,409.23 L573.14,407.26 L575.45,407.26 L575.45,406.27 L577.76,406.27 L577.76,405.27 L580.06,405.27 L580.06,406.76 L582.37,406.76 L582.37,408.26 L584.68,408.26 L584.68,409.23 L586.99,409.23 L586.99,409.92 L589.30,409.92 L589.30,410.23 L591.60,410.23 L591.60,410.62 L593.91,410.62 L593.91,410.89 L596.22,410.89 L596.22,411.17 L598.53,411.17 L598.53,411.17 L600.84,411.17 L600.84,411.17 L603.14,411.17 L603.14,411.17 L605.45,411.17 L605.45,411.17 L607.76,411.17 L607.76,411.17 L610.07,411.17 L610.07,411.17 L612.38,411.17 L612.38,411.17 L614.68,411.17 L614.68,411.17 L616.99,411.17 L616.99,411.17 L619.30,411.17 L619.30,411.17 L621.61,411.17 L621.61,411.17 L623.92,411.17 L623.92,411.17 L626.22,411.17 L626.22,411.17 L628.53,411.17 L628.53,411.17 L630.84,411.17 L630.84,411.17 L633.15,411.17 L633.15,411.17 L635.46,411.17 L635.46,411.17 L637.76,411.17 L637.76,411.17 L640.07,411.17 L640.07,411.17 L642.38,411.17 L642.38,411.22 L644.69,411.22 L644.69,411.22 L647.00,411.22 L647.00,411.22 L649.30,411.22 L649.30,410.23 L651.61,410.23 L651.61,410.23 L653.92,410.23 L653.92,411.22 L656.23,411.22 L656.23,411.22 L658.54,411.22 L658.54,411.22 L660.84,411.22 L660.84,409.23 L663.15,409.23 L663.15,411.22 L665.46,411.22 L665.46,411.22 L667.77,411.22 L667.77,411.22 L670.08,411.22 L670.08,411.22 L672.38,411.22 L672.38,411.22 L674.69,411.22 L674.69,412.00 L677.00,412.00 L677.00,412.00" fill="none" stroke="#4fd3e5" stroke-width="0.95" stroke-linejoin="miter"/>
<path d="M561.60,412.00 L561.60,406.27 L563.91,406.27 L563.91,411.72 L566.22,411.72 L566.22,411.72 L568.52,411.72 L568.52,411.72 L570.83,411.72 L570.83,411.72 L573.14,411.72 L573.14,411.72 L575.45,411.72 L575.45,411.72 L577.76,411.72 L577.76,410.23 L580.06,410.23 L580.06,411.45 L582.37,411.45 L582.37,411.45 L584.68,411.45 L584.68,411.45 L586.99,411.45 L586.99,411.45 L589.30,411.45 L589.30,410.23 L591.60,410.23 L591.60,411.45 L593.91,411.45 L593.91,411.45 L596.22,411.45 L596.22,411.72 L598.53,411.72 L598.53,411.72 L600.84,411.72 L600.84,411.72 L603.14,411.72 L603.14,411.72 L605.45,411.72 L605.45,411.72 L607.76,411.72 L607.76,411.72 L610.07,411.72 L610.07,411.72 L612.38,411.72 L612.38,411.72 L614.68,411.72 L614.68,411.72 L616.99,411.72 L616.99,411.72 L619.30,411.72 L619.30,411.72 L621.61,411.72 L621.61,411.72 L623.92,411.72 L623.92,411.72 L626.22,411.72 L626.22,411.72 L628.53,411.72 L628.53,411.72 L630.84,411.72 L630.84,411.72 L633.15,411.72 L633.15,411.72 L635.46,411.72 L635.46,411.72 L637.76,411.72 L637.76,411.72 L640.07,411.72 L640.07,411.72 L642.38,411.72 L642.38,411.72 L644.69,411.72 L644.69,411.72 L647.00,411.72 L647.00,411.72 L649.30,411.72 L649.30,411.72 L651.61,411.72 L651.61,411.72 L653.92,411.72 L653.92,411.72 L656.23,411.72 L656.23,411.72 L658.54,411.72 L658.54,411.72 L660.84,411.72 L660.84,411.72 L663.15,411.72 L663.15,411.72 L665.46,411.72 L665.46,411.72 L667.77,411.72 L667.77,411.72 L670.08,411.72 L670.08,411.72 L672.38,411.72 L672.38,411.72 L674.69,411.72 L674.69,412.00 L677.00,412.00 L677.00,412.00" fill="none" stroke="#2ec82e" stroke-width="0.95" stroke-linejoin="miter"/>
</svg></body></html>
